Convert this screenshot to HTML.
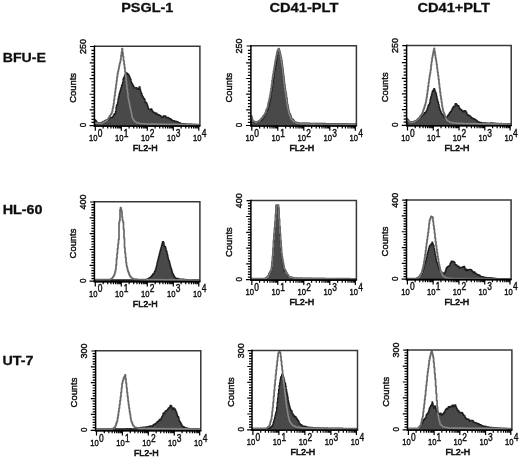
<!DOCTYPE html>
<html lang="en"><head><meta charset="utf-8"><title>Figure</title>
<style>
html,body{margin:0;padding:0;background:#fff;}
body{width:520px;height:458px;overflow:hidden;}
svg{display:block;}
</style></head><body>
<svg width="520" height="458" viewBox="0 0 520 458">
<defs><filter id="soft" x="0" y="0" width="520" height="458" filterUnits="userSpaceOnUse"><feGaussianBlur stdDeviation="0.38"/></filter></defs>
<rect width="520" height="458" fill="#fff"/>
<g filter="url(#soft)">
<g font-family="'Liberation Sans', Arial, Helvetica, sans-serif" fill="#111">
<g font-weight="bold" font-size="13.2px" stroke="#111" stroke-width="0.3">
<text x="121.2" y="12.4" textLength="52.2" lengthAdjust="spacingAndGlyphs">PSGL-1</text>
<text x="269.4" y="12.4" textLength="69.1" lengthAdjust="spacingAndGlyphs">CD41-PLT</text>
<text x="417.4" y="12.4" textLength="72.5" lengthAdjust="spacingAndGlyphs">CD41+PLT</text>
<text x="2.7" y="62.1" textLength="43.2" lengthAdjust="spacingAndGlyphs">BFU-E</text>
<text x="2.7" y="214.1" textLength="39.9" lengthAdjust="spacingAndGlyphs">HL-60</text>
<text x="2.5" y="365.2" textLength="30.9" lengthAdjust="spacingAndGlyphs">UT-7</text>
</g>
<g id="p1">
<clipPath id="c1"><rect x="94.4" y="46.3" width="105.5" height="80.60000000000001"/></clipPath>
<g clip-path="url(#c1)">
<clipPath id="d1"><path d="M95.0,119.8 H95.5 V120.6 H96.0 V121.2 H96.5 V122.0 H97.0 V123.1 H97.5 V123.1 H98.0 V122.8 H98.5 V122.8 H99.0 V123.0 H99.5 V123.0 H100.0 V122.9 H100.5 V122.9 H101.0 V122.8 H101.5 V122.5 H102.0 V122.5 H102.5 V122.3 H103.0 V121.7 H103.5 V121.4 H104.0 V121.4 H104.5 V121.2 H105.0 V120.6 H105.5 V120.4 H106.0 V120.1 H106.5 V119.8 H107.0 V119.9 H107.5 V119.7 H108.0 V119.9 H108.5 V119.6 H109.0 V118.5 H109.5 V118.1 H110.0 V117.9 H110.5 V117.5 H111.0 V117.7 H111.5 V117.3 H112.0 V117.5 H112.5 V117.1 H113.0 V116.1 H113.5 V115.4 H114.0 V114.3 H114.5 V113.6 H115.0 V113.9 H115.5 V111.6 H116.0 V107.7 H116.5 V105.4 H117.0 V104.6 H117.5 V102.4 H118.0 V99.1 H118.5 V96.9 H119.0 V94.4 H119.5 V92.6 H120.0 V90.8 H120.5 V89.1 H121.0 V87.7 H121.5 V85.7 H122.0 V84.6 H122.5 V82.6 H123.0 V79.4 H123.5 V77.9 H124.0 V77.1 H124.5 V75.6 H125.0 V74.3 H125.5 V73.9 H126.0 V73.1 H126.5 V72.8 H127.0 V73.7 H127.5 V74.4 H128.0 V74.2 H128.5 V75.2 H129.0 V76.2 H129.5 V77.2 H130.0 V78.5 H130.5 V79.7 H131.0 V81.8 H131.5 V83.1 H132.0 V83.9 H132.5 V84.9 H133.0 V85.7 H133.5 V86.7 H134.0 V88.2 H134.5 V88.2 H135.0 V87.9 H135.5 V87.9 H136.0 V87.6 H136.5 V87.9 H137.0 V89.0 H137.5 V89.3 H138.0 V89.4 H138.5 V88.6 H139.0 V87.1 H139.5 V86.9 H140.0 V89.4 H140.5 V91.3 H141.0 V93.0 H141.5 V94.0 H142.0 V95.7 H142.5 V96.7 H143.0 V97.4 H143.5 V98.4 H144.0 V98.6 H144.5 V99.6 H145.0 V101.9 H145.5 V102.9 H146.0 V102.3 H146.5 V103.3 H147.0 V104.9 H147.5 V106.1 H148.0 V108.0 H148.5 V109.2 H149.0 V109.4 H149.5 V109.3 H150.0 V109.8 H150.5 V109.7 H151.0 V108.8 H151.5 V109.3 H152.0 V110.9 H152.5 V111.4 H153.0 V112.1 H153.5 V112.4 H154.0 V112.4 H154.5 V112.8 H155.0 V113.7 H155.5 V113.9 H156.0 V113.2 H156.5 V113.4 H157.0 V114.4 H157.5 V114.6 H158.0 V114.7 H158.5 V114.9 H159.0 V115.1 H159.5 V115.5 H160.0 V115.6 H160.5 V115.9 H161.0 V116.9 H161.5 V117.2 H162.0 V117.7 H162.5 V117.4 H163.0 V116.3 H163.5 V115.9 H164.0 V115.9 H164.5 V116.4 H165.0 V115.9 H165.5 V116.4 H166.0 V117.9 H166.5 V117.8 H167.0 V117.5 H167.5 V117.4 H168.0 V117.8 H168.5 V118.2 H169.0 V118.5 H169.5 V118.9 H170.0 V118.7 H170.5 V119.1 H171.0 V119.5 H171.5 V119.9 H172.0 V120.5 H172.5 V120.8 H173.0 V120.6 H173.5 V120.7 H174.0 V121.2 H174.5 V121.3 H175.0 V121.2 H175.5 V121.4 H176.0 V121.5 H176.5 V121.6 H177.0 V121.7 H177.5 V121.9 H178.0 V122.6 H178.5 V122.8 H179.0 V122.6 H179.5 V122.8 H180.0 V123.1 H180.5 V123.3 H181.0 V123.6 H181.5 V123.6 H182.0 V123.8 H182.5 V123.8 H183.0 V123.6 H183.5 V123.6 H184.0 V123.8 H184.5 V123.8 H185.0 V123.9 H185.5 V123.9 H186.0 V124.1 H186.5 V124.1 H187.0 V124.1 H187.5 V124.1 H188.0 V124.2 H188.5 V124.2 H189.0 V124.1 H189.5 V124.1 H190.0 V124.2 H190.5 V124.2 H191.0 V124.2 H191.5 V124.3 H192.0 V124.4 H192.5 V124.5 H193.0 V124.4 H193.5 V124.4 H194.0 V124.5 H194.5 V124.5 H195.0 V124.5 H195.5 V124.5 H196.0 V124.6 H196.5 V124.6 H197.0 V124.6 H197.5 V124.7 H198.0 V124.7 H198.5 V124.7 H199.0 V124.7 H199.5 V124.8 H200.0 V124.8 V126.9 H95.0 Z"/></clipPath>
<path d="M95.0,119.8 H95.5 V120.6 H96.0 V121.2 H96.5 V122.0 H97.0 V123.1 H97.5 V123.1 H98.0 V122.8 H98.5 V122.8 H99.0 V123.0 H99.5 V123.0 H100.0 V122.9 H100.5 V122.9 H101.0 V122.8 H101.5 V122.5 H102.0 V122.5 H102.5 V122.3 H103.0 V121.7 H103.5 V121.4 H104.0 V121.4 H104.5 V121.2 H105.0 V120.6 H105.5 V120.4 H106.0 V120.1 H106.5 V119.8 H107.0 V119.9 H107.5 V119.7 H108.0 V119.9 H108.5 V119.6 H109.0 V118.5 H109.5 V118.1 H110.0 V117.9 H110.5 V117.5 H111.0 V117.7 H111.5 V117.3 H112.0 V117.5 H112.5 V117.1 H113.0 V116.1 H113.5 V115.4 H114.0 V114.3 H114.5 V113.6 H115.0 V113.9 H115.5 V111.6 H116.0 V107.7 H116.5 V105.4 H117.0 V104.6 H117.5 V102.4 H118.0 V99.1 H118.5 V96.9 H119.0 V94.4 H119.5 V92.6 H120.0 V90.8 H120.5 V89.1 H121.0 V87.7 H121.5 V85.7 H122.0 V84.6 H122.5 V82.6 H123.0 V79.4 H123.5 V77.9 H124.0 V77.1 H124.5 V75.6 H125.0 V74.3 H125.5 V73.9 H126.0 V73.1 H126.5 V72.8 H127.0 V73.7 H127.5 V74.4 H128.0 V74.2 H128.5 V75.2 H129.0 V76.2 H129.5 V77.2 H130.0 V78.5 H130.5 V79.7 H131.0 V81.8 H131.5 V83.1 H132.0 V83.9 H132.5 V84.9 H133.0 V85.7 H133.5 V86.7 H134.0 V88.2 H134.5 V88.2 H135.0 V87.9 H135.5 V87.9 H136.0 V87.6 H136.5 V87.9 H137.0 V89.0 H137.5 V89.3 H138.0 V89.4 H138.5 V88.6 H139.0 V87.1 H139.5 V86.9 H140.0 V89.4 H140.5 V91.3 H141.0 V93.0 H141.5 V94.0 H142.0 V95.7 H142.5 V96.7 H143.0 V97.4 H143.5 V98.4 H144.0 V98.6 H144.5 V99.6 H145.0 V101.9 H145.5 V102.9 H146.0 V102.3 H146.5 V103.3 H147.0 V104.9 H147.5 V106.1 H148.0 V108.0 H148.5 V109.2 H149.0 V109.4 H149.5 V109.3 H150.0 V109.8 H150.5 V109.7 H151.0 V108.8 H151.5 V109.3 H152.0 V110.9 H152.5 V111.4 H153.0 V112.1 H153.5 V112.4 H154.0 V112.4 H154.5 V112.8 H155.0 V113.7 H155.5 V113.9 H156.0 V113.2 H156.5 V113.4 H157.0 V114.4 H157.5 V114.6 H158.0 V114.7 H158.5 V114.9 H159.0 V115.1 H159.5 V115.5 H160.0 V115.6 H160.5 V115.9 H161.0 V116.9 H161.5 V117.2 H162.0 V117.7 H162.5 V117.4 H163.0 V116.3 H163.5 V115.9 H164.0 V115.9 H164.5 V116.4 H165.0 V115.9 H165.5 V116.4 H166.0 V117.9 H166.5 V117.8 H167.0 V117.5 H167.5 V117.4 H168.0 V117.8 H168.5 V118.2 H169.0 V118.5 H169.5 V118.9 H170.0 V118.7 H170.5 V119.1 H171.0 V119.5 H171.5 V119.9 H172.0 V120.5 H172.5 V120.8 H173.0 V120.6 H173.5 V120.7 H174.0 V121.2 H174.5 V121.3 H175.0 V121.2 H175.5 V121.4 H176.0 V121.5 H176.5 V121.6 H177.0 V121.7 H177.5 V121.9 H178.0 V122.6 H178.5 V122.8 H179.0 V122.6 H179.5 V122.8 H180.0 V123.1 H180.5 V123.3 H181.0 V123.6 H181.5 V123.6 H182.0 V123.8 H182.5 V123.8 H183.0 V123.6 H183.5 V123.6 H184.0 V123.8 H184.5 V123.8 H185.0 V123.9 H185.5 V123.9 H186.0 V124.1 H186.5 V124.1 H187.0 V124.1 H187.5 V124.1 H188.0 V124.2 H188.5 V124.2 H189.0 V124.1 H189.5 V124.1 H190.0 V124.2 H190.5 V124.2 H191.0 V124.2 H191.5 V124.3 H192.0 V124.4 H192.5 V124.5 H193.0 V124.4 H193.5 V124.4 H194.0 V124.5 H194.5 V124.5 H195.0 V124.5 H195.5 V124.5 H196.0 V124.6 H196.5 V124.6 H197.0 V124.6 H197.5 V124.7 H198.0 V124.7 H198.5 V124.7 H199.0 V124.7 H199.5 V124.8 H200.0 V124.8 V126.9 H95.0 Z" fill="#494949" stroke="#1e1e1e" stroke-width="1.3" stroke-linejoin="miter"/>
<path d="M95.0,123.1 H95.5 V123.2 H96.0 V123.0 H96.5 V123.1 H97.0 V123.1 H97.5 V123.2 H98.0 V123.2 H98.5 V123.3 H99.0 V123.3 H99.5 V123.4 H100.0 V123.5 H100.5 V123.5 H101.0 V123.6 H101.5 V123.4 H102.0 V123.0 H102.5 V122.7 H103.0 V122.4 H103.5 V122.1 H104.0 V122.0 H104.5 V121.7 H105.0 V121.5 H105.5 V121.2 H106.0 V121.0 H106.5 V120.4 H107.0 V119.9 H107.5 V119.3 H108.0 V118.5 H108.5 V117.8 H109.0 V117.0 H109.5 V116.2 H110.0 V115.5 H110.5 V114.6 H111.0 V113.8 H111.5 V113.0 H112.0 V111.6 H112.5 V108.7 H113.0 V106.7 H113.5 V103.6 H114.0 V99.6 H114.5 V95.7 H115.0 V91.9 H115.5 V88.2 H116.0 V84.5 H116.5 V80.8 H117.0 V76.8 H117.5 V73.4 H118.0 V71.1 H118.5 V68.8 H119.0 V66.1 H119.5 V63.8 H120.0 V62.0 H120.5 V59.4 H121.0 V55.4 H121.5 V52.0 H122.0 V48.6 H122.5 V52.5 H123.0 V56.6 H123.5 V60.5 H124.0 V64.2 H124.5 V67.9 H125.0 V71.8 H125.5 V76.2 H126.0 V80.3 H126.5 V84.7 H127.0 V88.9 H127.5 V93.2 H128.0 V97.7 H128.5 V100.2 H129.0 V102.6 H129.5 V105.1 H130.0 V107.9 H130.5 V110.1 H131.0 V112.0 H131.5 V114.3 H132.0 V117.3 H132.5 V118.3 H133.0 V119.1 H133.5 V120.1 H134.0 V120.8 H134.5 V121.2 H135.0 V121.6 H135.5 V121.9 H136.0 V122.3 H136.5 V122.6 H137.0 V123.0 H137.5 V123.0 H138.0 V123.0 H138.5 V123.1 H139.0 V123.3 H139.5 V123.4 H140.0 V123.5 H140.5 V123.6 H141.0 V123.5 H141.5 V123.6 H142.0 V123.6 H142.5 V123.7 H143.0 V123.7 H143.5 V123.7 H144.0 V123.8 H144.5 V123.9 H145.0 V124.0 H145.5 V124.0 H146.0 V124.0 H146.5 V124.0 H147.0 V124.1 H147.5 V124.1 H148.0 V124.0 H148.5 V124.0 H149.0 V124.0 H149.5 V124.0 H150.0 V124.1 H150.5 V124.1 H151.0 V124.1 H151.5 V124.1 H152.0 V124.0 H152.5 V124.0 H153.0 V124.1 H153.5 V124.1 H154.0 V124.0 H154.5 V124.0 H155.0 V124.1 H155.5 V124.1 H156.0 V124.2 H156.5 V124.2 H157.0 V124.2 H157.5 V124.2 H158.0 V124.2 H158.5 V124.2 H159.0 V124.1 H159.5 V124.1 H160.0 V124.1 H160.5 V124.1 H161.0 V124.1 H161.5 V124.1 H162.0 V124.2 H162.5 V124.2 H163.0 V124.2 H163.5 V124.2 H164.0 V124.3 H164.5 V124.3 H165.0 V124.2 H165.5 V124.2 H166.0 V124.2 H166.5 V124.2 H167.0 V124.3 H167.5 V124.3 H168.0 V124.3 H168.5 V124.3 H169.0 V124.3 H169.5 V124.3 H170.0 V124.3 H170.5 V124.3 H171.0 V124.3 H171.5 V124.3 H172.0 V124.3 H172.5 V124.3 H173.0 V124.3 H173.5 V124.3 H174.0 V124.3 H174.5 V124.3 H175.0 V124.3 H175.5 V124.3 H176.0 V124.3 H176.5 V124.3 H177.0 V124.3 H177.5 V124.3 H178.0 V124.3 H178.5 V124.3 H179.0 V124.3 H179.5 V124.3 H180.0 V124.4 H180.5 V124.4 H181.0 V124.5 H181.5 V124.4 H182.0 V124.4 H182.5 V124.4 H183.0 V124.4 H183.5 V124.4 H184.0 V124.4 H184.5 V124.4 H185.0 V124.4 H185.5 V124.4 H186.0 V124.5 H186.5 V124.5 H187.0 V124.5 H187.5 V124.5 H188.0 V124.5 H188.5 V124.5 H189.0 V124.5 H189.5 V124.5 H190.0 V124.5 H190.5 V124.5 H191.0 V124.5 H191.5 V124.5 H192.0 V124.5 H192.5 V124.5 H193.0 V124.5 H193.5 V124.5 H194.0 V124.5 H194.5 V124.5 H195.0 V124.6 H195.5 V124.6 H196.0 V124.6 H196.5 V124.6 H197.0 V124.6 H197.5 V124.6 H198.0 V124.6 H198.5 V124.6 H199.0 V124.6" fill="none" stroke="#686868" stroke-width="1.7" stroke-linejoin="round"/>
<path d="M95.0,123.1 H95.5 V123.2 H96.0 V123.0 H96.5 V123.1 H97.0 V123.1 H97.5 V123.2 H98.0 V123.2 H98.5 V123.3 H99.0 V123.3 H99.5 V123.4 H100.0 V123.5 H100.5 V123.5 H101.0 V123.6 H101.5 V123.4 H102.0 V123.0 H102.5 V122.7 H103.0 V122.4 H103.5 V122.1 H104.0 V122.0 H104.5 V121.7 H105.0 V121.5 H105.5 V121.2 H106.0 V121.0 H106.5 V120.4 H107.0 V119.9 H107.5 V119.3 H108.0 V118.5 H108.5 V117.8 H109.0 V117.0 H109.5 V116.2 H110.0 V115.5 H110.5 V114.6 H111.0 V113.8 H111.5 V113.0 H112.0 V111.6 H112.5 V108.7 H113.0 V106.7 H113.5 V103.6 H114.0 V99.6 H114.5 V95.7 H115.0 V91.9 H115.5 V88.2 H116.0 V84.5 H116.5 V80.8 H117.0 V76.8 H117.5 V73.4 H118.0 V71.1 H118.5 V68.8 H119.0 V66.1 H119.5 V63.8 H120.0 V62.0 H120.5 V59.4 H121.0 V55.4 H121.5 V52.0 H122.0 V48.6 H122.5 V52.5 H123.0 V56.6 H123.5 V60.5 H124.0 V64.2 H124.5 V67.9 H125.0 V71.8 H125.5 V76.2 H126.0 V80.3 H126.5 V84.7 H127.0 V88.9 H127.5 V93.2 H128.0 V97.7 H128.5 V100.2 H129.0 V102.6 H129.5 V105.1 H130.0 V107.9 H130.5 V110.1 H131.0 V112.0 H131.5 V114.3 H132.0 V117.3 H132.5 V118.3 H133.0 V119.1 H133.5 V120.1 H134.0 V120.8 H134.5 V121.2 H135.0 V121.6 H135.5 V121.9 H136.0 V122.3 H136.5 V122.6 H137.0 V123.0 H137.5 V123.0 H138.0 V123.0 H138.5 V123.1 H139.0 V123.3 H139.5 V123.4 H140.0 V123.5 H140.5 V123.6 H141.0 V123.5 H141.5 V123.6 H142.0 V123.6 H142.5 V123.7 H143.0 V123.7 H143.5 V123.7 H144.0 V123.8 H144.5 V123.9 H145.0 V124.0 H145.5 V124.0 H146.0 V124.0 H146.5 V124.0 H147.0 V124.1 H147.5 V124.1 H148.0 V124.0 H148.5 V124.0 H149.0 V124.0 H149.5 V124.0 H150.0 V124.1 H150.5 V124.1 H151.0 V124.1 H151.5 V124.1 H152.0 V124.0 H152.5 V124.0 H153.0 V124.1 H153.5 V124.1 H154.0 V124.0 H154.5 V124.0 H155.0 V124.1 H155.5 V124.1 H156.0 V124.2 H156.5 V124.2 H157.0 V124.2 H157.5 V124.2 H158.0 V124.2 H158.5 V124.2 H159.0 V124.1 H159.5 V124.1 H160.0 V124.1 H160.5 V124.1 H161.0 V124.1 H161.5 V124.1 H162.0 V124.2 H162.5 V124.2 H163.0 V124.2 H163.5 V124.2 H164.0 V124.3 H164.5 V124.3 H165.0 V124.2 H165.5 V124.2 H166.0 V124.2 H166.5 V124.2 H167.0 V124.3 H167.5 V124.3 H168.0 V124.3 H168.5 V124.3 H169.0 V124.3 H169.5 V124.3 H170.0 V124.3 H170.5 V124.3 H171.0 V124.3 H171.5 V124.3 H172.0 V124.3 H172.5 V124.3 H173.0 V124.3 H173.5 V124.3 H174.0 V124.3 H174.5 V124.3 H175.0 V124.3 H175.5 V124.3 H176.0 V124.3 H176.5 V124.3 H177.0 V124.3 H177.5 V124.3 H178.0 V124.3 H178.5 V124.3 H179.0 V124.3 H179.5 V124.3 H180.0 V124.4 H180.5 V124.4 H181.0 V124.5 H181.5 V124.4 H182.0 V124.4 H182.5 V124.4 H183.0 V124.4 H183.5 V124.4 H184.0 V124.4 H184.5 V124.4 H185.0 V124.4 H185.5 V124.4 H186.0 V124.5 H186.5 V124.5 H187.0 V124.5 H187.5 V124.5 H188.0 V124.5 H188.5 V124.5 H189.0 V124.5 H189.5 V124.5 H190.0 V124.5 H190.5 V124.5 H191.0 V124.5 H191.5 V124.5 H192.0 V124.5 H192.5 V124.5 H193.0 V124.5 H193.5 V124.5 H194.0 V124.5 H194.5 V124.5 H195.0 V124.6 H195.5 V124.6 H196.0 V124.6 H196.5 V124.6 H197.0 V124.6 H197.5 V124.6 H198.0 V124.6 H198.5 V124.6 H199.0 V124.6" fill="none" stroke="#878787" stroke-width="1.15" stroke-linejoin="round" clip-path="url(#d1)"/>
</g>
<path d="M93.7,46.3 H199.9 V125.9" fill="none" stroke="#383838" stroke-width="1.5"/>
<path d="M94.4,45.599999999999994 V126.7" fill="none" stroke="#000" stroke-width="1.5"/>
<path d="M93.7,125.9 H200.6" fill="none" stroke="#000" stroke-width="1.35"/>
<path d="M94.4,125.60h-4.9 M94.4,122.47h-3.0 M94.4,119.33h-3.0 M94.4,116.20h-3.0 M94.4,113.07h-3.0 M94.4,109.94h-4.7 M94.4,106.80h-3.0 M94.4,103.67h-3.0 M94.4,100.54h-3.0 M94.4,97.40h-3.0 M94.4,94.27h-4.7 M94.4,91.14h-3.0 M94.4,88.00h-3.0 M94.4,84.87h-3.0 M94.4,81.74h-3.0 M94.4,78.61h-4.7 M94.4,75.47h-3.0 M94.4,72.34h-3.0 M94.4,69.21h-3.0 M94.4,66.07h-3.0 M94.4,62.94h-4.7 M94.4,59.81h-3.0 M94.4,56.67h-3.0 M94.4,53.54h-3.0 M94.4,50.41h-3.0 M94.4,46.50h-4.3" stroke="#000" stroke-width="1.2" fill="none"/>
<path d="M95.30,125.9v4.9 M103.13,125.9v2.7 M107.71,125.9v2.7 M110.95,125.9v2.7 M113.47,125.9v2.7 M115.53,125.9v2.7 M117.27,125.9v2.7 M118.78,125.9v2.7 M120.11,125.9v2.7 M121.30,125.9v4.9 M129.13,125.9v2.7 M133.71,125.9v2.7 M136.95,125.9v2.7 M139.47,125.9v2.7 M141.53,125.9v2.7 M143.27,125.9v2.7 M144.78,125.9v2.7 M146.11,125.9v2.7 M147.30,125.9v4.9 M155.13,125.9v2.7 M159.71,125.9v2.7 M162.95,125.9v2.7 M165.47,125.9v2.7 M167.53,125.9v2.7 M169.27,125.9v2.7 M170.78,125.9v2.7 M172.11,125.9v2.7 M173.30,125.9v4.9 M181.13,125.9v2.7 M185.71,125.9v2.7 M188.95,125.9v2.7 M191.47,125.9v2.7 M193.53,125.9v2.7 M195.27,125.9v2.7 M196.78,125.9v2.7 M198.11,125.9v2.7 M198.80,125.9v4.9" stroke="#000" stroke-width="1.2" fill="none"/>
<g font-size="9.2px" stroke="#111" stroke-width="0.42">
<text transform="translate(85.9,46.5) rotate(-90)" text-anchor="middle" textLength="15.0" lengthAdjust="spacingAndGlyphs">250</text>
<text transform="translate(85.9,125.1) rotate(-90)" text-anchor="middle" textLength="4.5" lengthAdjust="spacingAndGlyphs">0</text>
<text transform="translate(75.9,87.9) rotate(-90)" text-anchor="middle" textLength="29.8" lengthAdjust="spacingAndGlyphs">Counts</text>
<text x="89.1" y="141.2" font-size="9.9px" textLength="8.5" lengthAdjust="spacingAndGlyphs">10</text>
<text x="97.8" y="136.8" font-size="10.6px" textLength="4.7" lengthAdjust="spacingAndGlyphs">0</text>
<text x="115.1" y="141.2" font-size="9.9px" textLength="8.5" lengthAdjust="spacingAndGlyphs">10</text>
<text x="123.8" y="136.8" font-size="10.6px" textLength="4.7" lengthAdjust="spacingAndGlyphs">1</text>
<text x="141.1" y="141.2" font-size="9.9px" textLength="8.5" lengthAdjust="spacingAndGlyphs">10</text>
<text x="149.8" y="136.8" font-size="10.6px" textLength="4.7" lengthAdjust="spacingAndGlyphs">2</text>
<text x="167.1" y="141.2" font-size="9.9px" textLength="8.5" lengthAdjust="spacingAndGlyphs">10</text>
<text x="175.8" y="136.8" font-size="10.6px" textLength="4.7" lengthAdjust="spacingAndGlyphs">3</text>
<text x="193.1" y="141.2" font-size="9.9px" textLength="8.5" lengthAdjust="spacingAndGlyphs">10</text>
<text x="201.8" y="136.8" font-size="10.6px" textLength="4.7" lengthAdjust="spacingAndGlyphs">4</text>
<text x="145.2" y="151.1" text-anchor="middle" textLength="24.8" lengthAdjust="spacingAndGlyphs" stroke-width="0.6">FL2-H</text>
</g>
</g>
<g id="p2">
<clipPath id="c2"><rect x="250.9" y="45.8" width="105.49999999999997" height="81.0"/></clipPath>
<g clip-path="url(#c2)">
<clipPath id="d2"><path d="M251.0,115.9 H251.5 V117.5 H252.0 V119.7 H252.5 V121.1 H253.0 V121.5 H253.5 V121.7 H254.0 V121.8 H254.5 V121.9 H255.0 V121.7 H255.5 V121.8 H256.0 V121.9 H256.5 V122.1 H257.0 V122.2 H257.5 V121.9 H258.0 V121.6 H258.5 V121.3 H259.0 V121.0 H259.5 V120.6 H260.0 V120.7 H260.5 V120.4 H261.0 V120.4 H261.5 V119.8 H262.0 V119.2 H262.5 V118.6 H263.0 V117.5 H263.5 V116.8 H264.0 V116.5 H264.5 V115.9 H265.0 V115.5 H265.5 V114.4 H266.0 V111.9 H266.5 V110.8 H267.0 V110.6 H267.5 V109.5 H268.0 V108.7 H268.5 V106.7 H269.0 V104.3 H269.5 V102.3 H270.0 V100.1 H270.5 V97.8 H271.0 V94.2 H271.5 V91.1 H272.0 V87.4 H272.5 V83.9 H273.0 V81.5 H273.5 V78.0 H274.0 V73.7 H274.5 V70.7 H275.0 V68.5 H275.5 V65.5 H276.0 V62.8 H276.5 V59.7 H277.0 V55.6 H277.5 V52.4 H278.0 V50.4 H278.5 V48.6 H279.0 V50.6 H279.5 V52.4 H280.0 V53.7 H280.5 V56.1 H281.0 V58.0 H281.5 V60.8 H282.0 V64.8 H282.5 V69.0 H283.0 V73.4 H283.5 V76.9 H284.0 V81.7 H284.5 V85.2 H285.0 V88.6 H285.5 V92.1 H286.0 V94.4 H286.5 V97.9 H287.0 V102.6 H287.5 V105.1 H288.0 V107.9 H288.5 V110.4 H289.0 V112.3 H289.5 V113.6 H290.0 V114.4 H290.5 V115.8 H291.0 V117.5 H291.5 V118.8 H292.0 V119.0 H292.5 V119.5 H293.0 V119.9 H293.5 V120.5 H294.0 V121.8 H294.5 V122.2 H295.0 V122.2 H295.5 V122.3 H296.0 V122.4 H296.5 V122.5 H297.0 V122.9 H297.5 V123.0 H298.0 V122.9 H298.5 V123.0 H299.0 V123.4 H299.5 V123.4 H300.0 V123.4 H300.5 V123.4 H301.0 V123.1 H301.5 V123.1 H302.0 V123.1 H302.5 V123.1 H303.0 V123.2 H303.5 V123.2 H304.0 V123.2 H304.5 V123.2 H305.0 V123.3 H305.5 V123.4 H306.0 V123.2 H306.5 V123.2 H307.0 V123.3 H307.5 V123.3 H308.0 V123.2 H308.5 V123.2 H309.0 V123.6 H309.5 V123.6 H310.0 V123.3 H310.5 V123.3 H311.0 V123.4 H311.5 V123.4 H312.0 V123.5 H312.5 V123.5 H313.0 V123.6 H313.5 V123.6 H314.0 V123.4 H314.5 V123.4 H315.0 V123.7 H315.5 V123.7 H316.0 V123.5 H316.5 V123.5 H317.0 V123.5 H317.5 V123.5 H318.0 V123.5 H318.5 V123.6 H319.0 V123.4 H319.5 V123.4 H320.0 V123.5 H320.5 V123.6 H321.0 V123.5 H321.5 V123.5 H322.0 V123.4 H322.5 V123.4 H323.0 V123.7 H323.5 V123.7 H324.0 V123.5 H324.5 V123.5 H325.0 V123.6 H325.5 V123.7 H326.0 V123.8 H326.5 V123.8 H327.0 V123.7 H327.5 V123.7 H328.0 V123.6 H328.5 V123.7 H329.0 V123.7 H329.5 V123.7 H330.0 V123.8 H330.5 V123.8 H331.0 V123.9 H331.5 V123.9 H332.0 V123.6 H332.5 V123.6 H333.0 V123.8 H333.5 V123.8 H334.0 V123.7 H334.5 V123.7 H335.0 V123.8 H335.5 V123.8 H336.0 V123.9 H336.5 V124.0 H337.0 V123.9 H337.5 V123.9 H338.0 V123.9 H338.5 V123.9 H339.0 V124.0 H339.5 V124.0 H340.0 V124.1 H340.5 V124.1 H341.0 V123.9 H341.5 V123.9 H342.0 V124.0 H342.5 V124.0 H343.0 V124.0 H343.5 V124.0 H344.0 V124.0 H344.5 V124.0 H345.0 V124.1 H345.5 V124.1 H346.0 V124.0 H346.5 V124.0 H347.0 V124.1 H347.5 V124.1 H348.0 V124.1 H348.5 V124.1 H349.0 V124.2 H349.5 V124.2 H350.0 V124.2 H350.5 V124.2 H351.0 V124.2 H351.5 V124.2 H352.0 V124.3 H352.5 V124.3 H353.0 V124.1 H353.5 V124.1 H354.0 V124.2 H354.5 V124.2 H355.0 V124.3 H355.5 V124.3 H356.0 V124.3 V126.8 H251.0 Z"/></clipPath>
<path d="M251.0,115.9 H251.5 V117.5 H252.0 V119.7 H252.5 V121.1 H253.0 V121.5 H253.5 V121.7 H254.0 V121.8 H254.5 V121.9 H255.0 V121.7 H255.5 V121.8 H256.0 V121.9 H256.5 V122.1 H257.0 V122.2 H257.5 V121.9 H258.0 V121.6 H258.5 V121.3 H259.0 V121.0 H259.5 V120.6 H260.0 V120.7 H260.5 V120.4 H261.0 V120.4 H261.5 V119.8 H262.0 V119.2 H262.5 V118.6 H263.0 V117.5 H263.5 V116.8 H264.0 V116.5 H264.5 V115.9 H265.0 V115.5 H265.5 V114.4 H266.0 V111.9 H266.5 V110.8 H267.0 V110.6 H267.5 V109.5 H268.0 V108.7 H268.5 V106.7 H269.0 V104.3 H269.5 V102.3 H270.0 V100.1 H270.5 V97.8 H271.0 V94.2 H271.5 V91.1 H272.0 V87.4 H272.5 V83.9 H273.0 V81.5 H273.5 V78.0 H274.0 V73.7 H274.5 V70.7 H275.0 V68.5 H275.5 V65.5 H276.0 V62.8 H276.5 V59.7 H277.0 V55.6 H277.5 V52.4 H278.0 V50.4 H278.5 V48.6 H279.0 V50.6 H279.5 V52.4 H280.0 V53.7 H280.5 V56.1 H281.0 V58.0 H281.5 V60.8 H282.0 V64.8 H282.5 V69.0 H283.0 V73.4 H283.5 V76.9 H284.0 V81.7 H284.5 V85.2 H285.0 V88.6 H285.5 V92.1 H286.0 V94.4 H286.5 V97.9 H287.0 V102.6 H287.5 V105.1 H288.0 V107.9 H288.5 V110.4 H289.0 V112.3 H289.5 V113.6 H290.0 V114.4 H290.5 V115.8 H291.0 V117.5 H291.5 V118.8 H292.0 V119.0 H292.5 V119.5 H293.0 V119.9 H293.5 V120.5 H294.0 V121.8 H294.5 V122.2 H295.0 V122.2 H295.5 V122.3 H296.0 V122.4 H296.5 V122.5 H297.0 V122.9 H297.5 V123.0 H298.0 V122.9 H298.5 V123.0 H299.0 V123.4 H299.5 V123.4 H300.0 V123.4 H300.5 V123.4 H301.0 V123.1 H301.5 V123.1 H302.0 V123.1 H302.5 V123.1 H303.0 V123.2 H303.5 V123.2 H304.0 V123.2 H304.5 V123.2 H305.0 V123.3 H305.5 V123.4 H306.0 V123.2 H306.5 V123.2 H307.0 V123.3 H307.5 V123.3 H308.0 V123.2 H308.5 V123.2 H309.0 V123.6 H309.5 V123.6 H310.0 V123.3 H310.5 V123.3 H311.0 V123.4 H311.5 V123.4 H312.0 V123.5 H312.5 V123.5 H313.0 V123.6 H313.5 V123.6 H314.0 V123.4 H314.5 V123.4 H315.0 V123.7 H315.5 V123.7 H316.0 V123.5 H316.5 V123.5 H317.0 V123.5 H317.5 V123.5 H318.0 V123.5 H318.5 V123.6 H319.0 V123.4 H319.5 V123.4 H320.0 V123.5 H320.5 V123.6 H321.0 V123.5 H321.5 V123.5 H322.0 V123.4 H322.5 V123.4 H323.0 V123.7 H323.5 V123.7 H324.0 V123.5 H324.5 V123.5 H325.0 V123.6 H325.5 V123.7 H326.0 V123.8 H326.5 V123.8 H327.0 V123.7 H327.5 V123.7 H328.0 V123.6 H328.5 V123.7 H329.0 V123.7 H329.5 V123.7 H330.0 V123.8 H330.5 V123.8 H331.0 V123.9 H331.5 V123.9 H332.0 V123.6 H332.5 V123.6 H333.0 V123.8 H333.5 V123.8 H334.0 V123.7 H334.5 V123.7 H335.0 V123.8 H335.5 V123.8 H336.0 V123.9 H336.5 V124.0 H337.0 V123.9 H337.5 V123.9 H338.0 V123.9 H338.5 V123.9 H339.0 V124.0 H339.5 V124.0 H340.0 V124.1 H340.5 V124.1 H341.0 V123.9 H341.5 V123.9 H342.0 V124.0 H342.5 V124.0 H343.0 V124.0 H343.5 V124.0 H344.0 V124.0 H344.5 V124.0 H345.0 V124.1 H345.5 V124.1 H346.0 V124.0 H346.5 V124.0 H347.0 V124.1 H347.5 V124.1 H348.0 V124.1 H348.5 V124.1 H349.0 V124.2 H349.5 V124.2 H350.0 V124.2 H350.5 V124.2 H351.0 V124.2 H351.5 V124.2 H352.0 V124.3 H352.5 V124.3 H353.0 V124.1 H353.5 V124.1 H354.0 V124.2 H354.5 V124.2 H355.0 V124.3 H355.5 V124.3 H356.0 V124.3 V126.8 H251.0 Z" fill="#494949" stroke="#1e1e1e" stroke-width="1.3" stroke-linejoin="miter"/>
<path d="M251.0,115.6 H251.5 V117.3 H252.0 V118.9 H252.5 V120.5 H253.0 V121.1 H253.5 V121.3 H254.0 V121.4 H254.5 V121.6 H255.0 V121.9 H255.5 V122.1 H256.0 V122.3 H256.5 V121.9 H257.0 V121.9 H257.5 V121.6 H258.0 V121.3 H258.5 V121.0 H259.0 V120.8 H259.5 V120.5 H260.0 V119.8 H260.5 V119.2 H261.0 V118.9 H261.5 V118.3 H262.0 V117.6 H262.5 V117.0 H263.0 V115.9 H263.5 V115.3 H264.0 V115.4 H264.5 V114.2 H265.0 V113.1 H265.5 V112.0 H266.0 V110.1 H266.5 V108.9 H267.0 V108.5 H267.5 V106.4 H268.0 V103.7 H268.5 V101.6 H269.0 V99.7 H269.5 V97.4 H270.0 V94.7 H270.5 V91.6 H271.0 V88.3 H271.5 V84.8 H272.0 V80.7 H272.5 V77.2 H273.0 V73.9 H273.5 V70.9 H274.0 V68.0 H274.5 V65.0 H275.0 V61.8 H275.5 V59.3 H276.0 V56.7 H276.5 V54.2 H277.0 V51.8 H277.5 V50.4 H278.0 V49.4 H278.5 V48.6 H279.0 V49.8 H279.5 V51.6 H280.0 V54.1 H280.5 V56.9 H281.0 V59.7 H281.5 V62.7 H282.0 V66.0 H282.5 V69.8 H283.0 V73.8 H283.5 V78.2 H284.0 V82.9 H284.5 V87.2 H285.0 V90.8 H285.5 V94.3 H286.0 V97.4 H286.5 V100.9 H287.0 V104.5 H287.5 V107.0 H288.0 V109.3 H288.5 V111.8 H289.0 V113.6 H289.5 V115.1 H290.0 V115.7 H290.5 V117.2 H291.0 V118.8 H291.5 V119.4 H292.0 V119.7 H292.5 V120.3 H293.0 V121.1 H293.5 V121.6 H294.0 V121.9 H294.5 V122.1 H295.0 V122.2 H295.5 V122.4 H296.0 V122.6 H296.5 V122.8 H297.0 V123.1 H297.5 V123.2 H298.0 V123.4 H298.5 V123.5 H299.0 V123.5 H299.5 V123.6 H300.0 V123.6 H300.5 V123.6 H301.0 V123.8 H301.5 V123.8 H302.0 V123.7 H302.5 V123.7 H303.0 V123.8 H303.5 V123.8 H304.0 V123.7 H304.5 V123.7 H305.0 V123.7 H305.5 V123.7 H306.0 V123.9 H306.5 V123.9 H307.0 V123.9 H307.5 V123.9 H308.0 V123.8 H308.5 V123.8 H309.0 V124.0 H309.5 V124.0 H310.0 V124.0 H310.5 V124.0 H311.0 V124.1 H311.5 V124.1 H312.0 V123.9 H312.5 V123.9 H313.0 V124.1 H313.5 V124.1 H314.0 V123.9 H314.5 V123.9 H315.0 V124.1 H315.5 V124.1 H316.0 V124.0 H316.5 V124.0 H317.0 V124.0 H317.5 V124.0 H318.0 V124.0 H318.5 V124.0 H319.0 V124.1 H319.5 V124.1 H320.0 V124.0 H320.5 V124.0 H321.0 V124.0 H321.5 V124.0 H322.0 V124.1 H322.5 V124.1 H323.0 V124.0 H323.5 V124.0 H324.0 V124.0 H324.5 V124.0 H325.0 V124.0 H325.5 V124.0 H326.0 V124.0 H326.5 V124.0 H327.0 V124.0 H327.5 V124.0 H328.0 V124.0 H328.5 V124.0 H329.0 V124.0 H329.5 V124.0 H330.0 V124.1 H330.5 V124.1 H331.0 V124.1 H331.5 V124.1 H332.0 V124.1 H332.5 V124.1 H333.0 V124.0 H333.5 V124.0 H334.0 V124.1 H334.5 V124.1 H335.0 V124.0 H335.5 V124.0 H336.0 V124.1 H336.5 V124.1 H337.0 V124.0 H337.5 V124.0 H338.0 V124.2 H338.5 V124.2 H339.0 V124.1 H339.5 V124.1 H340.0 V124.1 H340.5 V124.1 H341.0 V124.1 H341.5 V124.1 H342.0 V124.2 H342.5 V124.2 H343.0 V124.1 H343.5 V124.1 H344.0 V124.2 H344.5 V124.2 H345.0 V124.1 H345.5 V124.1 H346.0 V124.2 H346.5 V124.2 H347.0 V124.2 H347.5 V124.2 H348.0 V124.1 H348.5 V124.1 H349.0 V124.2 H349.5 V124.2 H350.0 V124.2 H350.5 V124.2 H351.0 V124.3 H351.5 V124.3 H352.0 V124.2 H352.5 V124.2 H353.0 V124.2 H353.5 V124.2 H354.0 V124.2 H354.5 V124.2 H355.0 V124.2 H355.5 V124.2 H356.0 V124.2" fill="none" stroke="#686868" stroke-width="1.7" stroke-linejoin="round"/>
<path d="M251.0,115.6 H251.5 V117.3 H252.0 V118.9 H252.5 V120.5 H253.0 V121.1 H253.5 V121.3 H254.0 V121.4 H254.5 V121.6 H255.0 V121.9 H255.5 V122.1 H256.0 V122.3 H256.5 V121.9 H257.0 V121.9 H257.5 V121.6 H258.0 V121.3 H258.5 V121.0 H259.0 V120.8 H259.5 V120.5 H260.0 V119.8 H260.5 V119.2 H261.0 V118.9 H261.5 V118.3 H262.0 V117.6 H262.5 V117.0 H263.0 V115.9 H263.5 V115.3 H264.0 V115.4 H264.5 V114.2 H265.0 V113.1 H265.5 V112.0 H266.0 V110.1 H266.5 V108.9 H267.0 V108.5 H267.5 V106.4 H268.0 V103.7 H268.5 V101.6 H269.0 V99.7 H269.5 V97.4 H270.0 V94.7 H270.5 V91.6 H271.0 V88.3 H271.5 V84.8 H272.0 V80.7 H272.5 V77.2 H273.0 V73.9 H273.5 V70.9 H274.0 V68.0 H274.5 V65.0 H275.0 V61.8 H275.5 V59.3 H276.0 V56.7 H276.5 V54.2 H277.0 V51.8 H277.5 V50.4 H278.0 V49.4 H278.5 V48.6 H279.0 V49.8 H279.5 V51.6 H280.0 V54.1 H280.5 V56.9 H281.0 V59.7 H281.5 V62.7 H282.0 V66.0 H282.5 V69.8 H283.0 V73.8 H283.5 V78.2 H284.0 V82.9 H284.5 V87.2 H285.0 V90.8 H285.5 V94.3 H286.0 V97.4 H286.5 V100.9 H287.0 V104.5 H287.5 V107.0 H288.0 V109.3 H288.5 V111.8 H289.0 V113.6 H289.5 V115.1 H290.0 V115.7 H290.5 V117.2 H291.0 V118.8 H291.5 V119.4 H292.0 V119.7 H292.5 V120.3 H293.0 V121.1 H293.5 V121.6 H294.0 V121.9 H294.5 V122.1 H295.0 V122.2 H295.5 V122.4 H296.0 V122.6 H296.5 V122.8 H297.0 V123.1 H297.5 V123.2 H298.0 V123.4 H298.5 V123.5 H299.0 V123.5 H299.5 V123.6 H300.0 V123.6 H300.5 V123.6 H301.0 V123.8 H301.5 V123.8 H302.0 V123.7 H302.5 V123.7 H303.0 V123.8 H303.5 V123.8 H304.0 V123.7 H304.5 V123.7 H305.0 V123.7 H305.5 V123.7 H306.0 V123.9 H306.5 V123.9 H307.0 V123.9 H307.5 V123.9 H308.0 V123.8 H308.5 V123.8 H309.0 V124.0 H309.5 V124.0 H310.0 V124.0 H310.5 V124.0 H311.0 V124.1 H311.5 V124.1 H312.0 V123.9 H312.5 V123.9 H313.0 V124.1 H313.5 V124.1 H314.0 V123.9 H314.5 V123.9 H315.0 V124.1 H315.5 V124.1 H316.0 V124.0 H316.5 V124.0 H317.0 V124.0 H317.5 V124.0 H318.0 V124.0 H318.5 V124.0 H319.0 V124.1 H319.5 V124.1 H320.0 V124.0 H320.5 V124.0 H321.0 V124.0 H321.5 V124.0 H322.0 V124.1 H322.5 V124.1 H323.0 V124.0 H323.5 V124.0 H324.0 V124.0 H324.5 V124.0 H325.0 V124.0 H325.5 V124.0 H326.0 V124.0 H326.5 V124.0 H327.0 V124.0 H327.5 V124.0 H328.0 V124.0 H328.5 V124.0 H329.0 V124.0 H329.5 V124.0 H330.0 V124.1 H330.5 V124.1 H331.0 V124.1 H331.5 V124.1 H332.0 V124.1 H332.5 V124.1 H333.0 V124.0 H333.5 V124.0 H334.0 V124.1 H334.5 V124.1 H335.0 V124.0 H335.5 V124.0 H336.0 V124.1 H336.5 V124.1 H337.0 V124.0 H337.5 V124.0 H338.0 V124.2 H338.5 V124.2 H339.0 V124.1 H339.5 V124.1 H340.0 V124.1 H340.5 V124.1 H341.0 V124.1 H341.5 V124.1 H342.0 V124.2 H342.5 V124.2 H343.0 V124.1 H343.5 V124.1 H344.0 V124.2 H344.5 V124.2 H345.0 V124.1 H345.5 V124.1 H346.0 V124.2 H346.5 V124.2 H347.0 V124.2 H347.5 V124.2 H348.0 V124.1 H348.5 V124.1 H349.0 V124.2 H349.5 V124.2 H350.0 V124.2 H350.5 V124.2 H351.0 V124.3 H351.5 V124.3 H352.0 V124.2 H352.5 V124.2 H353.0 V124.2 H353.5 V124.2 H354.0 V124.2 H354.5 V124.2 H355.0 V124.2 H355.5 V124.2 H356.0 V124.2" fill="none" stroke="#878787" stroke-width="1.15" stroke-linejoin="round" clip-path="url(#d2)"/>
</g>
<path d="M250.20000000000002,45.8 H356.4 V125.8" fill="none" stroke="#383838" stroke-width="1.5"/>
<path d="M250.9,45.099999999999994 V126.6" fill="none" stroke="#000" stroke-width="1.5"/>
<path d="M250.20000000000002,125.8 H357.09999999999997" fill="none" stroke="#000" stroke-width="1.35"/>
<path d="M250.9,125.50h-4.9 M250.9,122.37h-3.0 M250.9,119.23h-3.0 M250.9,116.10h-3.0 M250.9,112.97h-3.0 M250.9,109.84h-4.7 M250.9,106.70h-3.0 M250.9,103.57h-3.0 M250.9,100.44h-3.0 M250.9,97.30h-3.0 M250.9,94.17h-4.7 M250.9,91.04h-3.0 M250.9,87.90h-3.0 M250.9,84.77h-3.0 M250.9,81.64h-3.0 M250.9,78.50h-4.7 M250.9,75.37h-3.0 M250.9,72.24h-3.0 M250.9,69.11h-3.0 M250.9,65.97h-3.0 M250.9,62.84h-4.7 M250.9,59.71h-3.0 M250.9,56.57h-3.0 M250.9,53.44h-3.0 M250.9,50.31h-3.0 M250.9,46.00h-4.3" stroke="#000" stroke-width="1.2" fill="none"/>
<path d="M251.80,125.8v4.9 M259.63,125.8v2.7 M264.21,125.8v2.7 M267.45,125.8v2.7 M269.97,125.8v2.7 M272.03,125.8v2.7 M273.77,125.8v2.7 M275.28,125.8v2.7 M276.61,125.8v2.7 M277.80,125.8v4.9 M285.63,125.8v2.7 M290.21,125.8v2.7 M293.45,125.8v2.7 M295.97,125.8v2.7 M298.03,125.8v2.7 M299.77,125.8v2.7 M301.28,125.8v2.7 M302.61,125.8v2.7 M303.80,125.8v4.9 M311.63,125.8v2.7 M316.21,125.8v2.7 M319.45,125.8v2.7 M321.97,125.8v2.7 M324.03,125.8v2.7 M325.77,125.8v2.7 M327.28,125.8v2.7 M328.61,125.8v2.7 M329.80,125.8v4.9 M337.63,125.8v2.7 M342.21,125.8v2.7 M345.45,125.8v2.7 M347.97,125.8v2.7 M350.03,125.8v2.7 M351.77,125.8v2.7 M353.28,125.8v2.7 M354.61,125.8v2.7 M355.30,125.8v4.9" stroke="#000" stroke-width="1.2" fill="none"/>
<g font-size="9.2px" stroke="#111" stroke-width="0.42">
<text transform="translate(242.4,46.0) rotate(-90)" text-anchor="middle" textLength="15.0" lengthAdjust="spacingAndGlyphs">250</text>
<text transform="translate(242.4,125.0) rotate(-90)" text-anchor="middle" textLength="4.5" lengthAdjust="spacingAndGlyphs">0</text>
<text transform="translate(232.4,87.6) rotate(-90)" text-anchor="middle" textLength="29.8" lengthAdjust="spacingAndGlyphs">Counts</text>
<text x="245.6" y="141.1" font-size="9.9px" textLength="8.5" lengthAdjust="spacingAndGlyphs">10</text>
<text x="254.3" y="136.7" font-size="10.6px" textLength="4.7" lengthAdjust="spacingAndGlyphs">0</text>
<text x="271.6" y="141.1" font-size="9.9px" textLength="8.5" lengthAdjust="spacingAndGlyphs">10</text>
<text x="280.3" y="136.7" font-size="10.6px" textLength="4.7" lengthAdjust="spacingAndGlyphs">1</text>
<text x="297.6" y="141.1" font-size="9.9px" textLength="8.5" lengthAdjust="spacingAndGlyphs">10</text>
<text x="306.3" y="136.7" font-size="10.6px" textLength="4.7" lengthAdjust="spacingAndGlyphs">2</text>
<text x="323.6" y="141.1" font-size="9.9px" textLength="8.5" lengthAdjust="spacingAndGlyphs">10</text>
<text x="332.3" y="136.7" font-size="10.6px" textLength="4.7" lengthAdjust="spacingAndGlyphs">3</text>
<text x="349.6" y="141.1" font-size="9.9px" textLength="8.5" lengthAdjust="spacingAndGlyphs">10</text>
<text x="358.3" y="136.7" font-size="10.6px" textLength="4.7" lengthAdjust="spacingAndGlyphs">4</text>
<text x="301.8" y="151.0" text-anchor="middle" textLength="24.8" lengthAdjust="spacingAndGlyphs" stroke-width="0.6">FL2-H</text>
</g>
</g>
<g id="p3">
<clipPath id="c3"><rect x="406.6" y="45.4" width="104.59999999999997" height="81.19999999999999"/></clipPath>
<g clip-path="url(#c3)">
<clipPath id="d3"><path d="M407.0,118.8 H407.5 V119.6 H408.0 V120.1 H408.5 V120.9 H409.0 V121.8 H409.5 V121.8 H410.0 V121.8 H410.5 V121.9 H411.0 V122.3 H411.5 V122.4 H412.0 V122.2 H412.5 V122.2 H413.0 V122.2 H413.5 V121.9 H414.0 V121.5 H414.5 V121.2 H415.0 V121.5 H415.5 V121.2 H416.0 V120.9 H416.5 V120.7 H417.0 V120.2 H417.5 V119.8 H418.0 V119.0 H418.5 V118.6 H419.0 V118.2 H419.5 V117.8 H420.0 V117.5 H420.5 V117.1 H421.0 V116.9 H421.5 V116.4 H422.0 V115.4 H422.5 V114.9 H423.0 V114.9 H423.5 V114.4 H424.0 V113.6 H424.5 V112.7 H425.0 V113.2 H425.5 V112.3 H426.0 V111.5 H426.5 V110.7 H427.0 V109.1 H427.5 V107.8 H428.0 V106.0 H428.5 V104.8 H429.0 V104.8 H429.5 V103.0 H430.0 V99.9 H430.5 V98.0 H431.0 V96.3 H431.5 V94.5 H432.0 V92.1 H432.5 V91.0 H433.0 V90.6 H433.5 V89.5 H434.0 V88.6 H434.5 V89.9 H435.0 V91.4 H435.5 V92.7 H436.0 V94.2 H436.5 V96.3 H437.0 V99.0 H437.5 V101.2 H438.0 V102.5 H438.5 V104.7 H439.0 V107.0 H439.5 V108.8 H440.0 V110.3 H440.5 V111.3 H441.0 V112.8 H441.5 V113.8 H442.0 V114.2 H442.5 V114.8 H443.0 V115.5 H443.5 V116.2 H444.0 V117.3 H444.5 V117.5 H445.0 V117.6 H445.5 V117.8 H446.0 V118.5 H446.5 V117.7 H447.0 V116.7 H447.5 V115.9 H448.0 V115.5 H448.5 V114.7 H449.0 V113.8 H449.5 V113.0 H450.0 V112.4 H450.5 V111.6 H451.0 V111.2 H451.5 V110.4 H452.0 V108.8 H452.5 V108.1 H453.0 V107.2 H453.5 V106.4 H454.0 V106.9 H454.5 V106.3 H455.0 V104.2 H455.5 V103.6 H456.0 V104.0 H456.5 V104.7 H457.0 V105.3 H457.5 V106.0 H458.0 V105.6 H458.5 V106.1 H459.0 V108.0 H459.5 V108.5 H460.0 V109.1 H460.5 V109.6 H461.0 V109.6 H461.5 V110.1 H462.0 V110.8 H462.5 V111.1 H463.0 V111.6 H463.5 V111.9 H464.0 V111.0 H464.5 V110.7 H465.0 V111.2 H465.5 V111.2 H466.0 V112.1 H466.5 V113.1 H467.0 V114.6 H467.5 V114.9 H468.0 V115.0 H468.5 V115.3 H469.0 V115.6 H469.5 V116.1 H470.0 V116.1 H470.5 V116.6 H471.0 V117.6 H471.5 V117.9 H472.0 V118.0 H472.5 V118.3 H473.0 V118.7 H473.5 V119.0 H474.0 V118.9 H474.5 V119.3 H475.0 V119.5 H475.5 V119.9 H476.0 V120.3 H476.5 V120.7 H477.0 V121.2 H477.5 V121.6 H478.0 V121.7 H478.5 V121.9 H479.0 V122.4 H479.5 V122.5 H480.0 V122.4 H480.5 V122.5 H481.0 V122.7 H481.5 V122.8 H482.0 V122.9 H482.5 V123.0 H483.0 V123.1 H483.5 V123.1 H484.0 V123.0 H484.5 V123.0 H485.0 V122.8 H485.5 V122.8 H486.0 V123.2 H486.5 V123.2 H487.0 V123.2 H487.5 V123.2 H488.0 V123.1 H488.5 V123.1 H489.0 V123.2 H489.5 V123.2 H490.0 V123.2 H490.5 V123.3 H491.0 V123.0 H491.5 V123.0 H492.0 V123.3 H492.5 V123.4 H493.0 V123.2 H493.5 V123.2 H494.0 V123.1 H494.5 V123.2 H495.0 V123.3 H495.5 V123.3 H496.0 V123.5 H496.5 V123.5 H497.0 V123.3 H497.5 V123.3 H498.0 V123.6 H498.5 V123.6 H499.0 V123.7 H499.5 V123.7 H500.0 V123.6 H500.5 V123.6 H501.0 V123.5 H501.5 V123.6 H502.0 V123.6 H502.5 V123.6 H503.0 V123.7 H503.5 V123.8 H504.0 V123.8 H504.5 V123.8 H505.0 V123.8 H505.5 V123.8 H506.0 V123.8 H506.5 V123.9 H507.0 V123.7 H507.5 V123.7 H508.0 V123.8 H508.5 V123.8 H509.0 V123.8 H509.5 V123.9 H510.0 V124.0 H510.5 V124.0 H511.0 V123.9 V126.6 H407.0 Z"/></clipPath>
<path d="M407.0,118.8 H407.5 V119.6 H408.0 V120.1 H408.5 V120.9 H409.0 V121.8 H409.5 V121.8 H410.0 V121.8 H410.5 V121.9 H411.0 V122.3 H411.5 V122.4 H412.0 V122.2 H412.5 V122.2 H413.0 V122.2 H413.5 V121.9 H414.0 V121.5 H414.5 V121.2 H415.0 V121.5 H415.5 V121.2 H416.0 V120.9 H416.5 V120.7 H417.0 V120.2 H417.5 V119.8 H418.0 V119.0 H418.5 V118.6 H419.0 V118.2 H419.5 V117.8 H420.0 V117.5 H420.5 V117.1 H421.0 V116.9 H421.5 V116.4 H422.0 V115.4 H422.5 V114.9 H423.0 V114.9 H423.5 V114.4 H424.0 V113.6 H424.5 V112.7 H425.0 V113.2 H425.5 V112.3 H426.0 V111.5 H426.5 V110.7 H427.0 V109.1 H427.5 V107.8 H428.0 V106.0 H428.5 V104.8 H429.0 V104.8 H429.5 V103.0 H430.0 V99.9 H430.5 V98.0 H431.0 V96.3 H431.5 V94.5 H432.0 V92.1 H432.5 V91.0 H433.0 V90.6 H433.5 V89.5 H434.0 V88.6 H434.5 V89.9 H435.0 V91.4 H435.5 V92.7 H436.0 V94.2 H436.5 V96.3 H437.0 V99.0 H437.5 V101.2 H438.0 V102.5 H438.5 V104.7 H439.0 V107.0 H439.5 V108.8 H440.0 V110.3 H440.5 V111.3 H441.0 V112.8 H441.5 V113.8 H442.0 V114.2 H442.5 V114.8 H443.0 V115.5 H443.5 V116.2 H444.0 V117.3 H444.5 V117.5 H445.0 V117.6 H445.5 V117.8 H446.0 V118.5 H446.5 V117.7 H447.0 V116.7 H447.5 V115.9 H448.0 V115.5 H448.5 V114.7 H449.0 V113.8 H449.5 V113.0 H450.0 V112.4 H450.5 V111.6 H451.0 V111.2 H451.5 V110.4 H452.0 V108.8 H452.5 V108.1 H453.0 V107.2 H453.5 V106.4 H454.0 V106.9 H454.5 V106.3 H455.0 V104.2 H455.5 V103.6 H456.0 V104.0 H456.5 V104.7 H457.0 V105.3 H457.5 V106.0 H458.0 V105.6 H458.5 V106.1 H459.0 V108.0 H459.5 V108.5 H460.0 V109.1 H460.5 V109.6 H461.0 V109.6 H461.5 V110.1 H462.0 V110.8 H462.5 V111.1 H463.0 V111.6 H463.5 V111.9 H464.0 V111.0 H464.5 V110.7 H465.0 V111.2 H465.5 V111.2 H466.0 V112.1 H466.5 V113.1 H467.0 V114.6 H467.5 V114.9 H468.0 V115.0 H468.5 V115.3 H469.0 V115.6 H469.5 V116.1 H470.0 V116.1 H470.5 V116.6 H471.0 V117.6 H471.5 V117.9 H472.0 V118.0 H472.5 V118.3 H473.0 V118.7 H473.5 V119.0 H474.0 V118.9 H474.5 V119.3 H475.0 V119.5 H475.5 V119.9 H476.0 V120.3 H476.5 V120.7 H477.0 V121.2 H477.5 V121.6 H478.0 V121.7 H478.5 V121.9 H479.0 V122.4 H479.5 V122.5 H480.0 V122.4 H480.5 V122.5 H481.0 V122.7 H481.5 V122.8 H482.0 V122.9 H482.5 V123.0 H483.0 V123.1 H483.5 V123.1 H484.0 V123.0 H484.5 V123.0 H485.0 V122.8 H485.5 V122.8 H486.0 V123.2 H486.5 V123.2 H487.0 V123.2 H487.5 V123.2 H488.0 V123.1 H488.5 V123.1 H489.0 V123.2 H489.5 V123.2 H490.0 V123.2 H490.5 V123.3 H491.0 V123.0 H491.5 V123.0 H492.0 V123.3 H492.5 V123.4 H493.0 V123.2 H493.5 V123.2 H494.0 V123.1 H494.5 V123.2 H495.0 V123.3 H495.5 V123.3 H496.0 V123.5 H496.5 V123.5 H497.0 V123.3 H497.5 V123.3 H498.0 V123.6 H498.5 V123.6 H499.0 V123.7 H499.5 V123.7 H500.0 V123.6 H500.5 V123.6 H501.0 V123.5 H501.5 V123.6 H502.0 V123.6 H502.5 V123.6 H503.0 V123.7 H503.5 V123.8 H504.0 V123.8 H504.5 V123.8 H505.0 V123.8 H505.5 V123.8 H506.0 V123.8 H506.5 V123.9 H507.0 V123.7 H507.5 V123.7 H508.0 V123.8 H508.5 V123.8 H509.0 V123.8 H509.5 V123.9 H510.0 V124.0 H510.5 V124.0 H511.0 V123.9 V126.6 H407.0 Z" fill="#494949" stroke="#1e1e1e" stroke-width="1.3" stroke-linejoin="miter"/>
<path d="M407.0,120.0 H407.5 V120.4 H408.0 V120.6 H408.5 V121.0 H409.0 V121.4 H409.5 V121.8 H410.0 V122.3 H410.5 V122.3 H411.0 V122.4 H411.5 V122.3 H412.0 V122.3 H412.5 V122.2 H413.0 V122.2 H413.5 V122.1 H414.0 V121.9 H414.5 V121.5 H415.0 V121.3 H415.5 V120.9 H416.0 V120.5 H416.5 V120.1 H417.0 V119.7 H417.5 V119.4 H418.0 V118.7 H418.5 V118.1 H419.0 V118.0 H419.5 V117.3 H420.0 V116.1 H420.5 V115.4 H421.0 V115.5 H421.5 V114.4 H422.0 V113.4 H422.5 V112.3 H423.0 V110.4 H423.5 V109.2 H424.0 V107.9 H424.5 V106.1 H425.0 V104.7 H425.5 V102.8 H426.0 V100.1 H426.5 V97.3 H427.0 V93.9 H427.5 V90.2 H428.0 V86.3 H428.5 V82.5 H429.0 V79.0 H429.5 V75.7 H430.0 V73.1 H430.5 V69.7 H431.0 V65.2 H431.5 V61.5 H432.0 V58.1 H432.5 V55.7 H433.0 V52.8 H433.5 V50.4 H434.0 V48.4 H434.5 V51.5 H435.0 V55.0 H435.5 V58.1 H436.0 V60.8 H436.5 V64.2 H437.0 V68.3 H437.5 V72.1 H438.0 V75.5 H438.5 V79.3 H439.0 V83.8 H439.5 V88.1 H440.0 V92.2 H440.5 V95.8 H441.0 V98.9 H441.5 V102.3 H442.0 V105.8 H442.5 V108.6 H443.0 V111.0 H443.5 V112.5 H444.0 V113.5 H444.5 V115.0 H445.0 V116.6 H445.5 V117.5 H446.0 V118.7 H446.5 V119.5 H447.0 V120.4 H447.5 V120.7 H448.0 V121.0 H448.5 V121.3 H449.0 V121.6 H449.5 V121.9 H450.0 V122.4 H450.5 V122.4 H451.0 V122.5 H451.5 V122.5 H452.0 V122.7 H452.5 V122.8 H453.0 V122.6 H453.5 V122.7 H454.0 V122.9 H454.5 V123.0 H455.0 V123.1 H455.5 V123.1 H456.0 V123.0 H456.5 V123.0 H457.0 V123.3 H457.5 V123.3 H458.0 V123.3 H458.5 V123.3 H459.0 V123.4 H459.5 V123.4 H460.0 V123.3 H460.5 V123.3 H461.0 V123.3 H461.5 V123.4 H462.0 V123.4 H462.5 V123.4 H463.0 V123.5 H463.5 V123.6 H464.0 V123.5 H464.5 V123.5 H465.0 V123.5 H465.5 V123.5 H466.0 V123.5 H466.5 V123.6 H467.0 V123.6 H467.5 V123.6 H468.0 V123.5 H468.5 V123.5 H469.0 V123.5 H469.5 V123.5 H470.0 V123.7 H470.5 V123.7 H471.0 V123.6 H471.5 V123.6 H472.0 V123.7 H472.5 V123.7 H473.0 V123.6 H473.5 V123.6 H474.0 V123.6 H474.5 V123.6 H475.0 V123.7 H475.5 V123.7 H476.0 V123.6 H476.5 V123.6 H477.0 V123.7 H477.5 V123.7 H478.0 V123.8 H478.5 V123.8 H479.0 V123.8 H479.5 V123.8 H480.0 V123.8 H480.5 V123.8 H481.0 V123.8 H481.5 V123.8 H482.0 V123.8 H482.5 V123.8 H483.0 V123.8 H483.5 V123.8 H484.0 V123.8 H484.5 V123.8 H485.0 V123.8 H485.5 V123.8 H486.0 V123.7 H486.5 V123.7 H487.0 V123.8 H487.5 V123.8 H488.0 V123.8 H488.5 V123.8 H489.0 V123.8 H489.5 V123.8 H490.0 V123.8 H490.5 V123.8 H491.0 V123.8 H491.5 V123.8 H492.0 V123.7 H492.5 V123.7 H493.0 V123.9 H493.5 V123.9 H494.0 V123.8 H494.5 V123.8 H495.0 V123.8 H495.5 V123.9 H496.0 V123.8 H496.5 V123.8 H497.0 V123.8 H497.5 V123.8 H498.0 V123.9 H498.5 V123.9 H499.0 V124.0 H499.5 V124.0 H500.0 V123.9 H500.5 V123.9 H501.0 V123.9 H501.5 V123.9 H502.0 V123.9 H502.5 V123.9 H503.0 V123.9 H503.5 V123.9 H504.0 V123.9 H504.5 V123.9 H505.0 V123.9 H505.5 V123.9 H506.0 V123.9 H506.5 V123.9 H507.0 V123.9 H507.5 V123.9 H508.0 V124.0 H508.5 V124.0 H509.0 V124.0 H509.5 V124.0 H510.0 V123.9 H510.5 V123.9 H511.0 V124.1" fill="none" stroke="#686868" stroke-width="1.7" stroke-linejoin="round"/>
<path d="M407.0,120.0 H407.5 V120.4 H408.0 V120.6 H408.5 V121.0 H409.0 V121.4 H409.5 V121.8 H410.0 V122.3 H410.5 V122.3 H411.0 V122.4 H411.5 V122.3 H412.0 V122.3 H412.5 V122.2 H413.0 V122.2 H413.5 V122.1 H414.0 V121.9 H414.5 V121.5 H415.0 V121.3 H415.5 V120.9 H416.0 V120.5 H416.5 V120.1 H417.0 V119.7 H417.5 V119.4 H418.0 V118.7 H418.5 V118.1 H419.0 V118.0 H419.5 V117.3 H420.0 V116.1 H420.5 V115.4 H421.0 V115.5 H421.5 V114.4 H422.0 V113.4 H422.5 V112.3 H423.0 V110.4 H423.5 V109.2 H424.0 V107.9 H424.5 V106.1 H425.0 V104.7 H425.5 V102.8 H426.0 V100.1 H426.5 V97.3 H427.0 V93.9 H427.5 V90.2 H428.0 V86.3 H428.5 V82.5 H429.0 V79.0 H429.5 V75.7 H430.0 V73.1 H430.5 V69.7 H431.0 V65.2 H431.5 V61.5 H432.0 V58.1 H432.5 V55.7 H433.0 V52.8 H433.5 V50.4 H434.0 V48.4 H434.5 V51.5 H435.0 V55.0 H435.5 V58.1 H436.0 V60.8 H436.5 V64.2 H437.0 V68.3 H437.5 V72.1 H438.0 V75.5 H438.5 V79.3 H439.0 V83.8 H439.5 V88.1 H440.0 V92.2 H440.5 V95.8 H441.0 V98.9 H441.5 V102.3 H442.0 V105.8 H442.5 V108.6 H443.0 V111.0 H443.5 V112.5 H444.0 V113.5 H444.5 V115.0 H445.0 V116.6 H445.5 V117.5 H446.0 V118.7 H446.5 V119.5 H447.0 V120.4 H447.5 V120.7 H448.0 V121.0 H448.5 V121.3 H449.0 V121.6 H449.5 V121.9 H450.0 V122.4 H450.5 V122.4 H451.0 V122.5 H451.5 V122.5 H452.0 V122.7 H452.5 V122.8 H453.0 V122.6 H453.5 V122.7 H454.0 V122.9 H454.5 V123.0 H455.0 V123.1 H455.5 V123.1 H456.0 V123.0 H456.5 V123.0 H457.0 V123.3 H457.5 V123.3 H458.0 V123.3 H458.5 V123.3 H459.0 V123.4 H459.5 V123.4 H460.0 V123.3 H460.5 V123.3 H461.0 V123.3 H461.5 V123.4 H462.0 V123.4 H462.5 V123.4 H463.0 V123.5 H463.5 V123.6 H464.0 V123.5 H464.5 V123.5 H465.0 V123.5 H465.5 V123.5 H466.0 V123.5 H466.5 V123.6 H467.0 V123.6 H467.5 V123.6 H468.0 V123.5 H468.5 V123.5 H469.0 V123.5 H469.5 V123.5 H470.0 V123.7 H470.5 V123.7 H471.0 V123.6 H471.5 V123.6 H472.0 V123.7 H472.5 V123.7 H473.0 V123.6 H473.5 V123.6 H474.0 V123.6 H474.5 V123.6 H475.0 V123.7 H475.5 V123.7 H476.0 V123.6 H476.5 V123.6 H477.0 V123.7 H477.5 V123.7 H478.0 V123.8 H478.5 V123.8 H479.0 V123.8 H479.5 V123.8 H480.0 V123.8 H480.5 V123.8 H481.0 V123.8 H481.5 V123.8 H482.0 V123.8 H482.5 V123.8 H483.0 V123.8 H483.5 V123.8 H484.0 V123.8 H484.5 V123.8 H485.0 V123.8 H485.5 V123.8 H486.0 V123.7 H486.5 V123.7 H487.0 V123.8 H487.5 V123.8 H488.0 V123.8 H488.5 V123.8 H489.0 V123.8 H489.5 V123.8 H490.0 V123.8 H490.5 V123.8 H491.0 V123.8 H491.5 V123.8 H492.0 V123.7 H492.5 V123.7 H493.0 V123.9 H493.5 V123.9 H494.0 V123.8 H494.5 V123.8 H495.0 V123.8 H495.5 V123.9 H496.0 V123.8 H496.5 V123.8 H497.0 V123.8 H497.5 V123.8 H498.0 V123.9 H498.5 V123.9 H499.0 V124.0 H499.5 V124.0 H500.0 V123.9 H500.5 V123.9 H501.0 V123.9 H501.5 V123.9 H502.0 V123.9 H502.5 V123.9 H503.0 V123.9 H503.5 V123.9 H504.0 V123.9 H504.5 V123.9 H505.0 V123.9 H505.5 V123.9 H506.0 V123.9 H506.5 V123.9 H507.0 V123.9 H507.5 V123.9 H508.0 V124.0 H508.5 V124.0 H509.0 V124.0 H509.5 V124.0 H510.0 V123.9 H510.5 V123.9 H511.0 V124.1" fill="none" stroke="#878787" stroke-width="1.15" stroke-linejoin="round" clip-path="url(#d3)"/>
</g>
<path d="M405.90000000000003,45.4 H511.2 V125.6" fill="none" stroke="#383838" stroke-width="1.5"/>
<path d="M406.6,44.699999999999996 V126.39999999999999" fill="none" stroke="#000" stroke-width="1.5"/>
<path d="M405.90000000000003,125.6 H511.9" fill="none" stroke="#000" stroke-width="1.35"/>
<path d="M406.6,125.30h-4.9 M406.6,122.17h-3.0 M406.6,119.03h-3.0 M406.6,115.90h-3.0 M406.6,112.77h-3.0 M406.6,109.63h-4.7 M406.6,106.50h-3.0 M406.6,103.37h-3.0 M406.6,100.24h-3.0 M406.6,97.10h-3.0 M406.6,93.97h-4.7 M406.6,90.84h-3.0 M406.6,87.70h-3.0 M406.6,84.57h-3.0 M406.6,81.44h-3.0 M406.6,78.31h-4.7 M406.6,75.17h-3.0 M406.6,72.04h-3.0 M406.6,68.91h-3.0 M406.6,65.77h-3.0 M406.6,62.64h-4.7 M406.6,59.51h-3.0 M406.6,56.37h-3.0 M406.6,53.24h-3.0 M406.6,50.11h-3.0 M406.6,45.60h-4.3" stroke="#000" stroke-width="1.2" fill="none"/>
<path d="M407.50,125.6v4.9 M415.26,125.6v2.7 M419.80,125.6v2.7 M423.02,125.6v2.7 M425.52,125.6v2.7 M427.56,125.6v2.7 M429.28,125.6v2.7 M430.78,125.6v2.7 M432.10,125.6v2.7 M433.27,125.6v4.9 M441.03,125.6v2.7 M445.57,125.6v2.7 M448.79,125.6v2.7 M451.29,125.6v2.7 M453.33,125.6v2.7 M455.06,125.6v2.7 M456.55,125.6v2.7 M457.87,125.6v2.7 M459.05,125.6v4.9 M466.81,125.6v2.7 M471.35,125.6v2.7 M474.57,125.6v2.7 M477.07,125.6v2.7 M479.11,125.6v2.7 M480.83,125.6v2.7 M482.33,125.6v2.7 M483.65,125.6v2.7 M484.82,125.6v4.9 M492.58,125.6v2.7 M497.12,125.6v2.7 M500.34,125.6v2.7 M502.84,125.6v2.7 M504.88,125.6v2.7 M506.61,125.6v2.7 M508.10,125.6v2.7 M509.42,125.6v2.7 M510.10,125.6v4.9" stroke="#000" stroke-width="1.2" fill="none"/>
<g font-size="9.2px" stroke="#111" stroke-width="0.42">
<text transform="translate(398.1,45.6) rotate(-90)" text-anchor="middle" textLength="15.0" lengthAdjust="spacingAndGlyphs">250</text>
<text transform="translate(398.1,124.8) rotate(-90)" text-anchor="middle" textLength="4.5" lengthAdjust="spacingAndGlyphs">0</text>
<text transform="translate(388.1,87.3) rotate(-90)" text-anchor="middle" textLength="29.8" lengthAdjust="spacingAndGlyphs">Counts</text>
<text x="401.3" y="140.9" font-size="9.9px" textLength="8.5" lengthAdjust="spacingAndGlyphs">10</text>
<text x="410.0" y="136.5" font-size="10.6px" textLength="4.7" lengthAdjust="spacingAndGlyphs">0</text>
<text x="427.1" y="140.9" font-size="9.9px" textLength="8.5" lengthAdjust="spacingAndGlyphs">10</text>
<text x="435.8" y="136.5" font-size="10.6px" textLength="4.7" lengthAdjust="spacingAndGlyphs">1</text>
<text x="452.8" y="140.9" font-size="9.9px" textLength="8.5" lengthAdjust="spacingAndGlyphs">10</text>
<text x="461.5" y="136.5" font-size="10.6px" textLength="4.7" lengthAdjust="spacingAndGlyphs">2</text>
<text x="478.6" y="140.9" font-size="9.9px" textLength="8.5" lengthAdjust="spacingAndGlyphs">10</text>
<text x="487.3" y="136.5" font-size="10.6px" textLength="4.7" lengthAdjust="spacingAndGlyphs">3</text>
<text x="504.4" y="140.9" font-size="9.9px" textLength="8.5" lengthAdjust="spacingAndGlyphs">10</text>
<text x="513.1" y="136.5" font-size="10.6px" textLength="4.7" lengthAdjust="spacingAndGlyphs">4</text>
<text x="457.0" y="150.8" text-anchor="middle" textLength="24.8" lengthAdjust="spacingAndGlyphs" stroke-width="0.6">FL2-H</text>
</g>
</g>
<g id="p4">
<clipPath id="c4"><rect x="94.4" y="201.8" width="105.5" height="80.69999999999999"/></clipPath>
<g clip-path="url(#c4)">
<clipPath id="d4"><path d="M95.0,280.0 H95.5 V280.0 H96.0 V280.0 H96.5 V280.0 H97.0 V280.0 H97.5 V280.0 H98.0 V280.0 H98.5 V280.0 H99.0 V280.0 H99.5 V280.0 H100.0 V280.0 H100.5 V280.0 H101.0 V280.0 H101.5 V280.0 H102.0 V280.0 H102.5 V280.0 H103.0 V280.0 H103.5 V280.0 H104.0 V280.0 H104.5 V280.0 H105.0 V280.0 H105.5 V280.0 H106.0 V280.0 H106.5 V280.0 H107.0 V280.0 H107.5 V280.0 H108.0 V280.0 H108.5 V280.0 H109.0 V280.0 H109.5 V280.0 H110.0 V280.0 H110.5 V280.0 H111.0 V280.0 H111.5 V280.0 H112.0 V280.0 H112.5 V280.0 H113.0 V280.0 H113.5 V280.0 H114.0 V280.0 H114.5 V280.0 H115.0 V280.0 H115.5 V280.0 H116.0 V280.0 H116.5 V280.0 H117.0 V280.0 H117.5 V280.0 H118.0 V280.0 H118.5 V280.0 H119.0 V280.0 H119.5 V280.0 H120.0 V280.0 H120.5 V280.0 H121.0 V280.0 H121.5 V280.0 H122.0 V280.0 H122.5 V280.0 H123.0 V280.0 H123.5 V280.0 H124.0 V280.0 H124.5 V280.0 H125.0 V280.0 H125.5 V280.0 H126.0 V280.0 H126.5 V280.0 H127.0 V280.0 H127.5 V280.0 H128.0 V280.0 H128.5 V280.0 H129.0 V280.0 H129.5 V280.0 H130.0 V280.0 H130.5 V280.0 H131.0 V280.0 H131.5 V280.0 H132.0 V280.0 H132.5 V280.0 H133.0 V280.0 H133.5 V280.0 H134.0 V280.0 H134.5 V280.0 H135.0 V280.0 H135.5 V280.0 H136.0 V280.0 H136.5 V280.0 H137.0 V280.0 H137.5 V280.0 H138.0 V280.0 H138.5 V280.0 H139.0 V280.0 H139.5 V280.0 H140.0 V280.0 H140.5 V280.0 H141.0 V280.0 H141.5 V280.0 H142.0 V280.0 H142.5 V280.0 H143.0 V280.0 H143.5 V280.0 H144.0 V280.0 H144.5 V280.0 H145.0 V280.0 H145.5 V280.0 H146.0 V279.7 H146.5 V279.5 H147.0 V279.2 H147.5 V279.0 H148.0 V278.9 H148.5 V278.5 H149.0 V278.1 H149.5 V277.7 H150.0 V277.6 H150.5 V277.2 H151.0 V276.7 H151.5 V276.0 H152.0 V275.4 H152.5 V274.7 H153.0 V274.0 H153.5 V273.3 H154.0 V273.1 H154.5 V271.6 H155.0 V270.7 H155.5 V269.2 H156.0 V267.4 H156.5 V265.4 H157.0 V262.8 H157.5 V260.8 H158.0 V258.8 H158.5 V256.8 H159.0 V255.0 H159.5 V253.0 H160.0 V250.8 H160.5 V249.1 H161.0 V247.3 H161.5 V245.5 H162.0 V243.4 H162.5 V241.8 H163.0 V241.7 H163.5 V242.9 H164.0 V245.4 H164.5 V246.7 H165.0 V246.7 H165.5 V248.1 H166.0 V250.3 H166.5 V251.7 H167.0 V253.8 H167.5 V255.8 H168.0 V258.3 H168.5 V260.3 H169.0 V261.1 H169.5 V263.1 H170.0 V265.2 H170.5 V267.2 H171.0 V268.7 H171.5 V270.2 H172.0 V272.0 H172.5 V273.6 H173.0 V274.5 H173.5 V275.3 H174.0 V276.5 H174.5 V277.2 H175.0 V277.8 H175.5 V278.1 H176.0 V278.3 H176.5 V278.5 H177.0 V278.3 H177.5 V278.5 H178.0 V278.8 H178.5 V278.8 H179.0 V279.2 H179.5 V279.2 H180.0 V279.3 H180.5 V279.4 H181.0 V279.2 H181.5 V279.3 H182.0 V279.4 H182.5 V279.4 H183.0 V279.2 H183.5 V279.3 H184.0 V279.5 H184.5 V279.5 H185.0 V279.7 H185.5 V279.8 H186.0 V279.7 H186.5 V279.7 H187.0 V279.8 H187.5 V279.8 H188.0 V279.8 H188.5 V279.8 H189.0 V279.6 H189.5 V279.6 H190.0 V279.6 H190.5 V279.6 H191.0 V279.7 H191.5 V279.7 H192.0 V279.8 H192.5 V279.8 H193.0 V279.9 H193.5 V279.9 H194.0 V280.0 H194.5 V280.0 H195.0 V279.9 H195.5 V279.9 H196.0 V279.9 H196.5 V279.9 H197.0 V280.0 H197.5 V280.0 H198.0 V279.9 H198.5 V279.9 H199.0 V280.0 H199.5 V280.0 H200.0 V280.0 V282.5 H95.0 Z"/></clipPath>
<path d="M95.0,280.0 H95.5 V280.0 H96.0 V280.0 H96.5 V280.0 H97.0 V280.0 H97.5 V280.0 H98.0 V280.0 H98.5 V280.0 H99.0 V280.0 H99.5 V280.0 H100.0 V280.0 H100.5 V280.0 H101.0 V280.0 H101.5 V280.0 H102.0 V280.0 H102.5 V280.0 H103.0 V280.0 H103.5 V280.0 H104.0 V280.0 H104.5 V280.0 H105.0 V280.0 H105.5 V280.0 H106.0 V280.0 H106.5 V280.0 H107.0 V280.0 H107.5 V280.0 H108.0 V280.0 H108.5 V280.0 H109.0 V280.0 H109.5 V280.0 H110.0 V280.0 H110.5 V280.0 H111.0 V280.0 H111.5 V280.0 H112.0 V280.0 H112.5 V280.0 H113.0 V280.0 H113.5 V280.0 H114.0 V280.0 H114.5 V280.0 H115.0 V280.0 H115.5 V280.0 H116.0 V280.0 H116.5 V280.0 H117.0 V280.0 H117.5 V280.0 H118.0 V280.0 H118.5 V280.0 H119.0 V280.0 H119.5 V280.0 H120.0 V280.0 H120.5 V280.0 H121.0 V280.0 H121.5 V280.0 H122.0 V280.0 H122.5 V280.0 H123.0 V280.0 H123.5 V280.0 H124.0 V280.0 H124.5 V280.0 H125.0 V280.0 H125.5 V280.0 H126.0 V280.0 H126.5 V280.0 H127.0 V280.0 H127.5 V280.0 H128.0 V280.0 H128.5 V280.0 H129.0 V280.0 H129.5 V280.0 H130.0 V280.0 H130.5 V280.0 H131.0 V280.0 H131.5 V280.0 H132.0 V280.0 H132.5 V280.0 H133.0 V280.0 H133.5 V280.0 H134.0 V280.0 H134.5 V280.0 H135.0 V280.0 H135.5 V280.0 H136.0 V280.0 H136.5 V280.0 H137.0 V280.0 H137.5 V280.0 H138.0 V280.0 H138.5 V280.0 H139.0 V280.0 H139.5 V280.0 H140.0 V280.0 H140.5 V280.0 H141.0 V280.0 H141.5 V280.0 H142.0 V280.0 H142.5 V280.0 H143.0 V280.0 H143.5 V280.0 H144.0 V280.0 H144.5 V280.0 H145.0 V280.0 H145.5 V280.0 H146.0 V279.7 H146.5 V279.5 H147.0 V279.2 H147.5 V279.0 H148.0 V278.9 H148.5 V278.5 H149.0 V278.1 H149.5 V277.7 H150.0 V277.6 H150.5 V277.2 H151.0 V276.7 H151.5 V276.0 H152.0 V275.4 H152.5 V274.7 H153.0 V274.0 H153.5 V273.3 H154.0 V273.1 H154.5 V271.6 H155.0 V270.7 H155.5 V269.2 H156.0 V267.4 H156.5 V265.4 H157.0 V262.8 H157.5 V260.8 H158.0 V258.8 H158.5 V256.8 H159.0 V255.0 H159.5 V253.0 H160.0 V250.8 H160.5 V249.1 H161.0 V247.3 H161.5 V245.5 H162.0 V243.4 H162.5 V241.8 H163.0 V241.7 H163.5 V242.9 H164.0 V245.4 H164.5 V246.7 H165.0 V246.7 H165.5 V248.1 H166.0 V250.3 H166.5 V251.7 H167.0 V253.8 H167.5 V255.8 H168.0 V258.3 H168.5 V260.3 H169.0 V261.1 H169.5 V263.1 H170.0 V265.2 H170.5 V267.2 H171.0 V268.7 H171.5 V270.2 H172.0 V272.0 H172.5 V273.6 H173.0 V274.5 H173.5 V275.3 H174.0 V276.5 H174.5 V277.2 H175.0 V277.8 H175.5 V278.1 H176.0 V278.3 H176.5 V278.5 H177.0 V278.3 H177.5 V278.5 H178.0 V278.8 H178.5 V278.8 H179.0 V279.2 H179.5 V279.2 H180.0 V279.3 H180.5 V279.4 H181.0 V279.2 H181.5 V279.3 H182.0 V279.4 H182.5 V279.4 H183.0 V279.2 H183.5 V279.3 H184.0 V279.5 H184.5 V279.5 H185.0 V279.7 H185.5 V279.8 H186.0 V279.7 H186.5 V279.7 H187.0 V279.8 H187.5 V279.8 H188.0 V279.8 H188.5 V279.8 H189.0 V279.6 H189.5 V279.6 H190.0 V279.6 H190.5 V279.6 H191.0 V279.7 H191.5 V279.7 H192.0 V279.8 H192.5 V279.8 H193.0 V279.9 H193.5 V279.9 H194.0 V280.0 H194.5 V280.0 H195.0 V279.9 H195.5 V279.9 H196.0 V279.9 H196.5 V279.9 H197.0 V280.0 H197.5 V280.0 H198.0 V279.9 H198.5 V279.9 H199.0 V280.0 H199.5 V280.0 H200.0 V280.0 V282.5 H95.0 Z" fill="#494949" stroke="#1e1e1e" stroke-width="1.3" stroke-linejoin="miter"/>
<path d="M95.0,279.5 H95.5 V279.5 H96.0 V279.7 H96.5 V279.7 H97.0 V279.5 H97.5 V279.5 H98.0 V279.7 H98.5 V279.7 H99.0 V279.6 H99.5 V279.6 H100.0 V279.6 H100.5 V279.6 H101.0 V279.5 H101.5 V279.5 H102.0 V279.6 H102.5 V279.6 H103.0 V279.6 H103.5 V279.6 H104.0 V279.6 H104.5 V279.6 H105.0 V279.5 H105.5 V279.5 H106.0 V279.5 H106.5 V279.5 H107.0 V279.6 H107.5 V279.6 H108.0 V279.6 H108.5 V279.6 H109.0 V279.5 H109.5 V279.5 H110.0 V279.3 H110.5 V279.0 H111.0 V278.8 H111.5 V278.5 H112.0 V278.0 H112.5 V277.5 H113.0 V276.8 H113.5 V275.9 H114.0 V275.1 H114.5 V273.6 H115.0 V271.7 H115.5 V269.3 H116.0 V264.9 H116.5 V258.4 H117.0 V253.5 H117.5 V248.7 H118.0 V243.8 H118.5 V239.4 H119.0 V222.5 H119.5 V220.2 H120.0 V209.7 H120.5 V207.6 H121.0 V209.2 H121.5 V211.6 H122.0 V217.0 H122.5 V220.5 H123.0 V222.2 H123.5 V229.2 H124.0 V238.1 H124.5 V247.8 H125.0 V252.9 H125.5 V257.6 H126.0 V262.6 H126.5 V265.8 H127.0 V267.8 H127.5 V270.1 H128.0 V271.4 H128.5 V272.7 H129.0 V274.3 H129.5 V275.3 H130.0 V276.2 H130.5 V276.9 H131.0 V277.3 H131.5 V277.9 H132.0 V278.0 H132.5 V278.3 H133.0 V278.6 H133.5 V278.8 H134.0 V279.0 H134.5 V279.2 H135.0 V279.3 H135.5 V279.3 H136.0 V279.2 H136.5 V279.3 H137.0 V279.4 H137.5 V279.5 H138.0 V279.5 H138.5 V279.5 H139.0 V279.5 H139.5 V279.5 H140.0 V279.5 H140.5 V279.5 H141.0 V279.7 H141.5 V279.7 H142.0 V279.6 H142.5 V279.6 H143.0 V279.7 H143.5 V279.7 H144.0 V279.6 H144.5 V279.6 H145.0 V279.6 H145.5 V279.6 H146.0 V279.7 H146.5 V279.7 H147.0 V279.6 H147.5 V279.6 H148.0 V279.7 H148.5 V279.7 H149.0 V279.7 H149.5 V279.7 H150.0 V279.6 H150.5 V279.6 H151.0 V279.6 H151.5 V279.6 H152.0 V279.7 H152.5 V279.7 H153.0 V279.7 H153.5 V279.7 H154.0 V279.8 H154.5 V279.8 H155.0 V279.6 H155.5 V279.6 H156.0 V279.7 H156.5 V279.7 H157.0 V279.7 H157.5 V279.7 H158.0 V279.8 H158.5 V279.8 H159.0 V279.7 H159.5 V279.7 H160.0 V279.6 H160.5 V279.7 H161.0 V279.7 H161.5 V279.7 H162.0 V279.7 H162.5 V279.7 H163.0 V279.8 H163.5 V279.8 H164.0 V279.8 H164.5 V279.8 H165.0 V279.8 H165.5 V279.8 H166.0 V279.9 H166.5 V279.9 H167.0 V279.9 H167.5 V279.9 H168.0 V279.8 H168.5 V279.8 H169.0 V279.7 H169.5 V279.7 H170.0 V279.9 H170.5 V279.9 H171.0 V279.8 H171.5 V279.8 H172.0 V279.7 H172.5 V279.7 H173.0 V279.8 H173.5 V279.8 H174.0 V279.8 H174.5 V279.8 H175.0 V279.8 H175.5 V279.8 H176.0 V279.8 H176.5 V279.8 H177.0 V279.8 H177.5 V279.8 H178.0 V279.8 H178.5 V279.8 H179.0 V279.8 H179.5 V279.8 H180.0 V279.8 H180.5 V279.8 H181.0 V279.9 H181.5 V279.9 H182.0 V279.8 H182.5 V279.8 H183.0 V280.0 H183.5 V280.0 H184.0 V279.8 H184.5 V279.8 H185.0 V279.9 H185.5 V279.9 H186.0 V280.0 H186.5 V280.0 H187.0 V280.0 H187.5 V280.0 H188.0 V279.9 H188.5 V279.9 H189.0 V279.9 H189.5 V279.9 H190.0 V279.9 H190.5 V279.9 H191.0 V279.9 H191.5 V279.9 H192.0 V280.0 H192.5 V280.0 H193.0 V279.9 H193.5 V279.9 H194.0 V279.9 H194.5 V279.9 H195.0 V280.0 H195.5 V280.0 H196.0 V279.9 H196.5 V279.9 H197.0 V280.0 H197.5 V280.0 H198.0 V280.0 H198.5 V280.0 H199.0 V280.0 H199.5 V280.0 H200.0 V280.0" fill="none" stroke="#686868" stroke-width="1.7" stroke-linejoin="round"/>
<path d="M95.0,279.5 H95.5 V279.5 H96.0 V279.7 H96.5 V279.7 H97.0 V279.5 H97.5 V279.5 H98.0 V279.7 H98.5 V279.7 H99.0 V279.6 H99.5 V279.6 H100.0 V279.6 H100.5 V279.6 H101.0 V279.5 H101.5 V279.5 H102.0 V279.6 H102.5 V279.6 H103.0 V279.6 H103.5 V279.6 H104.0 V279.6 H104.5 V279.6 H105.0 V279.5 H105.5 V279.5 H106.0 V279.5 H106.5 V279.5 H107.0 V279.6 H107.5 V279.6 H108.0 V279.6 H108.5 V279.6 H109.0 V279.5 H109.5 V279.5 H110.0 V279.3 H110.5 V279.0 H111.0 V278.8 H111.5 V278.5 H112.0 V278.0 H112.5 V277.5 H113.0 V276.8 H113.5 V275.9 H114.0 V275.1 H114.5 V273.6 H115.0 V271.7 H115.5 V269.3 H116.0 V264.9 H116.5 V258.4 H117.0 V253.5 H117.5 V248.7 H118.0 V243.8 H118.5 V239.4 H119.0 V222.5 H119.5 V220.2 H120.0 V209.7 H120.5 V207.6 H121.0 V209.2 H121.5 V211.6 H122.0 V217.0 H122.5 V220.5 H123.0 V222.2 H123.5 V229.2 H124.0 V238.1 H124.5 V247.8 H125.0 V252.9 H125.5 V257.6 H126.0 V262.6 H126.5 V265.8 H127.0 V267.8 H127.5 V270.1 H128.0 V271.4 H128.5 V272.7 H129.0 V274.3 H129.5 V275.3 H130.0 V276.2 H130.5 V276.9 H131.0 V277.3 H131.5 V277.9 H132.0 V278.0 H132.5 V278.3 H133.0 V278.6 H133.5 V278.8 H134.0 V279.0 H134.5 V279.2 H135.0 V279.3 H135.5 V279.3 H136.0 V279.2 H136.5 V279.3 H137.0 V279.4 H137.5 V279.5 H138.0 V279.5 H138.5 V279.5 H139.0 V279.5 H139.5 V279.5 H140.0 V279.5 H140.5 V279.5 H141.0 V279.7 H141.5 V279.7 H142.0 V279.6 H142.5 V279.6 H143.0 V279.7 H143.5 V279.7 H144.0 V279.6 H144.5 V279.6 H145.0 V279.6 H145.5 V279.6 H146.0 V279.7 H146.5 V279.7 H147.0 V279.6 H147.5 V279.6 H148.0 V279.7 H148.5 V279.7 H149.0 V279.7 H149.5 V279.7 H150.0 V279.6 H150.5 V279.6 H151.0 V279.6 H151.5 V279.6 H152.0 V279.7 H152.5 V279.7 H153.0 V279.7 H153.5 V279.7 H154.0 V279.8 H154.5 V279.8 H155.0 V279.6 H155.5 V279.6 H156.0 V279.7 H156.5 V279.7 H157.0 V279.7 H157.5 V279.7 H158.0 V279.8 H158.5 V279.8 H159.0 V279.7 H159.5 V279.7 H160.0 V279.6 H160.5 V279.7 H161.0 V279.7 H161.5 V279.7 H162.0 V279.7 H162.5 V279.7 H163.0 V279.8 H163.5 V279.8 H164.0 V279.8 H164.5 V279.8 H165.0 V279.8 H165.5 V279.8 H166.0 V279.9 H166.5 V279.9 H167.0 V279.9 H167.5 V279.9 H168.0 V279.8 H168.5 V279.8 H169.0 V279.7 H169.5 V279.7 H170.0 V279.9 H170.5 V279.9 H171.0 V279.8 H171.5 V279.8 H172.0 V279.7 H172.5 V279.7 H173.0 V279.8 H173.5 V279.8 H174.0 V279.8 H174.5 V279.8 H175.0 V279.8 H175.5 V279.8 H176.0 V279.8 H176.5 V279.8 H177.0 V279.8 H177.5 V279.8 H178.0 V279.8 H178.5 V279.8 H179.0 V279.8 H179.5 V279.8 H180.0 V279.8 H180.5 V279.8 H181.0 V279.9 H181.5 V279.9 H182.0 V279.8 H182.5 V279.8 H183.0 V280.0 H183.5 V280.0 H184.0 V279.8 H184.5 V279.8 H185.0 V279.9 H185.5 V279.9 H186.0 V280.0 H186.5 V280.0 H187.0 V280.0 H187.5 V280.0 H188.0 V279.9 H188.5 V279.9 H189.0 V279.9 H189.5 V279.9 H190.0 V279.9 H190.5 V279.9 H191.0 V279.9 H191.5 V279.9 H192.0 V280.0 H192.5 V280.0 H193.0 V279.9 H193.5 V279.9 H194.0 V279.9 H194.5 V279.9 H195.0 V280.0 H195.5 V280.0 H196.0 V279.9 H196.5 V279.9 H197.0 V280.0 H197.5 V280.0 H198.0 V280.0 H198.5 V280.0 H199.0 V280.0 H199.5 V280.0 H200.0 V280.0" fill="none" stroke="#878787" stroke-width="1.15" stroke-linejoin="round" clip-path="url(#d4)"/>
</g>
<path d="M93.7,201.8 H199.9 V281.5" fill="none" stroke="#383838" stroke-width="1.5"/>
<path d="M94.4,201.10000000000002 V282.3" fill="none" stroke="#000" stroke-width="1.5"/>
<path d="M93.7,281.5 H200.6" fill="none" stroke="#000" stroke-width="1.35"/>
<path d="M94.4,281.20h-4.9 M94.4,278.56h-3.0 M94.4,275.92h-3.0 M94.4,273.28h-3.0 M94.4,270.64h-3.0 M94.4,268.00h-3.0 M94.4,265.36h-4.7 M94.4,262.72h-3.0 M94.4,260.08h-3.0 M94.4,257.44h-3.0 M94.4,254.80h-3.0 M94.4,252.16h-3.0 M94.4,249.52h-4.7 M94.4,246.88h-3.0 M94.4,244.24h-3.0 M94.4,241.60h-3.0 M94.4,238.96h-3.0 M94.4,236.32h-3.0 M94.4,233.68h-4.7 M94.4,231.04h-3.0 M94.4,228.40h-3.0 M94.4,225.76h-3.0 M94.4,223.12h-3.0 M94.4,220.48h-3.0 M94.4,217.84h-4.7 M94.4,215.20h-3.0 M94.4,212.56h-3.0 M94.4,209.92h-3.0 M94.4,207.28h-3.0 M94.4,204.64h-3.0 M94.4,202.00h-4.3" stroke="#000" stroke-width="1.2" fill="none"/>
<path d="M95.30,281.5v4.9 M103.13,281.5v2.7 M107.71,281.5v2.7 M110.95,281.5v2.7 M113.47,281.5v2.7 M115.53,281.5v2.7 M117.27,281.5v2.7 M118.78,281.5v2.7 M120.11,281.5v2.7 M121.30,281.5v4.9 M129.13,281.5v2.7 M133.71,281.5v2.7 M136.95,281.5v2.7 M139.47,281.5v2.7 M141.53,281.5v2.7 M143.27,281.5v2.7 M144.78,281.5v2.7 M146.11,281.5v2.7 M147.30,281.5v4.9 M155.13,281.5v2.7 M159.71,281.5v2.7 M162.95,281.5v2.7 M165.47,281.5v2.7 M167.53,281.5v2.7 M169.27,281.5v2.7 M170.78,281.5v2.7 M172.11,281.5v2.7 M173.30,281.5v4.9 M181.13,281.5v2.7 M185.71,281.5v2.7 M188.95,281.5v2.7 M191.47,281.5v2.7 M193.53,281.5v2.7 M195.27,281.5v2.7 M196.78,281.5v2.7 M198.11,281.5v2.7 M198.80,281.5v4.9" stroke="#000" stroke-width="1.2" fill="none"/>
<g font-size="9.2px" stroke="#111" stroke-width="0.42">
<text transform="translate(85.9,202.1) rotate(-90)" text-anchor="middle" textLength="15.0" lengthAdjust="spacingAndGlyphs">400</text>
<text transform="translate(85.9,280.7) rotate(-90)" text-anchor="middle" textLength="4.5" lengthAdjust="spacingAndGlyphs">0</text>
<text transform="translate(75.9,243.5) rotate(-90)" text-anchor="middle" textLength="29.8" lengthAdjust="spacingAndGlyphs">Counts</text>
<text x="89.1" y="296.8" font-size="9.9px" textLength="8.5" lengthAdjust="spacingAndGlyphs">10</text>
<text x="97.8" y="292.4" font-size="10.6px" textLength="4.7" lengthAdjust="spacingAndGlyphs">0</text>
<text x="115.1" y="296.8" font-size="9.9px" textLength="8.5" lengthAdjust="spacingAndGlyphs">10</text>
<text x="123.8" y="292.4" font-size="10.6px" textLength="4.7" lengthAdjust="spacingAndGlyphs">1</text>
<text x="141.1" y="296.8" font-size="9.9px" textLength="8.5" lengthAdjust="spacingAndGlyphs">10</text>
<text x="149.8" y="292.4" font-size="10.6px" textLength="4.7" lengthAdjust="spacingAndGlyphs">2</text>
<text x="167.1" y="296.8" font-size="9.9px" textLength="8.5" lengthAdjust="spacingAndGlyphs">10</text>
<text x="175.8" y="292.4" font-size="10.6px" textLength="4.7" lengthAdjust="spacingAndGlyphs">3</text>
<text x="193.1" y="296.8" font-size="9.9px" textLength="8.5" lengthAdjust="spacingAndGlyphs">10</text>
<text x="201.8" y="292.4" font-size="10.6px" textLength="4.7" lengthAdjust="spacingAndGlyphs">4</text>
<text x="145.2" y="306.7" text-anchor="middle" textLength="24.8" lengthAdjust="spacingAndGlyphs" stroke-width="0.6">FL2-H</text>
</g>
</g>
<g id="p5">
<clipPath id="c5"><rect x="250.9" y="200.5" width="105.49999999999997" height="80.5"/></clipPath>
<g clip-path="url(#c5)">
<clipPath id="d5"><path d="M251.0,278.6 H251.5 V278.6 H252.0 V278.6 H252.5 V278.6 H253.0 V278.6 H253.5 V278.6 H254.0 V278.6 H254.5 V278.6 H255.0 V278.6 H255.5 V278.6 H256.0 V278.6 H256.5 V278.6 H257.0 V278.6 H257.5 V278.6 H258.0 V278.6 H258.5 V278.6 H259.0 V278.6 H259.5 V278.6 H260.0 V278.6 H260.5 V278.6 H261.0 V278.6 H261.5 V278.6 H262.0 V278.6 H262.5 V278.6 H263.0 V278.6 H263.5 V278.6 H264.0 V278.6 H264.5 V278.6 H265.0 V278.6 H265.5 V278.1 H266.0 V277.8 H266.5 V277.4 H267.0 V277.1 H267.5 V276.8 H268.0 V276.7 H268.5 V275.7 H269.0 V274.0 H269.5 V272.9 H270.0 V272.5 H270.5 V271.5 H271.0 V270.8 H271.5 V268.9 H272.0 V262.6 H272.5 V257.4 H273.0 V250.4 H273.5 V242.4 H274.0 V235.9 H274.5 V229.5 H275.0 V222.5 H275.5 V215.8 H276.0 V207.0 H276.5 V205.4 H277.0 V206.2 H277.5 V206.2 H278.0 V205.5 H278.5 V210.0 H279.0 V220.0 H279.5 V228.0 H280.0 V235.5 H280.5 V242.4 H281.0 V250.6 H281.5 V256.7 H282.0 V260.1 H282.5 V263.1 H283.0 V265.7 H283.5 V268.8 H284.0 V270.6 H284.5 V271.4 H285.0 V270.7 H285.5 V271.5 H286.0 V272.7 H286.5 V273.5 H287.0 V274.6 H287.5 V275.4 H288.0 V276.5 H288.5 V277.1 H289.0 V277.2 H289.5 V277.3 H290.0 V277.1 H290.5 V277.3 H291.0 V277.3 H291.5 V277.5 H292.0 V277.7 H292.5 V277.8 H293.0 V277.9 H293.5 V278.1 H294.0 V278.3 H294.5 V278.3 H295.0 V278.1 H295.5 V278.1 H296.0 V278.3 H296.5 V278.3 H297.0 V278.3 H297.5 V278.3 H298.0 V278.4 H298.5 V278.4 H299.0 V278.4 H299.5 V278.4 H300.0 V278.3 H300.5 V278.4 H301.0 V278.3 H301.5 V278.3 H302.0 V278.3 H302.5 V278.3 H303.0 V278.3 H303.5 V278.3 H304.0 V278.5 H304.5 V278.5 H305.0 V278.3 H305.5 V278.3 H306.0 V278.3 H306.5 V278.3 H307.0 V278.5 H307.5 V278.5 H308.0 V278.4 H308.5 V278.4 H309.0 V278.3 H309.5 V278.3 H310.0 V278.3 H310.5 V278.3 H311.0 V278.5 H311.5 V278.5 H312.0 V278.4 H312.5 V278.4 H313.0 V278.6 H313.5 V278.6 H314.0 V278.6 H314.5 V278.6 H315.0 V278.6 H315.5 V278.6 H316.0 V278.4 H316.5 V278.4 H317.0 V278.4 H317.5 V278.4 H318.0 V278.5 H318.5 V278.5 H319.0 V278.5 H319.5 V278.5 H320.0 V278.5 H320.5 V278.5 H321.0 V278.5 H321.5 V278.5 H322.0 V278.5 H322.5 V278.5 H323.0 V278.5 H323.5 V278.5 H324.0 V278.5 H324.5 V278.6 H325.0 V278.6 H325.5 V278.6 H326.0 V278.6 H326.5 V278.6 H327.0 V278.6 H327.5 V278.6 H328.0 V278.6 H328.5 V278.6 H329.0 V278.6 H329.5 V278.6 H330.0 V278.6 H330.5 V278.6 H331.0 V278.6 H331.5 V278.6 H332.0 V278.6 H332.5 V278.6 H333.0 V278.6 H333.5 V278.6 H334.0 V278.6 H334.5 V278.6 H335.0 V278.6 H335.5 V278.6 H336.0 V278.6 H336.5 V278.6 H337.0 V278.7 H337.5 V278.7 H338.0 V278.7 H338.5 V278.7 H339.0 V278.7 H339.5 V278.7 H340.0 V278.7 H340.5 V278.7 H341.0 V278.7 H341.5 V278.7 H342.0 V278.7 H342.5 V278.7 H343.0 V278.7 H343.5 V278.7 H344.0 V278.7 H344.5 V278.7 H345.0 V278.7 H345.5 V278.7 H346.0 V278.7 H346.5 V278.7 H347.0 V278.7 H347.5 V278.7 H348.0 V278.7 H348.5 V278.7 H349.0 V278.7 H349.5 V278.7 H350.0 V278.8 H350.5 V278.8 H351.0 V278.8 H351.5 V278.8 H352.0 V278.8 H352.5 V278.8 H353.0 V278.8 H353.5 V278.8 H354.0 V278.8 H354.5 V278.8 H355.0 V278.8 H355.5 V278.8 H356.0 V278.8 V281.0 H251.0 Z"/></clipPath>
<path d="M251.0,278.6 H251.5 V278.6 H252.0 V278.6 H252.5 V278.6 H253.0 V278.6 H253.5 V278.6 H254.0 V278.6 H254.5 V278.6 H255.0 V278.6 H255.5 V278.6 H256.0 V278.6 H256.5 V278.6 H257.0 V278.6 H257.5 V278.6 H258.0 V278.6 H258.5 V278.6 H259.0 V278.6 H259.5 V278.6 H260.0 V278.6 H260.5 V278.6 H261.0 V278.6 H261.5 V278.6 H262.0 V278.6 H262.5 V278.6 H263.0 V278.6 H263.5 V278.6 H264.0 V278.6 H264.5 V278.6 H265.0 V278.6 H265.5 V278.1 H266.0 V277.8 H266.5 V277.4 H267.0 V277.1 H267.5 V276.8 H268.0 V276.7 H268.5 V275.7 H269.0 V274.0 H269.5 V272.9 H270.0 V272.5 H270.5 V271.5 H271.0 V270.8 H271.5 V268.9 H272.0 V262.6 H272.5 V257.4 H273.0 V250.4 H273.5 V242.4 H274.0 V235.9 H274.5 V229.5 H275.0 V222.5 H275.5 V215.8 H276.0 V207.0 H276.5 V205.4 H277.0 V206.2 H277.5 V206.2 H278.0 V205.5 H278.5 V210.0 H279.0 V220.0 H279.5 V228.0 H280.0 V235.5 H280.5 V242.4 H281.0 V250.6 H281.5 V256.7 H282.0 V260.1 H282.5 V263.1 H283.0 V265.7 H283.5 V268.8 H284.0 V270.6 H284.5 V271.4 H285.0 V270.7 H285.5 V271.5 H286.0 V272.7 H286.5 V273.5 H287.0 V274.6 H287.5 V275.4 H288.0 V276.5 H288.5 V277.1 H289.0 V277.2 H289.5 V277.3 H290.0 V277.1 H290.5 V277.3 H291.0 V277.3 H291.5 V277.5 H292.0 V277.7 H292.5 V277.8 H293.0 V277.9 H293.5 V278.1 H294.0 V278.3 H294.5 V278.3 H295.0 V278.1 H295.5 V278.1 H296.0 V278.3 H296.5 V278.3 H297.0 V278.3 H297.5 V278.3 H298.0 V278.4 H298.5 V278.4 H299.0 V278.4 H299.5 V278.4 H300.0 V278.3 H300.5 V278.4 H301.0 V278.3 H301.5 V278.3 H302.0 V278.3 H302.5 V278.3 H303.0 V278.3 H303.5 V278.3 H304.0 V278.5 H304.5 V278.5 H305.0 V278.3 H305.5 V278.3 H306.0 V278.3 H306.5 V278.3 H307.0 V278.5 H307.5 V278.5 H308.0 V278.4 H308.5 V278.4 H309.0 V278.3 H309.5 V278.3 H310.0 V278.3 H310.5 V278.3 H311.0 V278.5 H311.5 V278.5 H312.0 V278.4 H312.5 V278.4 H313.0 V278.6 H313.5 V278.6 H314.0 V278.6 H314.5 V278.6 H315.0 V278.6 H315.5 V278.6 H316.0 V278.4 H316.5 V278.4 H317.0 V278.4 H317.5 V278.4 H318.0 V278.5 H318.5 V278.5 H319.0 V278.5 H319.5 V278.5 H320.0 V278.5 H320.5 V278.5 H321.0 V278.5 H321.5 V278.5 H322.0 V278.5 H322.5 V278.5 H323.0 V278.5 H323.5 V278.5 H324.0 V278.5 H324.5 V278.6 H325.0 V278.6 H325.5 V278.6 H326.0 V278.6 H326.5 V278.6 H327.0 V278.6 H327.5 V278.6 H328.0 V278.6 H328.5 V278.6 H329.0 V278.6 H329.5 V278.6 H330.0 V278.6 H330.5 V278.6 H331.0 V278.6 H331.5 V278.6 H332.0 V278.6 H332.5 V278.6 H333.0 V278.6 H333.5 V278.6 H334.0 V278.6 H334.5 V278.6 H335.0 V278.6 H335.5 V278.6 H336.0 V278.6 H336.5 V278.6 H337.0 V278.7 H337.5 V278.7 H338.0 V278.7 H338.5 V278.7 H339.0 V278.7 H339.5 V278.7 H340.0 V278.7 H340.5 V278.7 H341.0 V278.7 H341.5 V278.7 H342.0 V278.7 H342.5 V278.7 H343.0 V278.7 H343.5 V278.7 H344.0 V278.7 H344.5 V278.7 H345.0 V278.7 H345.5 V278.7 H346.0 V278.7 H346.5 V278.7 H347.0 V278.7 H347.5 V278.7 H348.0 V278.7 H348.5 V278.7 H349.0 V278.7 H349.5 V278.7 H350.0 V278.8 H350.5 V278.8 H351.0 V278.8 H351.5 V278.8 H352.0 V278.8 H352.5 V278.8 H353.0 V278.8 H353.5 V278.8 H354.0 V278.8 H354.5 V278.8 H355.0 V278.8 H355.5 V278.8 H356.0 V278.8 V281.0 H251.0 Z" fill="#494949" stroke="#1e1e1e" stroke-width="1.3" stroke-linejoin="miter"/>
<path d="M251.0,278.6 H251.5 V278.6 H252.0 V278.6 H252.5 V278.6 H253.0 V278.6 H253.5 V278.6 H254.0 V278.6 H254.5 V278.6 H255.0 V278.6 H255.5 V278.6 H256.0 V278.6 H256.5 V278.6 H257.0 V278.6 H257.5 V278.6 H258.0 V278.6 H258.5 V278.6 H259.0 V278.6 H259.5 V278.6 H260.0 V278.6 H260.5 V278.6 H261.0 V278.6 H261.5 V278.6 H262.0 V278.6 H262.5 V278.6 H263.0 V278.6 H263.5 V278.6 H264.0 V278.6 H264.5 V278.6 H265.0 V278.6 H265.5 V278.2 H266.0 V277.9 H266.5 V277.6 H267.0 V277.3 H267.5 V276.9 H268.0 V275.9 H268.5 V274.9 H269.0 V273.7 H269.5 V272.6 H270.0 V271.7 H270.5 V270.6 H271.0 V269.7 H271.5 V266.2 H272.0 V261.0 H272.5 V255.8 H273.0 V247.8 H273.5 V239.8 H274.0 V233.1 H274.5 V227.1 H275.0 V221.0 H275.5 V214.0 H276.0 V205.0 H276.5 V205.0 H277.0 V205.7 H277.5 V205.7 H278.0 V205.2 H278.5 V207.6 H279.0 V218.7 H279.5 V226.1 H280.0 V233.3 H280.5 V240.1 H281.0 V246.9 H281.5 V253.3 H282.0 V256.9 H282.5 V259.7 H283.0 V262.4 H283.5 V265.1 H284.0 V267.9 H284.5 V269.4 H285.0 V270.1 H285.5 V271.0 H286.0 V272.4 H286.5 V273.1 H287.0 V273.7 H287.5 V274.5 H288.0 V275.1 H288.5 V275.9 H289.0 V276.8 H289.5 V276.9 H290.0 V277.2 H290.5 V277.3 H291.0 V277.3 H291.5 V277.4 H292.0 V277.4 H292.5 V277.6 H293.0 V277.8 H293.5 V277.9 H294.0 V278.0 H294.5 V278.1 H295.0 V278.3 H295.5 V278.3 H296.0 V278.1 H296.5 V278.2 H297.0 V278.2 H297.5 V278.2 H298.0 V278.3 H298.5 V278.3 H299.0 V278.3 H299.5 V278.3 H300.0 V278.4 H300.5 V278.4 H301.0 V278.2 H301.5 V278.3 H302.0 V278.3 H302.5 V278.3 H303.0 V278.3 H303.5 V278.3 H304.0 V278.3 H304.5 V278.3 H305.0 V278.5 H305.5 V278.5 H306.0 V278.4 H306.5 V278.4 H307.0 V278.5 H307.5 V278.5 H308.0 V278.4 H308.5 V278.4 H309.0 V278.5 H309.5 V278.5 H310.0 V278.4 H310.5 V278.4 H311.0 V278.4 H311.5 V278.4 H312.0 V278.5 H312.5 V278.5 H313.0 V278.5 H313.5 V278.5 H314.0 V278.4 H314.5 V278.4 H315.0 V278.5 H315.5 V278.5 H316.0 V278.5 H316.5 V278.5 H317.0 V278.5 H317.5 V278.5 H318.0 V278.5 H318.5 V278.5 H319.0 V278.5 H319.5 V278.5 H320.0 V278.5 H320.5 V278.5 H321.0 V278.5 H321.5 V278.5 H322.0 V278.5 H322.5 V278.5 H323.0 V278.5 H323.5 V278.5 H324.0 V278.5 H324.5 V278.6 H325.0 V278.6 H325.5 V278.6 H326.0 V278.6 H326.5 V278.6 H327.0 V278.6 H327.5 V278.6 H328.0 V278.6 H328.5 V278.6 H329.0 V278.6 H329.5 V278.6 H330.0 V278.6 H330.5 V278.6 H331.0 V278.6 H331.5 V278.6 H332.0 V278.6 H332.5 V278.6 H333.0 V278.6 H333.5 V278.6 H334.0 V278.6 H334.5 V278.6 H335.0 V278.6 H335.5 V278.6 H336.0 V278.6 H336.5 V278.6 H337.0 V278.7 H337.5 V278.7 H338.0 V278.7 H338.5 V278.7 H339.0 V278.7 H339.5 V278.7 H340.0 V278.7 H340.5 V278.7 H341.0 V278.7 H341.5 V278.7 H342.0 V278.7 H342.5 V278.7 H343.0 V278.7 H343.5 V278.7 H344.0 V278.7 H344.5 V278.7 H345.0 V278.7 H345.5 V278.7 H346.0 V278.7 H346.5 V278.7 H347.0 V278.7 H347.5 V278.7 H348.0 V278.7 H348.5 V278.7 H349.0 V278.7 H349.5 V278.7 H350.0 V278.8 H350.5 V278.8 H351.0 V278.8 H351.5 V278.8 H352.0 V278.8 H352.5 V278.8 H353.0 V278.8 H353.5 V278.8 H354.0 V278.8 H354.5 V278.8 H355.0 V278.8 H355.5 V278.8 H356.0 V278.8" fill="none" stroke="#686868" stroke-width="1.7" stroke-linejoin="round"/>
<path d="M251.0,278.6 H251.5 V278.6 H252.0 V278.6 H252.5 V278.6 H253.0 V278.6 H253.5 V278.6 H254.0 V278.6 H254.5 V278.6 H255.0 V278.6 H255.5 V278.6 H256.0 V278.6 H256.5 V278.6 H257.0 V278.6 H257.5 V278.6 H258.0 V278.6 H258.5 V278.6 H259.0 V278.6 H259.5 V278.6 H260.0 V278.6 H260.5 V278.6 H261.0 V278.6 H261.5 V278.6 H262.0 V278.6 H262.5 V278.6 H263.0 V278.6 H263.5 V278.6 H264.0 V278.6 H264.5 V278.6 H265.0 V278.6 H265.5 V278.2 H266.0 V277.9 H266.5 V277.6 H267.0 V277.3 H267.5 V276.9 H268.0 V275.9 H268.5 V274.9 H269.0 V273.7 H269.5 V272.6 H270.0 V271.7 H270.5 V270.6 H271.0 V269.7 H271.5 V266.2 H272.0 V261.0 H272.5 V255.8 H273.0 V247.8 H273.5 V239.8 H274.0 V233.1 H274.5 V227.1 H275.0 V221.0 H275.5 V214.0 H276.0 V205.0 H276.5 V205.0 H277.0 V205.7 H277.5 V205.7 H278.0 V205.2 H278.5 V207.6 H279.0 V218.7 H279.5 V226.1 H280.0 V233.3 H280.5 V240.1 H281.0 V246.9 H281.5 V253.3 H282.0 V256.9 H282.5 V259.7 H283.0 V262.4 H283.5 V265.1 H284.0 V267.9 H284.5 V269.4 H285.0 V270.1 H285.5 V271.0 H286.0 V272.4 H286.5 V273.1 H287.0 V273.7 H287.5 V274.5 H288.0 V275.1 H288.5 V275.9 H289.0 V276.8 H289.5 V276.9 H290.0 V277.2 H290.5 V277.3 H291.0 V277.3 H291.5 V277.4 H292.0 V277.4 H292.5 V277.6 H293.0 V277.8 H293.5 V277.9 H294.0 V278.0 H294.5 V278.1 H295.0 V278.3 H295.5 V278.3 H296.0 V278.1 H296.5 V278.2 H297.0 V278.2 H297.5 V278.2 H298.0 V278.3 H298.5 V278.3 H299.0 V278.3 H299.5 V278.3 H300.0 V278.4 H300.5 V278.4 H301.0 V278.2 H301.5 V278.3 H302.0 V278.3 H302.5 V278.3 H303.0 V278.3 H303.5 V278.3 H304.0 V278.3 H304.5 V278.3 H305.0 V278.5 H305.5 V278.5 H306.0 V278.4 H306.5 V278.4 H307.0 V278.5 H307.5 V278.5 H308.0 V278.4 H308.5 V278.4 H309.0 V278.5 H309.5 V278.5 H310.0 V278.4 H310.5 V278.4 H311.0 V278.4 H311.5 V278.4 H312.0 V278.5 H312.5 V278.5 H313.0 V278.5 H313.5 V278.5 H314.0 V278.4 H314.5 V278.4 H315.0 V278.5 H315.5 V278.5 H316.0 V278.5 H316.5 V278.5 H317.0 V278.5 H317.5 V278.5 H318.0 V278.5 H318.5 V278.5 H319.0 V278.5 H319.5 V278.5 H320.0 V278.5 H320.5 V278.5 H321.0 V278.5 H321.5 V278.5 H322.0 V278.5 H322.5 V278.5 H323.0 V278.5 H323.5 V278.5 H324.0 V278.5 H324.5 V278.6 H325.0 V278.6 H325.5 V278.6 H326.0 V278.6 H326.5 V278.6 H327.0 V278.6 H327.5 V278.6 H328.0 V278.6 H328.5 V278.6 H329.0 V278.6 H329.5 V278.6 H330.0 V278.6 H330.5 V278.6 H331.0 V278.6 H331.5 V278.6 H332.0 V278.6 H332.5 V278.6 H333.0 V278.6 H333.5 V278.6 H334.0 V278.6 H334.5 V278.6 H335.0 V278.6 H335.5 V278.6 H336.0 V278.6 H336.5 V278.6 H337.0 V278.7 H337.5 V278.7 H338.0 V278.7 H338.5 V278.7 H339.0 V278.7 H339.5 V278.7 H340.0 V278.7 H340.5 V278.7 H341.0 V278.7 H341.5 V278.7 H342.0 V278.7 H342.5 V278.7 H343.0 V278.7 H343.5 V278.7 H344.0 V278.7 H344.5 V278.7 H345.0 V278.7 H345.5 V278.7 H346.0 V278.7 H346.5 V278.7 H347.0 V278.7 H347.5 V278.7 H348.0 V278.7 H348.5 V278.7 H349.0 V278.7 H349.5 V278.7 H350.0 V278.8 H350.5 V278.8 H351.0 V278.8 H351.5 V278.8 H352.0 V278.8 H352.5 V278.8 H353.0 V278.8 H353.5 V278.8 H354.0 V278.8 H354.5 V278.8 H355.0 V278.8 H355.5 V278.8 H356.0 V278.8" fill="none" stroke="#878787" stroke-width="1.15" stroke-linejoin="round" clip-path="url(#d5)"/>
</g>
<path d="M250.20000000000002,200.5 H356.4 V280.0" fill="none" stroke="#383838" stroke-width="1.5"/>
<path d="M250.9,199.8 V280.8" fill="none" stroke="#000" stroke-width="1.5"/>
<path d="M250.20000000000002,280.0 H357.09999999999997" fill="none" stroke="#000" stroke-width="1.35"/>
<path d="M250.9,279.70h-4.9 M250.9,277.07h-3.0 M250.9,274.43h-3.0 M250.9,271.80h-3.0 M250.9,269.17h-3.0 M250.9,266.53h-3.0 M250.9,263.90h-4.7 M250.9,261.27h-3.0 M250.9,258.63h-3.0 M250.9,256.00h-3.0 M250.9,253.37h-3.0 M250.9,250.73h-3.0 M250.9,248.10h-4.7 M250.9,245.47h-3.0 M250.9,242.83h-3.0 M250.9,240.20h-3.0 M250.9,237.57h-3.0 M250.9,234.93h-3.0 M250.9,232.30h-4.7 M250.9,229.67h-3.0 M250.9,227.03h-3.0 M250.9,224.40h-3.0 M250.9,221.77h-3.0 M250.9,219.13h-3.0 M250.9,216.50h-4.7 M250.9,213.87h-3.0 M250.9,211.23h-3.0 M250.9,208.60h-3.0 M250.9,205.97h-3.0 M250.9,203.33h-3.0 M250.9,200.70h-4.3" stroke="#000" stroke-width="1.2" fill="none"/>
<path d="M251.80,280.0v4.9 M259.63,280.0v2.7 M264.21,280.0v2.7 M267.45,280.0v2.7 M269.97,280.0v2.7 M272.03,280.0v2.7 M273.77,280.0v2.7 M275.28,280.0v2.7 M276.61,280.0v2.7 M277.80,280.0v4.9 M285.63,280.0v2.7 M290.21,280.0v2.7 M293.45,280.0v2.7 M295.97,280.0v2.7 M298.03,280.0v2.7 M299.77,280.0v2.7 M301.28,280.0v2.7 M302.61,280.0v2.7 M303.80,280.0v4.9 M311.63,280.0v2.7 M316.21,280.0v2.7 M319.45,280.0v2.7 M321.97,280.0v2.7 M324.03,280.0v2.7 M325.77,280.0v2.7 M327.28,280.0v2.7 M328.61,280.0v2.7 M329.80,280.0v4.9 M337.63,280.0v2.7 M342.21,280.0v2.7 M345.45,280.0v2.7 M347.97,280.0v2.7 M350.03,280.0v2.7 M351.77,280.0v2.7 M353.28,280.0v2.7 M354.61,280.0v2.7 M355.30,280.0v4.9" stroke="#000" stroke-width="1.2" fill="none"/>
<g font-size="9.2px" stroke="#111" stroke-width="0.42">
<text transform="translate(242.4,200.8) rotate(-90)" text-anchor="middle" textLength="15.0" lengthAdjust="spacingAndGlyphs">400</text>
<text transform="translate(242.4,279.2) rotate(-90)" text-anchor="middle" textLength="4.5" lengthAdjust="spacingAndGlyphs">0</text>
<text transform="translate(232.4,242.1) rotate(-90)" text-anchor="middle" textLength="29.8" lengthAdjust="spacingAndGlyphs">Counts</text>
<text x="245.6" y="295.3" font-size="9.9px" textLength="8.5" lengthAdjust="spacingAndGlyphs">10</text>
<text x="254.3" y="290.9" font-size="10.6px" textLength="4.7" lengthAdjust="spacingAndGlyphs">0</text>
<text x="271.6" y="295.3" font-size="9.9px" textLength="8.5" lengthAdjust="spacingAndGlyphs">10</text>
<text x="280.3" y="290.9" font-size="10.6px" textLength="4.7" lengthAdjust="spacingAndGlyphs">1</text>
<text x="297.6" y="295.3" font-size="9.9px" textLength="8.5" lengthAdjust="spacingAndGlyphs">10</text>
<text x="306.3" y="290.9" font-size="10.6px" textLength="4.7" lengthAdjust="spacingAndGlyphs">2</text>
<text x="323.6" y="295.3" font-size="9.9px" textLength="8.5" lengthAdjust="spacingAndGlyphs">10</text>
<text x="332.3" y="290.9" font-size="10.6px" textLength="4.7" lengthAdjust="spacingAndGlyphs">3</text>
<text x="349.6" y="295.3" font-size="9.9px" textLength="8.5" lengthAdjust="spacingAndGlyphs">10</text>
<text x="358.3" y="290.9" font-size="10.6px" textLength="4.7" lengthAdjust="spacingAndGlyphs">4</text>
<text x="301.8" y="305.2" text-anchor="middle" textLength="24.8" lengthAdjust="spacingAndGlyphs" stroke-width="0.6">FL2-H</text>
</g>
</g>
<g id="p6">
<clipPath id="c6"><rect x="406.5" y="199.9" width="104.60000000000002" height="80.6"/></clipPath>
<g clip-path="url(#c6)">
<clipPath id="d6"><path d="M407.0,278.6 H407.5 V278.6 H408.0 V278.6 H408.5 V278.6 H409.0 V278.6 H409.5 V278.6 H410.0 V278.6 H410.5 V278.6 H411.0 V278.6 H411.5 V278.6 H412.0 V278.6 H412.5 V278.6 H413.0 V278.6 H413.5 V278.6 H414.0 V278.6 H414.5 V278.6 H415.0 V278.6 H415.5 V278.6 H416.0 V278.6 H416.5 V278.3 H417.0 V278.1 H417.5 V277.8 H418.0 V277.4 H418.5 V277.1 H419.0 V276.9 H419.5 V276.2 H420.0 V275.6 H420.5 V274.9 H421.0 V274.6 H421.5 V273.9 H422.0 V272.7 H422.5 V271.5 H423.0 V269.5 H423.5 V268.1 H424.0 V266.0 H424.5 V264.3 H425.0 V263.1 H425.5 V261.3 H426.0 V259.7 H426.5 V257.5 H427.0 V254.4 H427.5 V252.6 H428.0 V250.9 H428.5 V249.0 H429.0 V247.3 H429.5 V245.9 H430.0 V245.5 H430.5 V245.0 H431.0 V244.1 H431.5 V243.6 H432.0 V242.2 H432.5 V243.5 H433.0 V244.8 H433.5 V246.0 H434.0 V248.8 H434.5 V251.3 H435.0 V254.1 H435.5 V256.6 H436.0 V259.3 H436.5 V261.8 H437.0 V262.6 H437.5 V264.3 H438.0 V266.1 H438.5 V267.6 H439.0 V269.4 H439.5 V270.3 H440.0 V270.7 H440.5 V271.6 H441.0 V271.9 H441.5 V272.3 H442.0 V272.8 H442.5 V273.3 H443.0 V274.0 H443.5 V273.8 H444.0 V273.0 H444.5 V272.8 H445.0 V271.9 H445.5 V270.5 H446.0 V268.7 H446.5 V268.0 H447.0 V267.3 H447.5 V266.6 H448.0 V266.7 H448.5 V266.2 H449.0 V265.9 H449.5 V265.4 H450.0 V263.8 H450.5 V263.0 H451.0 V262.0 H451.5 V261.2 H452.0 V261.4 H452.5 V261.9 H453.0 V261.5 H453.5 V262.0 H454.0 V262.1 H454.5 V262.6 H455.0 V264.7 H455.5 V265.2 H456.0 V264.9 H456.5 V265.2 H457.0 V266.3 H457.5 V266.6 H458.0 V266.2 H458.5 V266.5 H459.0 V267.7 H459.5 V268.0 H460.0 V267.5 H460.5 V267.7 H461.0 V267.4 H461.5 V267.6 H462.0 V267.5 H462.5 V266.9 H463.0 V267.3 H463.5 V266.7 H464.0 V266.3 H464.5 V267.5 H465.0 V269.3 H465.5 V270.4 H466.0 V269.2 H466.5 V269.5 H467.0 V270.6 H467.5 V270.4 H468.0 V269.8 H468.5 V269.7 H469.0 V269.7 H469.5 V269.7 H470.0 V269.3 H470.5 V269.6 H471.0 V270.0 H471.5 V270.5 H472.0 V271.2 H472.5 V271.6 H473.0 V272.6 H473.5 V272.8 H474.0 V272.0 H474.5 V272.3 H475.0 V273.1 H475.5 V273.3 H476.0 V273.9 H476.5 V274.2 H477.0 V274.7 H477.5 V275.0 H478.0 V274.7 H478.5 V275.0 H479.0 V275.3 H479.5 V275.5 H480.0 V276.2 H480.5 V276.4 H481.0 V276.6 H481.5 V276.7 H482.0 V276.6 H482.5 V276.8 H483.0 V276.8 H483.5 V276.9 H484.0 V277.3 H484.5 V277.4 H485.0 V277.3 H485.5 V277.3 H486.0 V277.6 H486.5 V277.7 H487.0 V277.6 H487.5 V277.7 H488.0 V277.8 H488.5 V277.8 H489.0 V277.7 H489.5 V277.7 H490.0 V277.9 H490.5 V278.0 H491.0 V277.8 H491.5 V277.9 H492.0 V278.0 H492.5 V278.1 H493.0 V278.2 H493.5 V278.3 H494.0 V278.4 H494.5 V278.5 H495.0 V278.6 H495.5 V278.6 H496.0 V278.6 H496.5 V278.6 H497.0 V278.6 H497.5 V278.6 H498.0 V278.6 H498.5 V278.6 H499.0 V278.6 H499.5 V278.7 H500.0 V278.7 H500.5 V278.7 H501.0 V278.7 H501.5 V278.7 H502.0 V278.7 H502.5 V278.7 H503.0 V278.7 H503.5 V278.7 H504.0 V278.7 H504.5 V278.7 H505.0 V278.7 H505.5 V278.7 H506.0 V278.7 H506.5 V278.7 H507.0 V278.7 H507.5 V278.8 H508.0 V278.8 H508.5 V278.8 H509.0 V278.8 H509.5 V278.8 H510.0 V278.8 H510.5 V278.8 H511.0 V278.8 V280.5 H407.0 Z"/></clipPath>
<path d="M407.0,278.6 H407.5 V278.6 H408.0 V278.6 H408.5 V278.6 H409.0 V278.6 H409.5 V278.6 H410.0 V278.6 H410.5 V278.6 H411.0 V278.6 H411.5 V278.6 H412.0 V278.6 H412.5 V278.6 H413.0 V278.6 H413.5 V278.6 H414.0 V278.6 H414.5 V278.6 H415.0 V278.6 H415.5 V278.6 H416.0 V278.6 H416.5 V278.3 H417.0 V278.1 H417.5 V277.8 H418.0 V277.4 H418.5 V277.1 H419.0 V276.9 H419.5 V276.2 H420.0 V275.6 H420.5 V274.9 H421.0 V274.6 H421.5 V273.9 H422.0 V272.7 H422.5 V271.5 H423.0 V269.5 H423.5 V268.1 H424.0 V266.0 H424.5 V264.3 H425.0 V263.1 H425.5 V261.3 H426.0 V259.7 H426.5 V257.5 H427.0 V254.4 H427.5 V252.6 H428.0 V250.9 H428.5 V249.0 H429.0 V247.3 H429.5 V245.9 H430.0 V245.5 H430.5 V245.0 H431.0 V244.1 H431.5 V243.6 H432.0 V242.2 H432.5 V243.5 H433.0 V244.8 H433.5 V246.0 H434.0 V248.8 H434.5 V251.3 H435.0 V254.1 H435.5 V256.6 H436.0 V259.3 H436.5 V261.8 H437.0 V262.6 H437.5 V264.3 H438.0 V266.1 H438.5 V267.6 H439.0 V269.4 H439.5 V270.3 H440.0 V270.7 H440.5 V271.6 H441.0 V271.9 H441.5 V272.3 H442.0 V272.8 H442.5 V273.3 H443.0 V274.0 H443.5 V273.8 H444.0 V273.0 H444.5 V272.8 H445.0 V271.9 H445.5 V270.5 H446.0 V268.7 H446.5 V268.0 H447.0 V267.3 H447.5 V266.6 H448.0 V266.7 H448.5 V266.2 H449.0 V265.9 H449.5 V265.4 H450.0 V263.8 H450.5 V263.0 H451.0 V262.0 H451.5 V261.2 H452.0 V261.4 H452.5 V261.9 H453.0 V261.5 H453.5 V262.0 H454.0 V262.1 H454.5 V262.6 H455.0 V264.7 H455.5 V265.2 H456.0 V264.9 H456.5 V265.2 H457.0 V266.3 H457.5 V266.6 H458.0 V266.2 H458.5 V266.5 H459.0 V267.7 H459.5 V268.0 H460.0 V267.5 H460.5 V267.7 H461.0 V267.4 H461.5 V267.6 H462.0 V267.5 H462.5 V266.9 H463.0 V267.3 H463.5 V266.7 H464.0 V266.3 H464.5 V267.5 H465.0 V269.3 H465.5 V270.4 H466.0 V269.2 H466.5 V269.5 H467.0 V270.6 H467.5 V270.4 H468.0 V269.8 H468.5 V269.7 H469.0 V269.7 H469.5 V269.7 H470.0 V269.3 H470.5 V269.6 H471.0 V270.0 H471.5 V270.5 H472.0 V271.2 H472.5 V271.6 H473.0 V272.6 H473.5 V272.8 H474.0 V272.0 H474.5 V272.3 H475.0 V273.1 H475.5 V273.3 H476.0 V273.9 H476.5 V274.2 H477.0 V274.7 H477.5 V275.0 H478.0 V274.7 H478.5 V275.0 H479.0 V275.3 H479.5 V275.5 H480.0 V276.2 H480.5 V276.4 H481.0 V276.6 H481.5 V276.7 H482.0 V276.6 H482.5 V276.8 H483.0 V276.8 H483.5 V276.9 H484.0 V277.3 H484.5 V277.4 H485.0 V277.3 H485.5 V277.3 H486.0 V277.6 H486.5 V277.7 H487.0 V277.6 H487.5 V277.7 H488.0 V277.8 H488.5 V277.8 H489.0 V277.7 H489.5 V277.7 H490.0 V277.9 H490.5 V278.0 H491.0 V277.8 H491.5 V277.9 H492.0 V278.0 H492.5 V278.1 H493.0 V278.2 H493.5 V278.3 H494.0 V278.4 H494.5 V278.5 H495.0 V278.6 H495.5 V278.6 H496.0 V278.6 H496.5 V278.6 H497.0 V278.6 H497.5 V278.6 H498.0 V278.6 H498.5 V278.6 H499.0 V278.6 H499.5 V278.7 H500.0 V278.7 H500.5 V278.7 H501.0 V278.7 H501.5 V278.7 H502.0 V278.7 H502.5 V278.7 H503.0 V278.7 H503.5 V278.7 H504.0 V278.7 H504.5 V278.7 H505.0 V278.7 H505.5 V278.7 H506.0 V278.7 H506.5 V278.7 H507.0 V278.7 H507.5 V278.8 H508.0 V278.8 H508.5 V278.8 H509.0 V278.8 H509.5 V278.8 H510.0 V278.8 H510.5 V278.8 H511.0 V278.8 V280.5 H407.0 Z" fill="#494949" stroke="#1e1e1e" stroke-width="1.3" stroke-linejoin="miter"/>
<path d="M407.0,278.6 H407.5 V278.6 H408.0 V278.6 H408.5 V278.6 H409.0 V278.6 H409.5 V278.6 H410.0 V278.6 H410.5 V278.6 H411.0 V278.6 H411.5 V278.6 H412.0 V278.6 H412.5 V278.6 H413.0 V278.6 H413.5 V278.6 H414.0 V278.6 H414.5 V278.6 H415.0 V278.6 H415.5 V278.6 H416.0 V278.6 H416.5 V278.3 H417.0 V278.1 H417.5 V277.8 H418.0 V277.6 H418.5 V277.3 H419.0 V277.1 H419.5 V276.3 H420.0 V275.2 H420.5 V274.3 H421.0 V273.5 H421.5 V272.4 H422.0 V270.5 H422.5 V268.5 H423.0 V266.6 H423.5 V264.4 H424.0 V261.1 H424.5 V258.0 H425.0 V254.6 H425.5 V250.7 H426.0 V246.9 H426.5 V243.0 H427.0 V239.7 H427.5 V236.0 H428.0 V232.4 H428.5 V228.5 H429.0 V223.7 H429.5 V220.2 H430.0 V219.2 H430.5 V217.6 H431.0 V216.3 H431.5 V216.9 H432.0 V216.8 H432.5 V217.4 H433.0 V221.5 H433.5 V225.5 H434.0 V229.0 H434.5 V233.3 H435.0 V238.1 H435.5 V241.8 H436.0 V245.6 H436.5 V249.3 H437.0 V252.8 H437.5 V256.1 H438.0 V259.1 H438.5 V262.3 H439.0 V264.6 H439.5 V266.9 H440.0 V269.3 H440.5 V271.3 H441.0 V272.1 H441.5 V273.1 H442.0 V274.2 H442.5 V275.1 H443.0 V276.0 H443.5 V276.3 H444.0 V276.6 H444.5 V277.0 H445.0 V277.2 H445.5 V277.6 H446.0 V278.0 H446.5 V278.0 H447.0 V278.1 H447.5 V278.1 H448.0 V278.2 H448.5 V278.2 H449.0 V278.3 H449.5 V278.3 H450.0 V278.3 H450.5 V278.4 H451.0 V278.4 H451.5 V278.5 H452.0 V278.5 H452.5 V278.6 H453.0 V278.6 H453.5 V278.6 H454.0 V278.6 H454.5 V278.6 H455.0 V278.6 H455.5 V278.6 H456.0 V278.6 H456.5 V278.6 H457.0 V278.6 H457.5 V278.6 H458.0 V278.6 H458.5 V278.6 H459.0 V278.6 H459.5 V278.6 H460.0 V278.6 H460.5 V278.6 H461.0 V278.6 H461.5 V278.6 H462.0 V278.6 H462.5 V278.6 H463.0 V278.6 H463.5 V278.6 H464.0 V278.6 H464.5 V278.6 H465.0 V278.6 H465.5 V278.6 H466.0 V278.6 H466.5 V278.6 H467.0 V278.6 H467.5 V278.6 H468.0 V278.7 H468.5 V278.7 H469.0 V278.7 H469.5 V278.7 H470.0 V278.7 H470.5 V278.7 H471.0 V278.7 H471.5 V278.7 H472.0 V278.7 H472.5 V278.7 H473.0 V278.7 H473.5 V278.7 H474.0 V278.7 H474.5 V278.7 H475.0 V278.7 H475.5 V278.7 H476.0 V278.7 H476.5 V278.7 H477.0 V278.7 H477.5 V278.7 H478.0 V278.7 H478.5 V278.7 H479.0 V278.7 H479.5 V278.7 H480.0 V278.7 H480.5 V278.7 H481.0 V278.7 H481.5 V278.7 H482.0 V278.7 H482.5 V278.7 H483.0 V278.7 H483.5 V278.7 H484.0 V278.7 H484.5 V278.7 H485.0 V278.7 H485.5 V278.7 H486.0 V278.7 H486.5 V278.7 H487.0 V278.7 H487.5 V278.7 H488.0 V278.7 H488.5 V278.7 H489.0 V278.7 H489.5 V278.7 H490.0 V278.7 H490.5 V278.7 H491.0 V278.7 H491.5 V278.7 H492.0 V278.7 H492.5 V278.7 H493.0 V278.7 H493.5 V278.7 H494.0 V278.7 H494.5 V278.7 H495.0 V278.7 H495.5 V278.7 H496.0 V278.7 H496.5 V278.7 H497.0 V278.8 H497.5 V278.8 H498.0 V278.8 H498.5 V278.8 H499.0 V278.8 H499.5 V278.8 H500.0 V278.8 H500.5 V278.8 H501.0 V278.8 H501.5 V278.8 H502.0 V278.8 H502.5 V278.8 H503.0 V278.8 H503.5 V278.8 H504.0 V278.8 H504.5 V278.8 H505.0 V278.8 H505.5 V278.8 H506.0 V278.8 H506.5 V278.8 H507.0 V278.8 H507.5 V278.8 H508.0 V278.8 H508.5 V278.8 H509.0 V278.8 H509.5 V278.8 H510.0 V278.8 H510.5 V278.8 H511.0 V278.8" fill="none" stroke="#686868" stroke-width="1.7" stroke-linejoin="round"/>
<path d="M407.0,278.6 H407.5 V278.6 H408.0 V278.6 H408.5 V278.6 H409.0 V278.6 H409.5 V278.6 H410.0 V278.6 H410.5 V278.6 H411.0 V278.6 H411.5 V278.6 H412.0 V278.6 H412.5 V278.6 H413.0 V278.6 H413.5 V278.6 H414.0 V278.6 H414.5 V278.6 H415.0 V278.6 H415.5 V278.6 H416.0 V278.6 H416.5 V278.3 H417.0 V278.1 H417.5 V277.8 H418.0 V277.6 H418.5 V277.3 H419.0 V277.1 H419.5 V276.3 H420.0 V275.2 H420.5 V274.3 H421.0 V273.5 H421.5 V272.4 H422.0 V270.5 H422.5 V268.5 H423.0 V266.6 H423.5 V264.4 H424.0 V261.1 H424.5 V258.0 H425.0 V254.6 H425.5 V250.7 H426.0 V246.9 H426.5 V243.0 H427.0 V239.7 H427.5 V236.0 H428.0 V232.4 H428.5 V228.5 H429.0 V223.7 H429.5 V220.2 H430.0 V219.2 H430.5 V217.6 H431.0 V216.3 H431.5 V216.9 H432.0 V216.8 H432.5 V217.4 H433.0 V221.5 H433.5 V225.5 H434.0 V229.0 H434.5 V233.3 H435.0 V238.1 H435.5 V241.8 H436.0 V245.6 H436.5 V249.3 H437.0 V252.8 H437.5 V256.1 H438.0 V259.1 H438.5 V262.3 H439.0 V264.6 H439.5 V266.9 H440.0 V269.3 H440.5 V271.3 H441.0 V272.1 H441.5 V273.1 H442.0 V274.2 H442.5 V275.1 H443.0 V276.0 H443.5 V276.3 H444.0 V276.6 H444.5 V277.0 H445.0 V277.2 H445.5 V277.6 H446.0 V278.0 H446.5 V278.0 H447.0 V278.1 H447.5 V278.1 H448.0 V278.2 H448.5 V278.2 H449.0 V278.3 H449.5 V278.3 H450.0 V278.3 H450.5 V278.4 H451.0 V278.4 H451.5 V278.5 H452.0 V278.5 H452.5 V278.6 H453.0 V278.6 H453.5 V278.6 H454.0 V278.6 H454.5 V278.6 H455.0 V278.6 H455.5 V278.6 H456.0 V278.6 H456.5 V278.6 H457.0 V278.6 H457.5 V278.6 H458.0 V278.6 H458.5 V278.6 H459.0 V278.6 H459.5 V278.6 H460.0 V278.6 H460.5 V278.6 H461.0 V278.6 H461.5 V278.6 H462.0 V278.6 H462.5 V278.6 H463.0 V278.6 H463.5 V278.6 H464.0 V278.6 H464.5 V278.6 H465.0 V278.6 H465.5 V278.6 H466.0 V278.6 H466.5 V278.6 H467.0 V278.6 H467.5 V278.6 H468.0 V278.7 H468.5 V278.7 H469.0 V278.7 H469.5 V278.7 H470.0 V278.7 H470.5 V278.7 H471.0 V278.7 H471.5 V278.7 H472.0 V278.7 H472.5 V278.7 H473.0 V278.7 H473.5 V278.7 H474.0 V278.7 H474.5 V278.7 H475.0 V278.7 H475.5 V278.7 H476.0 V278.7 H476.5 V278.7 H477.0 V278.7 H477.5 V278.7 H478.0 V278.7 H478.5 V278.7 H479.0 V278.7 H479.5 V278.7 H480.0 V278.7 H480.5 V278.7 H481.0 V278.7 H481.5 V278.7 H482.0 V278.7 H482.5 V278.7 H483.0 V278.7 H483.5 V278.7 H484.0 V278.7 H484.5 V278.7 H485.0 V278.7 H485.5 V278.7 H486.0 V278.7 H486.5 V278.7 H487.0 V278.7 H487.5 V278.7 H488.0 V278.7 H488.5 V278.7 H489.0 V278.7 H489.5 V278.7 H490.0 V278.7 H490.5 V278.7 H491.0 V278.7 H491.5 V278.7 H492.0 V278.7 H492.5 V278.7 H493.0 V278.7 H493.5 V278.7 H494.0 V278.7 H494.5 V278.7 H495.0 V278.7 H495.5 V278.7 H496.0 V278.7 H496.5 V278.7 H497.0 V278.8 H497.5 V278.8 H498.0 V278.8 H498.5 V278.8 H499.0 V278.8 H499.5 V278.8 H500.0 V278.8 H500.5 V278.8 H501.0 V278.8 H501.5 V278.8 H502.0 V278.8 H502.5 V278.8 H503.0 V278.8 H503.5 V278.8 H504.0 V278.8 H504.5 V278.8 H505.0 V278.8 H505.5 V278.8 H506.0 V278.8 H506.5 V278.8 H507.0 V278.8 H507.5 V278.8 H508.0 V278.8 H508.5 V278.8 H509.0 V278.8 H509.5 V278.8 H510.0 V278.8 H510.5 V278.8 H511.0 V278.8" fill="none" stroke="#878787" stroke-width="1.15" stroke-linejoin="round" clip-path="url(#d6)"/>
</g>
<path d="M405.8,199.9 H511.1 V279.5" fill="none" stroke="#383838" stroke-width="1.5"/>
<path d="M406.5,199.20000000000002 V280.3" fill="none" stroke="#000" stroke-width="1.5"/>
<path d="M405.8,279.5 H511.8" fill="none" stroke="#000" stroke-width="1.35"/>
<path d="M406.5,279.20h-4.9 M406.5,276.56h-3.0 M406.5,273.93h-3.0 M406.5,271.29h-3.0 M406.5,268.65h-3.0 M406.5,266.02h-3.0 M406.5,263.38h-4.7 M406.5,260.74h-3.0 M406.5,258.11h-3.0 M406.5,255.47h-3.0 M406.5,252.83h-3.0 M406.5,250.20h-3.0 M406.5,247.56h-4.7 M406.5,244.92h-3.0 M406.5,242.29h-3.0 M406.5,239.65h-3.0 M406.5,237.01h-3.0 M406.5,234.38h-3.0 M406.5,231.74h-4.7 M406.5,229.10h-3.0 M406.5,226.47h-3.0 M406.5,223.83h-3.0 M406.5,221.19h-3.0 M406.5,218.56h-3.0 M406.5,215.92h-4.7 M406.5,213.28h-3.0 M406.5,210.65h-3.0 M406.5,208.01h-3.0 M406.5,205.37h-3.0 M406.5,202.74h-3.0 M406.5,200.10h-4.3" stroke="#000" stroke-width="1.2" fill="none"/>
<path d="M407.40,279.5v4.9 M415.16,279.5v2.7 M419.70,279.5v2.7 M422.92,279.5v2.7 M425.42,279.5v2.7 M427.46,279.5v2.7 M429.18,279.5v2.7 M430.68,279.5v2.7 M432.00,279.5v2.7 M433.17,279.5v4.9 M440.93,279.5v2.7 M445.47,279.5v2.7 M448.69,279.5v2.7 M451.19,279.5v2.7 M453.23,279.5v2.7 M454.96,279.5v2.7 M456.45,279.5v2.7 M457.77,279.5v2.7 M458.95,279.5v4.9 M466.71,279.5v2.7 M471.25,279.5v2.7 M474.47,279.5v2.7 M476.97,279.5v2.7 M479.01,279.5v2.7 M480.73,279.5v2.7 M482.23,279.5v2.7 M483.55,279.5v2.7 M484.73,279.5v4.9 M492.48,279.5v2.7 M497.02,279.5v2.7 M500.24,279.5v2.7 M502.74,279.5v2.7 M504.78,279.5v2.7 M506.51,279.5v2.7 M508.00,279.5v2.7 M509.32,279.5v2.7 M510.00,279.5v4.9" stroke="#000" stroke-width="1.2" fill="none"/>
<g font-size="9.2px" stroke="#111" stroke-width="0.42">
<text transform="translate(398.0,200.2) rotate(-90)" text-anchor="middle" textLength="15.0" lengthAdjust="spacingAndGlyphs">400</text>
<text transform="translate(398.0,278.7) rotate(-90)" text-anchor="middle" textLength="4.5" lengthAdjust="spacingAndGlyphs">0</text>
<text transform="translate(388.0,241.5) rotate(-90)" text-anchor="middle" textLength="29.8" lengthAdjust="spacingAndGlyphs">Counts</text>
<text x="401.2" y="294.8" font-size="9.9px" textLength="8.5" lengthAdjust="spacingAndGlyphs">10</text>
<text x="409.9" y="290.4" font-size="10.6px" textLength="4.7" lengthAdjust="spacingAndGlyphs">0</text>
<text x="427.0" y="294.8" font-size="9.9px" textLength="8.5" lengthAdjust="spacingAndGlyphs">10</text>
<text x="435.7" y="290.4" font-size="10.6px" textLength="4.7" lengthAdjust="spacingAndGlyphs">1</text>
<text x="452.8" y="294.8" font-size="9.9px" textLength="8.5" lengthAdjust="spacingAndGlyphs">10</text>
<text x="461.4" y="290.4" font-size="10.6px" textLength="4.7" lengthAdjust="spacingAndGlyphs">2</text>
<text x="478.5" y="294.8" font-size="9.9px" textLength="8.5" lengthAdjust="spacingAndGlyphs">10</text>
<text x="487.2" y="290.4" font-size="10.6px" textLength="4.7" lengthAdjust="spacingAndGlyphs">3</text>
<text x="504.3" y="294.8" font-size="9.9px" textLength="8.5" lengthAdjust="spacingAndGlyphs">10</text>
<text x="513.0" y="290.4" font-size="10.6px" textLength="4.7" lengthAdjust="spacingAndGlyphs">4</text>
<text x="456.9" y="304.7" text-anchor="middle" textLength="24.8" lengthAdjust="spacingAndGlyphs" stroke-width="0.6">FL2-H</text>
</g>
</g>
<g id="p7">
<clipPath id="c7"><rect x="95.6" y="350.8" width="105.20000000000002" height="80.80000000000001"/></clipPath>
<g clip-path="url(#c7)">
<clipPath id="d7"><path d="M96.0,429.2 H96.5 V429.2 H97.0 V429.2 H97.5 V429.2 H98.0 V429.2 H98.5 V429.2 H99.0 V429.2 H99.5 V429.2 H100.0 V429.2 H100.5 V429.2 H101.0 V429.1 H101.5 V429.1 H102.0 V429.1 H102.5 V429.1 H103.0 V429.1 H103.5 V429.1 H104.0 V429.1 H104.5 V429.1 H105.0 V429.1 H105.5 V429.1 H106.0 V429.1 H106.5 V429.1 H107.0 V429.1 H107.5 V429.1 H108.0 V429.0 H108.5 V429.0 H109.0 V429.1 H109.5 V429.1 H110.0 V429.1 H110.5 V429.1 H111.0 V429.0 H111.5 V429.0 H112.0 V428.9 H112.5 V428.9 H113.0 V429.0 H113.5 V429.0 H114.0 V428.9 H114.5 V428.9 H115.0 V428.9 H115.5 V428.9 H116.0 V429.0 H116.5 V429.0 H117.0 V428.9 H117.5 V428.9 H118.0 V429.0 H118.5 V429.0 H119.0 V429.0 H119.5 V429.0 H120.0 V428.8 H120.5 V428.8 H121.0 V429.0 H121.5 V429.0 H122.0 V428.8 H122.5 V428.8 H123.0 V429.0 H123.5 V429.0 H124.0 V429.0 H124.5 V429.0 H125.0 V428.9 H125.5 V428.9 H126.0 V428.8 H126.5 V428.7 H127.0 V428.9 H127.5 V428.9 H128.0 V428.8 H128.5 V428.8 H129.0 V429.0 H129.5 V429.0 H130.0 V428.7 H130.5 V428.7 H131.0 V429.0 H131.5 V428.9 H132.0 V429.0 H132.5 V429.0 H133.0 V428.9 H133.5 V428.9 H134.0 V428.9 H134.5 V428.9 H135.0 V428.7 H135.5 V428.6 H136.0 V428.8 H136.5 V428.7 H137.0 V428.4 H137.5 V428.3 H138.0 V428.4 H138.5 V428.3 H139.0 V428.2 H139.5 V428.1 H140.0 V427.6 H140.5 V427.5 H141.0 V427.8 H141.5 V427.7 H142.0 V427.7 H142.5 V427.7 H143.0 V427.1 H143.5 V427.1 H144.0 V427.2 H144.5 V427.2 H145.0 V427.4 H145.5 V427.3 H146.0 V426.9 H146.5 V426.8 H147.0 V427.3 H147.5 V427.2 H148.0 V426.6 H148.5 V426.5 H149.0 V426.8 H149.5 V426.7 H150.0 V426.1 H150.5 V426.0 H151.0 V426.2 H151.5 V426.1 H152.0 V426.3 H152.5 V426.0 H153.0 V425.1 H153.5 V424.7 H154.0 V424.4 H154.5 V424.1 H155.0 V424.0 H155.5 V423.7 H156.0 V423.1 H156.5 V422.8 H157.0 V422.0 H157.5 V421.6 H158.0 V421.5 H158.5 V420.8 H159.0 V420.1 H159.5 V419.4 H160.0 V420.1 H160.5 V419.5 H161.0 V418.3 H161.5 V417.3 H162.0 V416.7 H162.5 V415.7 H163.0 V413.4 H163.5 V412.9 H164.0 V413.5 H164.5 V413.0 H165.0 V411.3 H165.5 V410.8 H166.0 V411.1 H166.5 V410.6 H167.0 V410.2 H167.5 V409.7 H168.0 V408.7 H168.5 V408.0 H169.0 V408.1 H169.5 V407.4 H170.0 V406.0 H170.5 V405.3 H171.0 V405.9 H171.5 V406.9 H172.0 V408.5 H172.5 V409.5 H173.0 V408.1 H173.5 V407.8 H174.0 V409.2 H174.5 V408.9 H175.0 V409.4 H175.5 V410.8 H176.0 V411.8 H176.5 V413.1 H177.0 V415.0 H177.5 V416.3 H178.0 V416.6 H178.5 V417.8 H179.0 V420.4 H179.5 V421.6 H180.0 V422.1 H180.5 V423.1 H181.0 V423.8 H181.5 V424.9 H182.0 V426.2 H182.5 V426.5 H183.0 V426.6 H183.5 V427.0 H184.0 V427.1 H184.5 V427.5 H185.0 V428.1 H185.5 V428.2 H186.0 V427.9 H186.5 V428.0 H187.0 V428.4 H187.5 V428.5 H188.0 V428.3 H188.5 V428.4 H189.0 V428.6 H189.5 V428.7 H190.0 V428.8 H190.5 V428.9 H191.0 V428.8 H191.5 V428.8 H192.0 V428.9 H192.5 V428.9 H193.0 V428.8 H193.5 V428.8 H194.0 V428.8 H194.5 V428.8 H195.0 V428.8 H195.5 V428.8 H196.0 V428.9 H196.5 V428.9 H197.0 V429.1 H197.5 V429.1 H198.0 V429.1 H198.5 V429.1 H199.0 V429.1 H199.5 V429.1 H200.0 V429.2 H200.5 V429.2 H201.0 V429.2 V431.6 H96.0 Z"/></clipPath>
<path d="M96.0,429.2 H96.5 V429.2 H97.0 V429.2 H97.5 V429.2 H98.0 V429.2 H98.5 V429.2 H99.0 V429.2 H99.5 V429.2 H100.0 V429.2 H100.5 V429.2 H101.0 V429.1 H101.5 V429.1 H102.0 V429.1 H102.5 V429.1 H103.0 V429.1 H103.5 V429.1 H104.0 V429.1 H104.5 V429.1 H105.0 V429.1 H105.5 V429.1 H106.0 V429.1 H106.5 V429.1 H107.0 V429.1 H107.5 V429.1 H108.0 V429.0 H108.5 V429.0 H109.0 V429.1 H109.5 V429.1 H110.0 V429.1 H110.5 V429.1 H111.0 V429.0 H111.5 V429.0 H112.0 V428.9 H112.5 V428.9 H113.0 V429.0 H113.5 V429.0 H114.0 V428.9 H114.5 V428.9 H115.0 V428.9 H115.5 V428.9 H116.0 V429.0 H116.5 V429.0 H117.0 V428.9 H117.5 V428.9 H118.0 V429.0 H118.5 V429.0 H119.0 V429.0 H119.5 V429.0 H120.0 V428.8 H120.5 V428.8 H121.0 V429.0 H121.5 V429.0 H122.0 V428.8 H122.5 V428.8 H123.0 V429.0 H123.5 V429.0 H124.0 V429.0 H124.5 V429.0 H125.0 V428.9 H125.5 V428.9 H126.0 V428.8 H126.5 V428.7 H127.0 V428.9 H127.5 V428.9 H128.0 V428.8 H128.5 V428.8 H129.0 V429.0 H129.5 V429.0 H130.0 V428.7 H130.5 V428.7 H131.0 V429.0 H131.5 V428.9 H132.0 V429.0 H132.5 V429.0 H133.0 V428.9 H133.5 V428.9 H134.0 V428.9 H134.5 V428.9 H135.0 V428.7 H135.5 V428.6 H136.0 V428.8 H136.5 V428.7 H137.0 V428.4 H137.5 V428.3 H138.0 V428.4 H138.5 V428.3 H139.0 V428.2 H139.5 V428.1 H140.0 V427.6 H140.5 V427.5 H141.0 V427.8 H141.5 V427.7 H142.0 V427.7 H142.5 V427.7 H143.0 V427.1 H143.5 V427.1 H144.0 V427.2 H144.5 V427.2 H145.0 V427.4 H145.5 V427.3 H146.0 V426.9 H146.5 V426.8 H147.0 V427.3 H147.5 V427.2 H148.0 V426.6 H148.5 V426.5 H149.0 V426.8 H149.5 V426.7 H150.0 V426.1 H150.5 V426.0 H151.0 V426.2 H151.5 V426.1 H152.0 V426.3 H152.5 V426.0 H153.0 V425.1 H153.5 V424.7 H154.0 V424.4 H154.5 V424.1 H155.0 V424.0 H155.5 V423.7 H156.0 V423.1 H156.5 V422.8 H157.0 V422.0 H157.5 V421.6 H158.0 V421.5 H158.5 V420.8 H159.0 V420.1 H159.5 V419.4 H160.0 V420.1 H160.5 V419.5 H161.0 V418.3 H161.5 V417.3 H162.0 V416.7 H162.5 V415.7 H163.0 V413.4 H163.5 V412.9 H164.0 V413.5 H164.5 V413.0 H165.0 V411.3 H165.5 V410.8 H166.0 V411.1 H166.5 V410.6 H167.0 V410.2 H167.5 V409.7 H168.0 V408.7 H168.5 V408.0 H169.0 V408.1 H169.5 V407.4 H170.0 V406.0 H170.5 V405.3 H171.0 V405.9 H171.5 V406.9 H172.0 V408.5 H172.5 V409.5 H173.0 V408.1 H173.5 V407.8 H174.0 V409.2 H174.5 V408.9 H175.0 V409.4 H175.5 V410.8 H176.0 V411.8 H176.5 V413.1 H177.0 V415.0 H177.5 V416.3 H178.0 V416.6 H178.5 V417.8 H179.0 V420.4 H179.5 V421.6 H180.0 V422.1 H180.5 V423.1 H181.0 V423.8 H181.5 V424.9 H182.0 V426.2 H182.5 V426.5 H183.0 V426.6 H183.5 V427.0 H184.0 V427.1 H184.5 V427.5 H185.0 V428.1 H185.5 V428.2 H186.0 V427.9 H186.5 V428.0 H187.0 V428.4 H187.5 V428.5 H188.0 V428.3 H188.5 V428.4 H189.0 V428.6 H189.5 V428.7 H190.0 V428.8 H190.5 V428.9 H191.0 V428.8 H191.5 V428.8 H192.0 V428.9 H192.5 V428.9 H193.0 V428.8 H193.5 V428.8 H194.0 V428.8 H194.5 V428.8 H195.0 V428.8 H195.5 V428.8 H196.0 V428.9 H196.5 V428.9 H197.0 V429.1 H197.5 V429.1 H198.0 V429.1 H198.5 V429.1 H199.0 V429.1 H199.5 V429.1 H200.0 V429.2 H200.5 V429.2 H201.0 V429.2 V431.6 H96.0 Z" fill="#494949" stroke="#1e1e1e" stroke-width="1.3" stroke-linejoin="miter"/>
<path d="M96.0,429.0 H96.5 V429.0 H97.0 V429.1 H97.5 V429.1 H98.0 V428.9 H98.5 V428.9 H99.0 V429.0 H99.5 V429.0 H100.0 V429.0 H100.5 V429.0 H101.0 V428.9 H101.5 V428.9 H102.0 V428.9 H102.5 V428.9 H103.0 V429.0 H103.5 V429.0 H104.0 V428.9 H104.5 V428.9 H105.0 V429.0 H105.5 V429.0 H106.0 V429.0 H106.5 V429.0 H107.0 V429.0 H107.5 V429.0 H108.0 V429.0 H108.5 V429.0 H109.0 V429.0 H109.5 V429.0 H110.0 V429.0 H110.5 V429.0 H111.0 V429.0 H111.5 V429.0 H112.0 V428.9 H112.5 V428.6 H113.0 V428.4 H113.5 V428.1 H114.0 V427.6 H114.5 V427.2 H115.0 V426.9 H115.5 V425.3 H116.0 V423.7 H116.5 V422.2 H117.0 V421.1 H117.5 V417.9 H118.0 V414.9 H118.5 V411.6 H119.0 V408.3 H119.5 V404.5 H120.0 V400.4 H120.5 V396.7 H121.0 V392.3 H121.5 V388.0 H122.0 V383.5 H122.5 V381.4 H123.0 V379.9 H123.5 V378.0 H124.0 V376.9 H124.5 V376.0 H125.0 V374.9 H125.5 V378.9 H126.0 V383.1 H126.5 V387.8 H127.0 V392.2 H127.5 V396.7 H128.0 V400.9 H128.5 V404.7 H129.0 V408.2 H129.5 V411.7 H130.0 V414.6 H130.5 V418.1 H131.0 V420.6 H131.5 V422.1 H132.0 V422.9 H132.5 V424.4 H133.0 V425.4 H133.5 V426.0 H134.0 V426.5 H134.5 V427.0 H135.0 V427.5 H135.5 V427.6 H136.0 V427.6 H136.5 V427.7 H137.0 V427.9 H137.5 V428.0 H138.0 V427.9 H138.5 V427.9 H139.0 V428.1 H139.5 V428.2 H140.0 V428.4 H140.5 V428.4 H141.0 V428.3 H141.5 V428.3 H142.0 V428.3 H142.5 V428.3 H143.0 V428.4 H143.5 V428.4 H144.0 V428.4 H144.5 V428.4 H145.0 V428.5 H145.5 V428.5 H146.0 V428.5 H146.5 V428.5 H147.0 V428.4 H147.5 V428.4 H148.0 V428.4 H148.5 V428.4 H149.0 V428.4 H149.5 V428.4 H150.0 V428.4 H150.5 V428.4 H151.0 V428.6 H151.5 V428.6 H152.0 V428.6 H152.5 V428.6 H153.0 V428.6 H153.5 V428.6 H154.0 V428.4 H154.5 V428.4 H155.0 V428.6 H155.5 V428.6 H156.0 V428.6 H156.5 V428.6 H157.0 V428.6 H157.5 V428.6 H158.0 V428.6 H158.5 V428.6 H159.0 V428.6 H159.5 V428.6 H160.0 V428.5 H160.5 V428.5 H161.0 V428.5 H161.5 V428.5 H162.0 V428.6 H162.5 V428.6 H163.0 V428.5 H163.5 V428.5 H164.0 V428.6 H164.5 V428.6 H165.0 V428.7 H165.5 V428.7 H166.0 V428.7 H166.5 V428.7 H167.0 V428.7 H167.5 V428.7 H168.0 V428.7 H168.5 V428.7 H169.0 V428.6 H169.5 V428.6 H170.0 V428.7 H170.5 V428.7 H171.0 V428.7 H171.5 V428.7 H172.0 V428.8 H172.5 V428.8 H173.0 V428.7 H173.5 V428.7 H174.0 V428.7 H174.5 V428.7 H175.0 V428.8 H175.5 V428.8 H176.0 V428.8 H176.5 V428.8 H177.0 V428.7 H177.5 V428.7 H178.0 V428.8 H178.5 V428.8 H179.0 V428.7 H179.5 V428.7 H180.0 V428.7 H180.5 V428.8 H181.0 V428.8 H181.5 V428.8 H182.0 V428.9 H182.5 V428.9 H183.0 V428.9 H183.5 V428.9 H184.0 V428.9 H184.5 V428.9 H185.0 V428.8 H185.5 V428.8 H186.0 V428.9 H186.5 V428.9 H187.0 V428.8 H187.5 V428.8 H188.0 V428.8 H188.5 V428.8 H189.0 V429.0 H189.5 V429.0 H190.0 V428.9 H190.5 V428.9 H191.0 V428.9 H191.5 V428.9 H192.0 V428.9 H192.5 V428.9 H193.0 V429.0 H193.5 V429.0 H194.0 V428.9 H194.5 V428.9 H195.0 V429.0 H195.5 V429.0 H196.0 V429.0 H196.5 V429.0 H197.0 V429.0 H197.5 V429.0 H198.0 V429.0 H198.5 V429.0 H199.0 V429.0 H199.5 V429.0 H200.0 V429.0 H200.5 V429.0 H201.0 V429.0" fill="none" stroke="#686868" stroke-width="1.7" stroke-linejoin="round"/>
<path d="M96.0,429.0 H96.5 V429.0 H97.0 V429.1 H97.5 V429.1 H98.0 V428.9 H98.5 V428.9 H99.0 V429.0 H99.5 V429.0 H100.0 V429.0 H100.5 V429.0 H101.0 V428.9 H101.5 V428.9 H102.0 V428.9 H102.5 V428.9 H103.0 V429.0 H103.5 V429.0 H104.0 V428.9 H104.5 V428.9 H105.0 V429.0 H105.5 V429.0 H106.0 V429.0 H106.5 V429.0 H107.0 V429.0 H107.5 V429.0 H108.0 V429.0 H108.5 V429.0 H109.0 V429.0 H109.5 V429.0 H110.0 V429.0 H110.5 V429.0 H111.0 V429.0 H111.5 V429.0 H112.0 V428.9 H112.5 V428.6 H113.0 V428.4 H113.5 V428.1 H114.0 V427.6 H114.5 V427.2 H115.0 V426.9 H115.5 V425.3 H116.0 V423.7 H116.5 V422.2 H117.0 V421.1 H117.5 V417.9 H118.0 V414.9 H118.5 V411.6 H119.0 V408.3 H119.5 V404.5 H120.0 V400.4 H120.5 V396.7 H121.0 V392.3 H121.5 V388.0 H122.0 V383.5 H122.5 V381.4 H123.0 V379.9 H123.5 V378.0 H124.0 V376.9 H124.5 V376.0 H125.0 V374.9 H125.5 V378.9 H126.0 V383.1 H126.5 V387.8 H127.0 V392.2 H127.5 V396.7 H128.0 V400.9 H128.5 V404.7 H129.0 V408.2 H129.5 V411.7 H130.0 V414.6 H130.5 V418.1 H131.0 V420.6 H131.5 V422.1 H132.0 V422.9 H132.5 V424.4 H133.0 V425.4 H133.5 V426.0 H134.0 V426.5 H134.5 V427.0 H135.0 V427.5 H135.5 V427.6 H136.0 V427.6 H136.5 V427.7 H137.0 V427.9 H137.5 V428.0 H138.0 V427.9 H138.5 V427.9 H139.0 V428.1 H139.5 V428.2 H140.0 V428.4 H140.5 V428.4 H141.0 V428.3 H141.5 V428.3 H142.0 V428.3 H142.5 V428.3 H143.0 V428.4 H143.5 V428.4 H144.0 V428.4 H144.5 V428.4 H145.0 V428.5 H145.5 V428.5 H146.0 V428.5 H146.5 V428.5 H147.0 V428.4 H147.5 V428.4 H148.0 V428.4 H148.5 V428.4 H149.0 V428.4 H149.5 V428.4 H150.0 V428.4 H150.5 V428.4 H151.0 V428.6 H151.5 V428.6 H152.0 V428.6 H152.5 V428.6 H153.0 V428.6 H153.5 V428.6 H154.0 V428.4 H154.5 V428.4 H155.0 V428.6 H155.5 V428.6 H156.0 V428.6 H156.5 V428.6 H157.0 V428.6 H157.5 V428.6 H158.0 V428.6 H158.5 V428.6 H159.0 V428.6 H159.5 V428.6 H160.0 V428.5 H160.5 V428.5 H161.0 V428.5 H161.5 V428.5 H162.0 V428.6 H162.5 V428.6 H163.0 V428.5 H163.5 V428.5 H164.0 V428.6 H164.5 V428.6 H165.0 V428.7 H165.5 V428.7 H166.0 V428.7 H166.5 V428.7 H167.0 V428.7 H167.5 V428.7 H168.0 V428.7 H168.5 V428.7 H169.0 V428.6 H169.5 V428.6 H170.0 V428.7 H170.5 V428.7 H171.0 V428.7 H171.5 V428.7 H172.0 V428.8 H172.5 V428.8 H173.0 V428.7 H173.5 V428.7 H174.0 V428.7 H174.5 V428.7 H175.0 V428.8 H175.5 V428.8 H176.0 V428.8 H176.5 V428.8 H177.0 V428.7 H177.5 V428.7 H178.0 V428.8 H178.5 V428.8 H179.0 V428.7 H179.5 V428.7 H180.0 V428.7 H180.5 V428.8 H181.0 V428.8 H181.5 V428.8 H182.0 V428.9 H182.5 V428.9 H183.0 V428.9 H183.5 V428.9 H184.0 V428.9 H184.5 V428.9 H185.0 V428.8 H185.5 V428.8 H186.0 V428.9 H186.5 V428.9 H187.0 V428.8 H187.5 V428.8 H188.0 V428.8 H188.5 V428.8 H189.0 V429.0 H189.5 V429.0 H190.0 V428.9 H190.5 V428.9 H191.0 V428.9 H191.5 V428.9 H192.0 V428.9 H192.5 V428.9 H193.0 V429.0 H193.5 V429.0 H194.0 V428.9 H194.5 V428.9 H195.0 V429.0 H195.5 V429.0 H196.0 V429.0 H196.5 V429.0 H197.0 V429.0 H197.5 V429.0 H198.0 V429.0 H198.5 V429.0 H199.0 V429.0 H199.5 V429.0 H200.0 V429.0 H200.5 V429.0 H201.0 V429.0" fill="none" stroke="#878787" stroke-width="1.15" stroke-linejoin="round" clip-path="url(#d7)"/>
</g>
<path d="M94.89999999999999,350.8 H200.8 V430.6" fill="none" stroke="#383838" stroke-width="1.5"/>
<path d="M95.6,350.1 V431.40000000000003" fill="none" stroke="#000" stroke-width="1.5"/>
<path d="M94.89999999999999,430.6 H201.5" fill="none" stroke="#000" stroke-width="1.35"/>
<path d="M95.6,430.30h-4.9 M95.6,427.66h-3.0 M95.6,425.01h-3.0 M95.6,422.37h-3.0 M95.6,419.73h-3.0 M95.6,417.08h-3.0 M95.6,414.44h-4.7 M95.6,411.80h-3.0 M95.6,409.15h-3.0 M95.6,406.51h-3.0 M95.6,403.87h-3.0 M95.6,401.22h-3.0 M95.6,398.58h-4.7 M95.6,395.94h-3.0 M95.6,393.29h-3.0 M95.6,390.65h-3.0 M95.6,388.01h-3.0 M95.6,385.36h-3.0 M95.6,382.72h-4.7 M95.6,380.08h-3.0 M95.6,377.43h-3.0 M95.6,374.79h-3.0 M95.6,372.15h-3.0 M95.6,369.50h-3.0 M95.6,366.86h-4.7 M95.6,364.22h-3.0 M95.6,361.57h-3.0 M95.6,358.93h-3.0 M95.6,356.29h-3.0 M95.6,353.64h-3.0 M95.6,351.00h-4.3" stroke="#000" stroke-width="1.2" fill="none"/>
<path d="M96.50,430.6v4.9 M104.30,430.6v2.7 M108.87,430.6v2.7 M112.11,430.6v2.7 M114.62,430.6v2.7 M116.67,430.6v2.7 M118.41,430.6v2.7 M119.91,430.6v2.7 M121.24,430.6v2.7 M122.43,430.6v4.9 M130.23,430.6v2.7 M134.79,430.6v2.7 M138.03,430.6v2.7 M140.55,430.6v2.7 M142.60,430.6v2.7 M144.33,430.6v2.7 M145.84,430.6v2.7 M147.16,430.6v2.7 M148.35,430.6v4.9 M156.15,430.6v2.7 M160.72,430.6v2.7 M163.96,430.6v2.7 M166.47,430.6v2.7 M168.52,430.6v2.7 M170.26,430.6v2.7 M171.76,430.6v2.7 M173.09,430.6v2.7 M174.28,430.6v4.9 M182.08,430.6v2.7 M186.64,430.6v2.7 M189.88,430.6v2.7 M192.40,430.6v2.7 M194.45,430.6v2.7 M196.18,430.6v2.7 M197.69,430.6v2.7 M199.01,430.6v2.7 M199.70,430.6v4.9" stroke="#000" stroke-width="1.2" fill="none"/>
<g font-size="9.2px" stroke="#111" stroke-width="0.42">
<text transform="translate(87.1,351.1) rotate(-90)" text-anchor="middle" textLength="15.0" lengthAdjust="spacingAndGlyphs">300</text>
<text transform="translate(87.1,429.8) rotate(-90)" text-anchor="middle" textLength="4.5" lengthAdjust="spacingAndGlyphs">0</text>
<text transform="translate(77.1,392.5) rotate(-90)" text-anchor="middle" textLength="29.8" lengthAdjust="spacingAndGlyphs">Counts</text>
<text x="90.3" y="445.9" font-size="9.9px" textLength="8.5" lengthAdjust="spacingAndGlyphs">10</text>
<text x="99.0" y="441.5" font-size="10.6px" textLength="4.7" lengthAdjust="spacingAndGlyphs">0</text>
<text x="116.2" y="445.9" font-size="9.9px" textLength="8.5" lengthAdjust="spacingAndGlyphs">10</text>
<text x="124.9" y="441.5" font-size="10.6px" textLength="4.7" lengthAdjust="spacingAndGlyphs">1</text>
<text x="142.2" y="445.9" font-size="9.9px" textLength="8.5" lengthAdjust="spacingAndGlyphs">10</text>
<text x="150.9" y="441.5" font-size="10.6px" textLength="4.7" lengthAdjust="spacingAndGlyphs">2</text>
<text x="168.1" y="445.9" font-size="9.9px" textLength="8.5" lengthAdjust="spacingAndGlyphs">10</text>
<text x="176.8" y="441.5" font-size="10.6px" textLength="4.7" lengthAdjust="spacingAndGlyphs">3</text>
<text x="194.0" y="445.9" font-size="9.9px" textLength="8.5" lengthAdjust="spacingAndGlyphs">10</text>
<text x="202.7" y="441.5" font-size="10.6px" textLength="4.7" lengthAdjust="spacingAndGlyphs">4</text>
<text x="146.3" y="455.8" text-anchor="middle" textLength="24.8" lengthAdjust="spacingAndGlyphs" stroke-width="0.6">FL2-H</text>
</g>
</g>
<g id="p8">
<clipPath id="c8"><rect x="252.0" y="350.5" width="105.5" height="80.60000000000002"/></clipPath>
<g clip-path="url(#c8)">
<clipPath id="d8"><path d="M252.6,428.6 H253.1 V428.6 H253.6 V428.6 H254.1 V428.6 H254.6 V428.6 H255.1 V428.6 H255.6 V428.6 H256.1 V428.6 H256.6 V428.6 H257.1 V428.6 H257.6 V428.6 H258.1 V428.6 H258.6 V428.6 H259.1 V428.6 H259.6 V428.6 H260.1 V428.6 H260.6 V428.6 H261.1 V428.6 H261.6 V428.6 H262.1 V428.6 H262.6 V428.6 H263.1 V428.6 H263.6 V428.6 H264.1 V428.6 H264.6 V428.6 H265.1 V428.6 H265.6 V428.6 H266.1 V428.6 H266.6 V428.6 H267.1 V428.6 H267.6 V428.6 H268.1 V428.6 H268.6 V428.6 H269.1 V428.4 H269.6 V428.0 H270.1 V427.7 H270.6 V427.3 H271.1 V426.5 H271.6 V426.1 H272.1 V426.1 H272.6 V424.9 H273.1 V422.8 H273.6 V421.5 H274.1 V419.7 H274.6 V417.4 H275.1 V415.3 H275.6 V413.1 H276.1 V411.9 H276.6 V407.6 H277.1 V402.3 H277.6 V398.1 H278.1 V393.7 H278.6 V389.6 H279.1 V385.6 H279.6 V382.8 H280.1 V380.0 H280.6 V377.2 H281.1 V376.8 H281.6 V375.2 H282.1 V374.1 H282.6 V375.3 H283.1 V376.6 H283.6 V378.2 H284.1 V380.5 H284.6 V382.7 H285.1 V383.7 H285.6 V386.2 H286.1 V389.7 H286.6 V392.2 H287.1 V394.6 H287.6 V397.5 H288.1 V401.0 H288.6 V403.1 H289.1 V405.3 H289.6 V407.2 H290.1 V408.9 H290.6 V410.5 H291.1 V410.4 H291.6 V411.1 H292.1 V413.3 H292.6 V414.1 H293.1 V414.9 H293.6 V415.6 H294.1 V416.4 H294.6 V417.2 H295.1 V416.4 H295.6 V417.2 H296.1 V418.1 H296.6 V418.9 H297.1 V419.5 H297.6 V420.3 H298.1 V420.9 H298.6 V421.8 H299.1 V423.5 H299.6 V423.9 H300.1 V424.3 H300.6 V424.7 H301.1 V424.9 H301.6 V425.4 H302.1 V425.9 H302.6 V426.1 H303.1 V426.1 H303.6 V426.3 H304.1 V426.2 H304.6 V426.4 H305.1 V426.4 H305.6 V426.6 H306.1 V426.8 H306.6 V426.9 H307.1 V427.3 H307.6 V427.3 H308.1 V427.1 H308.6 V427.2 H309.1 V427.3 H309.6 V427.3 H310.1 V427.5 H310.6 V427.5 H311.1 V427.4 H311.6 V427.4 H312.1 V427.6 H312.6 V427.7 H313.1 V427.7 H313.6 V427.8 H314.1 V428.0 H314.6 V428.0 H315.1 V428.0 H315.6 V428.0 H316.1 V428.0 H316.6 V428.1 H317.1 V428.4 H317.6 V428.4 H318.1 V428.2 H318.6 V428.2 H319.1 V428.3 H319.6 V428.4 H320.1 V428.3 H320.6 V428.3 H321.1 V428.1 H321.6 V428.1 H322.1 V428.2 H322.6 V428.3 H323.1 V428.3 H323.6 V428.3 H324.1 V428.4 H324.6 V428.4 H325.1 V428.3 H325.6 V428.3 H326.1 V428.4 H326.6 V428.4 H327.1 V428.4 H327.6 V428.4 H328.1 V428.3 H328.6 V428.3 H329.1 V428.5 H329.6 V428.5 H330.1 V428.3 H330.6 V428.3 H331.1 V428.5 H331.6 V428.5 H332.1 V428.3 H332.6 V428.3 H333.1 V428.3 H333.6 V428.3 H334.1 V428.4 H334.6 V428.4 H335.1 V428.5 H335.6 V428.6 H336.1 V428.6 H336.6 V428.6 H337.1 V428.4 H337.6 V428.4 H338.1 V428.5 H338.6 V428.5 H339.1 V428.5 H339.6 V428.5 H340.1 V428.6 H340.6 V428.6 H341.1 V428.5 H341.6 V428.5 H342.1 V428.6 H342.6 V428.6 H343.1 V428.6 H343.6 V428.6 H344.1 V428.6 H344.6 V428.6 H345.1 V428.6 H345.6 V428.6 H346.1 V428.6 H346.6 V428.6 H347.1 V428.7 H347.6 V428.7 H348.1 V428.7 H348.6 V428.7 H349.1 V428.7 H349.6 V428.7 H350.1 V428.7 H350.6 V428.7 H351.1 V428.7 H351.6 V428.7 H352.1 V428.7 H352.6 V428.7 H353.1 V428.7 H353.6 V428.7 H354.1 V428.8 H354.6 V428.8 H355.1 V428.8 H355.6 V428.8 H356.1 V428.8 H356.6 V428.8 V431.1 H252.6 Z"/></clipPath>
<path d="M252.6,428.6 H253.1 V428.6 H253.6 V428.6 H254.1 V428.6 H254.6 V428.6 H255.1 V428.6 H255.6 V428.6 H256.1 V428.6 H256.6 V428.6 H257.1 V428.6 H257.6 V428.6 H258.1 V428.6 H258.6 V428.6 H259.1 V428.6 H259.6 V428.6 H260.1 V428.6 H260.6 V428.6 H261.1 V428.6 H261.6 V428.6 H262.1 V428.6 H262.6 V428.6 H263.1 V428.6 H263.6 V428.6 H264.1 V428.6 H264.6 V428.6 H265.1 V428.6 H265.6 V428.6 H266.1 V428.6 H266.6 V428.6 H267.1 V428.6 H267.6 V428.6 H268.1 V428.6 H268.6 V428.6 H269.1 V428.4 H269.6 V428.0 H270.1 V427.7 H270.6 V427.3 H271.1 V426.5 H271.6 V426.1 H272.1 V426.1 H272.6 V424.9 H273.1 V422.8 H273.6 V421.5 H274.1 V419.7 H274.6 V417.4 H275.1 V415.3 H275.6 V413.1 H276.1 V411.9 H276.6 V407.6 H277.1 V402.3 H277.6 V398.1 H278.1 V393.7 H278.6 V389.6 H279.1 V385.6 H279.6 V382.8 H280.1 V380.0 H280.6 V377.2 H281.1 V376.8 H281.6 V375.2 H282.1 V374.1 H282.6 V375.3 H283.1 V376.6 H283.6 V378.2 H284.1 V380.5 H284.6 V382.7 H285.1 V383.7 H285.6 V386.2 H286.1 V389.7 H286.6 V392.2 H287.1 V394.6 H287.6 V397.5 H288.1 V401.0 H288.6 V403.1 H289.1 V405.3 H289.6 V407.2 H290.1 V408.9 H290.6 V410.5 H291.1 V410.4 H291.6 V411.1 H292.1 V413.3 H292.6 V414.1 H293.1 V414.9 H293.6 V415.6 H294.1 V416.4 H294.6 V417.2 H295.1 V416.4 H295.6 V417.2 H296.1 V418.1 H296.6 V418.9 H297.1 V419.5 H297.6 V420.3 H298.1 V420.9 H298.6 V421.8 H299.1 V423.5 H299.6 V423.9 H300.1 V424.3 H300.6 V424.7 H301.1 V424.9 H301.6 V425.4 H302.1 V425.9 H302.6 V426.1 H303.1 V426.1 H303.6 V426.3 H304.1 V426.2 H304.6 V426.4 H305.1 V426.4 H305.6 V426.6 H306.1 V426.8 H306.6 V426.9 H307.1 V427.3 H307.6 V427.3 H308.1 V427.1 H308.6 V427.2 H309.1 V427.3 H309.6 V427.3 H310.1 V427.5 H310.6 V427.5 H311.1 V427.4 H311.6 V427.4 H312.1 V427.6 H312.6 V427.7 H313.1 V427.7 H313.6 V427.8 H314.1 V428.0 H314.6 V428.0 H315.1 V428.0 H315.6 V428.0 H316.1 V428.0 H316.6 V428.1 H317.1 V428.4 H317.6 V428.4 H318.1 V428.2 H318.6 V428.2 H319.1 V428.3 H319.6 V428.4 H320.1 V428.3 H320.6 V428.3 H321.1 V428.1 H321.6 V428.1 H322.1 V428.2 H322.6 V428.3 H323.1 V428.3 H323.6 V428.3 H324.1 V428.4 H324.6 V428.4 H325.1 V428.3 H325.6 V428.3 H326.1 V428.4 H326.6 V428.4 H327.1 V428.4 H327.6 V428.4 H328.1 V428.3 H328.6 V428.3 H329.1 V428.5 H329.6 V428.5 H330.1 V428.3 H330.6 V428.3 H331.1 V428.5 H331.6 V428.5 H332.1 V428.3 H332.6 V428.3 H333.1 V428.3 H333.6 V428.3 H334.1 V428.4 H334.6 V428.4 H335.1 V428.5 H335.6 V428.6 H336.1 V428.6 H336.6 V428.6 H337.1 V428.4 H337.6 V428.4 H338.1 V428.5 H338.6 V428.5 H339.1 V428.5 H339.6 V428.5 H340.1 V428.6 H340.6 V428.6 H341.1 V428.5 H341.6 V428.5 H342.1 V428.6 H342.6 V428.6 H343.1 V428.6 H343.6 V428.6 H344.1 V428.6 H344.6 V428.6 H345.1 V428.6 H345.6 V428.6 H346.1 V428.6 H346.6 V428.6 H347.1 V428.7 H347.6 V428.7 H348.1 V428.7 H348.6 V428.7 H349.1 V428.7 H349.6 V428.7 H350.1 V428.7 H350.6 V428.7 H351.1 V428.7 H351.6 V428.7 H352.1 V428.7 H352.6 V428.7 H353.1 V428.7 H353.6 V428.7 H354.1 V428.8 H354.6 V428.8 H355.1 V428.8 H355.6 V428.8 H356.1 V428.8 H356.6 V428.8 V431.1 H252.6 Z" fill="#494949" stroke="#1e1e1e" stroke-width="1.3" stroke-linejoin="miter"/>
<path d="M252.6,428.5 H253.1 V428.4 H253.6 V428.4 H254.1 V428.5 H254.6 V428.5 H255.1 V428.4 H255.6 V428.4 H256.1 V428.4 H256.6 V428.4 H257.1 V428.4 H257.6 V428.4 H258.1 V428.4 H258.6 V428.4 H259.1 V428.3 H259.6 V428.3 H260.1 V428.4 H260.6 V428.4 H261.1 V428.3 H261.6 V428.3 H262.1 V428.4 H262.6 V428.4 H263.1 V428.4 H263.6 V428.4 H264.1 V428.4 H264.6 V428.4 H265.1 V428.4 H265.6 V428.4 H266.1 V428.3 H266.6 V427.9 H267.1 V427.5 H267.6 V427.1 H268.1 V426.7 H268.6 V426.3 H269.1 V425.9 H269.6 V424.4 H270.1 V422.4 H270.6 V420.8 H271.1 V419.6 H271.6 V415.9 H272.1 V411.3 H272.6 V407.5 H273.1 V402.0 H273.6 V396.3 H274.1 V390.6 H274.6 V384.9 H275.1 V379.8 H275.6 V374.7 H276.1 V369.9 H276.6 V365.5 H277.1 V361.0 H277.6 V356.5 H278.1 V353.2 H278.6 V352.5 H279.1 V351.5 H279.6 V352.0 H280.1 V352.8 H280.6 V356.6 H281.1 V361.1 H281.6 V365.5 H282.1 V370.1 H282.6 V374.5 H283.1 V378.9 H283.6 V383.3 H284.1 V387.5 H284.6 V391.9 H285.1 V396.0 H285.6 V400.3 H286.1 V404.5 H286.6 V407.6 H287.1 V410.5 H287.6 V413.7 H288.1 V416.3 H288.6 V418.2 H289.1 V420.0 H289.6 V421.5 H290.1 V422.3 H290.6 V423.0 H291.1 V423.4 H291.6 V424.2 H292.1 V425.0 H292.6 V425.3 H293.1 V425.7 H293.6 V425.9 H294.1 V426.1 H294.6 V426.3 H295.1 V426.4 H295.6 V426.7 H296.1 V427.0 H296.6 V427.1 H297.1 V427.3 H297.6 V427.3 H298.1 V427.2 H298.6 V427.3 H299.1 V427.4 H299.6 V427.4 H300.1 V427.5 H300.6 V427.6 H301.1 V427.8 H301.6 V427.8 H302.1 V427.9 H302.6 V428.0 H303.1 V427.9 H303.6 V427.9 H304.1 V427.9 H304.6 V427.9 H305.1 V428.0 H305.6 V428.0 H306.1 V428.0 H306.6 V428.0 H307.1 V428.1 H307.6 V428.1 H308.1 V428.0 H308.6 V428.0 H309.1 V428.0 H309.6 V428.0 H310.1 V428.0 H310.6 V428.0 H311.1 V428.2 H311.6 V428.2 H312.1 V428.1 H312.6 V428.2 H313.1 V428.0 H313.6 V428.0 H314.1 V428.2 H314.6 V428.2 H315.1 V428.1 H315.6 V428.1 H316.1 V428.1 H316.6 V428.1 H317.1 V428.3 H317.6 V428.3 H318.1 V428.2 H318.6 V428.2 H319.1 V428.2 H319.6 V428.2 H320.1 V428.2 H320.6 V428.2 H321.1 V428.1 H321.6 V428.1 H322.1 V428.2 H322.6 V428.2 H323.1 V428.1 H323.6 V428.2 H324.1 V428.2 H324.6 V428.2 H325.1 V428.2 H325.6 V428.2 H326.1 V428.2 H326.6 V428.2 H327.1 V428.2 H327.6 V428.3 H328.1 V428.3 H328.6 V428.3 H329.1 V428.3 H329.6 V428.3 H330.1 V428.3 H330.6 V428.3 H331.1 V428.3 H331.6 V428.3 H332.1 V428.3 H332.6 V428.3 H333.1 V428.3 H333.6 V428.3 H334.1 V428.4 H334.6 V428.4 H335.1 V428.3 H335.6 V428.3 H336.1 V428.4 H336.6 V428.4 H337.1 V428.4 H337.6 V428.5 H338.1 V428.4 H338.6 V428.4 H339.1 V428.4 H339.6 V428.4 H340.1 V428.5 H340.6 V428.5 H341.1 V428.4 H341.6 V428.4 H342.1 V428.4 H342.6 V428.4 H343.1 V428.5 H343.6 V428.5 H344.1 V428.5 H344.6 V428.5 H345.1 V428.5 H345.6 V428.5 H346.1 V428.5 H346.6 V428.5 H347.1 V428.5 H347.6 V428.6 H348.1 V428.5 H348.6 V428.5 H349.1 V428.5 H349.6 V428.5 H350.1 V428.5 H350.6 V428.5 H351.1 V428.5 H351.6 V428.5 H352.1 V428.6 H352.6 V428.6 H353.1 V428.5 H353.6 V428.5 H354.1 V428.6 H354.6 V428.6 H355.1 V428.6 H355.6 V428.6 H356.1 V428.6 H356.6 V428.6" fill="none" stroke="#686868" stroke-width="1.7" stroke-linejoin="round"/>
<path d="M252.6,428.5 H253.1 V428.4 H253.6 V428.4 H254.1 V428.5 H254.6 V428.5 H255.1 V428.4 H255.6 V428.4 H256.1 V428.4 H256.6 V428.4 H257.1 V428.4 H257.6 V428.4 H258.1 V428.4 H258.6 V428.4 H259.1 V428.3 H259.6 V428.3 H260.1 V428.4 H260.6 V428.4 H261.1 V428.3 H261.6 V428.3 H262.1 V428.4 H262.6 V428.4 H263.1 V428.4 H263.6 V428.4 H264.1 V428.4 H264.6 V428.4 H265.1 V428.4 H265.6 V428.4 H266.1 V428.3 H266.6 V427.9 H267.1 V427.5 H267.6 V427.1 H268.1 V426.7 H268.6 V426.3 H269.1 V425.9 H269.6 V424.4 H270.1 V422.4 H270.6 V420.8 H271.1 V419.6 H271.6 V415.9 H272.1 V411.3 H272.6 V407.5 H273.1 V402.0 H273.6 V396.3 H274.1 V390.6 H274.6 V384.9 H275.1 V379.8 H275.6 V374.7 H276.1 V369.9 H276.6 V365.5 H277.1 V361.0 H277.6 V356.5 H278.1 V353.2 H278.6 V352.5 H279.1 V351.5 H279.6 V352.0 H280.1 V352.8 H280.6 V356.6 H281.1 V361.1 H281.6 V365.5 H282.1 V370.1 H282.6 V374.5 H283.1 V378.9 H283.6 V383.3 H284.1 V387.5 H284.6 V391.9 H285.1 V396.0 H285.6 V400.3 H286.1 V404.5 H286.6 V407.6 H287.1 V410.5 H287.6 V413.7 H288.1 V416.3 H288.6 V418.2 H289.1 V420.0 H289.6 V421.5 H290.1 V422.3 H290.6 V423.0 H291.1 V423.4 H291.6 V424.2 H292.1 V425.0 H292.6 V425.3 H293.1 V425.7 H293.6 V425.9 H294.1 V426.1 H294.6 V426.3 H295.1 V426.4 H295.6 V426.7 H296.1 V427.0 H296.6 V427.1 H297.1 V427.3 H297.6 V427.3 H298.1 V427.2 H298.6 V427.3 H299.1 V427.4 H299.6 V427.4 H300.1 V427.5 H300.6 V427.6 H301.1 V427.8 H301.6 V427.8 H302.1 V427.9 H302.6 V428.0 H303.1 V427.9 H303.6 V427.9 H304.1 V427.9 H304.6 V427.9 H305.1 V428.0 H305.6 V428.0 H306.1 V428.0 H306.6 V428.0 H307.1 V428.1 H307.6 V428.1 H308.1 V428.0 H308.6 V428.0 H309.1 V428.0 H309.6 V428.0 H310.1 V428.0 H310.6 V428.0 H311.1 V428.2 H311.6 V428.2 H312.1 V428.1 H312.6 V428.2 H313.1 V428.0 H313.6 V428.0 H314.1 V428.2 H314.6 V428.2 H315.1 V428.1 H315.6 V428.1 H316.1 V428.1 H316.6 V428.1 H317.1 V428.3 H317.6 V428.3 H318.1 V428.2 H318.6 V428.2 H319.1 V428.2 H319.6 V428.2 H320.1 V428.2 H320.6 V428.2 H321.1 V428.1 H321.6 V428.1 H322.1 V428.2 H322.6 V428.2 H323.1 V428.1 H323.6 V428.2 H324.1 V428.2 H324.6 V428.2 H325.1 V428.2 H325.6 V428.2 H326.1 V428.2 H326.6 V428.2 H327.1 V428.2 H327.6 V428.3 H328.1 V428.3 H328.6 V428.3 H329.1 V428.3 H329.6 V428.3 H330.1 V428.3 H330.6 V428.3 H331.1 V428.3 H331.6 V428.3 H332.1 V428.3 H332.6 V428.3 H333.1 V428.3 H333.6 V428.3 H334.1 V428.4 H334.6 V428.4 H335.1 V428.3 H335.6 V428.3 H336.1 V428.4 H336.6 V428.4 H337.1 V428.4 H337.6 V428.5 H338.1 V428.4 H338.6 V428.4 H339.1 V428.4 H339.6 V428.4 H340.1 V428.5 H340.6 V428.5 H341.1 V428.4 H341.6 V428.4 H342.1 V428.4 H342.6 V428.4 H343.1 V428.5 H343.6 V428.5 H344.1 V428.5 H344.6 V428.5 H345.1 V428.5 H345.6 V428.5 H346.1 V428.5 H346.6 V428.5 H347.1 V428.5 H347.6 V428.6 H348.1 V428.5 H348.6 V428.5 H349.1 V428.5 H349.6 V428.5 H350.1 V428.5 H350.6 V428.5 H351.1 V428.5 H351.6 V428.5 H352.1 V428.6 H352.6 V428.6 H353.1 V428.5 H353.6 V428.5 H354.1 V428.6 H354.6 V428.6 H355.1 V428.6 H355.6 V428.6 H356.1 V428.6 H356.6 V428.6" fill="none" stroke="#878787" stroke-width="1.15" stroke-linejoin="round" clip-path="url(#d8)"/>
</g>
<path d="M251.3,350.5 H357.5 V430.1" fill="none" stroke="#383838" stroke-width="1.5"/>
<path d="M252.0,349.8 V430.90000000000003" fill="none" stroke="#000" stroke-width="1.5"/>
<path d="M251.3,430.1 H358.2" fill="none" stroke="#000" stroke-width="1.35"/>
<path d="M252.0,429.80h-4.9 M252.0,427.16h-3.0 M252.0,424.53h-3.0 M252.0,421.89h-3.0 M252.0,419.25h-3.0 M252.0,416.62h-3.0 M252.0,413.98h-4.7 M252.0,411.34h-3.0 M252.0,408.71h-3.0 M252.0,406.07h-3.0 M252.0,403.43h-3.0 M252.0,400.80h-3.0 M252.0,398.16h-4.7 M252.0,395.52h-3.0 M252.0,392.89h-3.0 M252.0,390.25h-3.0 M252.0,387.61h-3.0 M252.0,384.98h-3.0 M252.0,382.34h-4.7 M252.0,379.70h-3.0 M252.0,377.07h-3.0 M252.0,374.43h-3.0 M252.0,371.79h-3.0 M252.0,369.16h-3.0 M252.0,366.52h-4.7 M252.0,363.88h-3.0 M252.0,361.25h-3.0 M252.0,358.61h-3.0 M252.0,355.97h-3.0 M252.0,353.34h-3.0 M252.0,350.70h-4.3" stroke="#000" stroke-width="1.2" fill="none"/>
<path d="M252.90,430.1v4.9 M260.73,430.1v2.7 M265.31,430.1v2.7 M268.55,430.1v2.7 M271.07,430.1v2.7 M273.13,430.1v2.7 M274.87,430.1v2.7 M276.38,430.1v2.7 M277.71,430.1v2.7 M278.90,430.1v4.9 M286.73,430.1v2.7 M291.31,430.1v2.7 M294.55,430.1v2.7 M297.07,430.1v2.7 M299.13,430.1v2.7 M300.87,430.1v2.7 M302.38,430.1v2.7 M303.71,430.1v2.7 M304.90,430.1v4.9 M312.73,430.1v2.7 M317.31,430.1v2.7 M320.55,430.1v2.7 M323.07,430.1v2.7 M325.13,430.1v2.7 M326.87,430.1v2.7 M328.38,430.1v2.7 M329.71,430.1v2.7 M330.90,430.1v4.9 M338.73,430.1v2.7 M343.31,430.1v2.7 M346.55,430.1v2.7 M349.07,430.1v2.7 M351.13,430.1v2.7 M352.87,430.1v2.7 M354.38,430.1v2.7 M355.71,430.1v2.7 M356.40,430.1v4.9" stroke="#000" stroke-width="1.2" fill="none"/>
<g font-size="9.2px" stroke="#111" stroke-width="0.42">
<text transform="translate(243.5,350.8) rotate(-90)" text-anchor="middle" textLength="15.0" lengthAdjust="spacingAndGlyphs">300</text>
<text transform="translate(243.5,429.3) rotate(-90)" text-anchor="middle" textLength="4.5" lengthAdjust="spacingAndGlyphs">0</text>
<text transform="translate(233.5,392.1) rotate(-90)" text-anchor="middle" textLength="29.8" lengthAdjust="spacingAndGlyphs">Counts</text>
<text x="246.7" y="445.4" font-size="9.9px" textLength="8.5" lengthAdjust="spacingAndGlyphs">10</text>
<text x="255.4" y="441.0" font-size="10.6px" textLength="4.7" lengthAdjust="spacingAndGlyphs">0</text>
<text x="272.7" y="445.4" font-size="9.9px" textLength="8.5" lengthAdjust="spacingAndGlyphs">10</text>
<text x="281.4" y="441.0" font-size="10.6px" textLength="4.7" lengthAdjust="spacingAndGlyphs">1</text>
<text x="298.7" y="445.4" font-size="9.9px" textLength="8.5" lengthAdjust="spacingAndGlyphs">10</text>
<text x="307.4" y="441.0" font-size="10.6px" textLength="4.7" lengthAdjust="spacingAndGlyphs">2</text>
<text x="324.7" y="445.4" font-size="9.9px" textLength="8.5" lengthAdjust="spacingAndGlyphs">10</text>
<text x="333.4" y="441.0" font-size="10.6px" textLength="4.7" lengthAdjust="spacingAndGlyphs">3</text>
<text x="350.7" y="445.4" font-size="9.9px" textLength="8.5" lengthAdjust="spacingAndGlyphs">10</text>
<text x="359.4" y="441.0" font-size="10.6px" textLength="4.7" lengthAdjust="spacingAndGlyphs">4</text>
<text x="302.9" y="455.3" text-anchor="middle" textLength="24.8" lengthAdjust="spacingAndGlyphs" stroke-width="0.6">FL2-H</text>
</g>
</g>
<g id="p9">
<clipPath id="c9"><rect x="407.5" y="349.9" width="104.39999999999998" height="81.20000000000005"/></clipPath>
<g clip-path="url(#c9)">
<clipPath id="d9"><path d="M407.6,428.6 H408.1 V428.6 H408.6 V428.6 H409.1 V428.6 H409.6 V428.6 H410.1 V428.6 H410.6 V428.6 H411.1 V428.6 H411.6 V428.6 H412.1 V428.6 H412.6 V428.6 H413.1 V428.6 H413.6 V428.6 H414.1 V428.6 H414.6 V428.6 H415.1 V428.6 H415.6 V428.6 H416.1 V428.6 H416.6 V428.6 H417.1 V428.6 H417.6 V428.6 H418.1 V428.5 H418.6 V428.0 H419.1 V427.4 H419.6 V426.9 H420.1 V426.5 H420.6 V425.9 H421.1 V424.9 H421.6 V423.9 H422.1 V423.0 H422.6 V422.0 H423.1 V420.7 H423.6 V419.8 H424.1 V419.5 H424.6 V418.6 H425.1 V418.3 H425.6 V417.4 H426.1 V415.2 H426.6 V414.2 H427.1 V414.1 H427.6 V413.1 H428.1 V412.3 H428.6 V411.0 H429.1 V409.0 H429.6 V407.8 H430.1 V406.8 H430.6 V405.6 H431.1 V405.3 H431.6 V404.2 H432.1 V401.9 H432.6 V403.7 H433.1 V406.3 H433.6 V408.1 H434.1 V406.7 H434.6 V406.0 H435.1 V406.8 H435.6 V408.4 H436.1 V410.2 H436.6 V411.8 H437.1 V412.0 H437.6 V413.0 H438.1 V413.3 H438.6 V414.3 H439.1 V414.4 H439.6 V413.7 H440.1 V413.2 H440.6 V413.7 H441.1 V414.5 H441.6 V415.0 H442.1 V414.9 H442.6 V414.1 H443.1 V413.6 H443.6 V412.9 H444.1 V412.4 H444.6 V411.7 H445.1 V410.4 H445.6 V409.6 H446.1 V408.8 H446.6 V408.4 H447.1 V409.1 H447.6 V408.7 H448.1 V407.1 H448.6 V406.7 H449.1 V407.3 H449.6 V407.1 H450.1 V406.4 H450.6 V406.3 H451.1 V406.8 H451.6 V406.6 H452.1 V405.3 H452.6 V405.2 H453.1 V406.7 H453.6 V406.7 H454.1 V405.5 H454.6 V405.4 H455.1 V405.0 H455.6 V406.1 H456.1 V407.6 H456.6 V408.7 H457.1 V409.9 H457.6 V410.6 H458.1 V410.5 H458.6 V411.1 H459.1 V412.5 H459.6 V412.8 H460.1 V412.5 H460.6 V412.3 H461.1 V412.5 H461.6 V412.7 H462.1 V413.0 H462.6 V413.9 H463.1 V414.6 H463.6 V415.4 H464.1 V415.8 H464.6 V416.2 H465.1 V417.6 H465.6 V418.1 H466.1 V418.9 H466.6 V419.3 H467.1 V418.9 H467.6 V419.3 H468.1 V419.2 H468.6 V419.6 H469.1 V420.9 H469.6 V421.0 H470.1 V420.4 H470.6 V420.5 H471.1 V420.3 H471.6 V420.4 H472.1 V420.4 H472.6 V420.7 H473.1 V421.9 H473.6 V422.2 H474.1 V422.4 H474.6 V422.7 H475.1 V422.6 H475.6 V422.9 H476.1 V422.9 H476.6 V423.2 H477.1 V423.6 H477.6 V423.9 H478.1 V423.7 H478.6 V424.0 H479.1 V424.9 H479.6 V425.1 H480.1 V424.7 H480.6 V424.9 H481.1 V425.4 H481.6 V425.6 H482.1 V425.9 H482.6 V426.0 H483.1 V426.1 H483.6 V426.3 H484.1 V426.2 H484.6 V426.3 H485.1 V426.3 H485.6 V426.5 H486.1 V426.8 H486.6 V426.9 H487.1 V426.8 H487.6 V426.9 H488.1 V427.3 H488.6 V427.4 H489.1 V427.2 H489.6 V427.3 H490.1 V427.6 H490.6 V427.6 H491.1 V427.4 H491.6 V427.5 H492.1 V427.6 H492.6 V427.6 H493.1 V427.7 H493.6 V427.7 H494.1 V427.9 H494.6 V427.9 H495.1 V427.9 H495.6 V427.9 H496.1 V427.9 H496.6 V427.9 H497.1 V428.2 H497.6 V428.2 H498.1 V428.1 H498.6 V428.1 H499.1 V428.1 H499.6 V428.1 H500.1 V428.2 H500.6 V428.2 H501.1 V428.3 H501.6 V428.3 H502.1 V428.3 H502.6 V428.3 H503.1 V428.4 H503.6 V428.4 H504.1 V428.5 H504.6 V428.5 H505.1 V428.4 H505.6 V428.5 H506.1 V428.6 H506.6 V428.7 H507.1 V428.7 H507.6 V428.7 H508.1 V428.6 H508.6 V428.6 H509.1 V428.7 H509.6 V428.7 H510.1 V428.7 H510.6 V428.7 H511.1 V428.8 H511.6 V428.8 V431.1 H407.6 Z"/></clipPath>
<path d="M407.6,428.6 H408.1 V428.6 H408.6 V428.6 H409.1 V428.6 H409.6 V428.6 H410.1 V428.6 H410.6 V428.6 H411.1 V428.6 H411.6 V428.6 H412.1 V428.6 H412.6 V428.6 H413.1 V428.6 H413.6 V428.6 H414.1 V428.6 H414.6 V428.6 H415.1 V428.6 H415.6 V428.6 H416.1 V428.6 H416.6 V428.6 H417.1 V428.6 H417.6 V428.6 H418.1 V428.5 H418.6 V428.0 H419.1 V427.4 H419.6 V426.9 H420.1 V426.5 H420.6 V425.9 H421.1 V424.9 H421.6 V423.9 H422.1 V423.0 H422.6 V422.0 H423.1 V420.7 H423.6 V419.8 H424.1 V419.5 H424.6 V418.6 H425.1 V418.3 H425.6 V417.4 H426.1 V415.2 H426.6 V414.2 H427.1 V414.1 H427.6 V413.1 H428.1 V412.3 H428.6 V411.0 H429.1 V409.0 H429.6 V407.8 H430.1 V406.8 H430.6 V405.6 H431.1 V405.3 H431.6 V404.2 H432.1 V401.9 H432.6 V403.7 H433.1 V406.3 H433.6 V408.1 H434.1 V406.7 H434.6 V406.0 H435.1 V406.8 H435.6 V408.4 H436.1 V410.2 H436.6 V411.8 H437.1 V412.0 H437.6 V413.0 H438.1 V413.3 H438.6 V414.3 H439.1 V414.4 H439.6 V413.7 H440.1 V413.2 H440.6 V413.7 H441.1 V414.5 H441.6 V415.0 H442.1 V414.9 H442.6 V414.1 H443.1 V413.6 H443.6 V412.9 H444.1 V412.4 H444.6 V411.7 H445.1 V410.4 H445.6 V409.6 H446.1 V408.8 H446.6 V408.4 H447.1 V409.1 H447.6 V408.7 H448.1 V407.1 H448.6 V406.7 H449.1 V407.3 H449.6 V407.1 H450.1 V406.4 H450.6 V406.3 H451.1 V406.8 H451.6 V406.6 H452.1 V405.3 H452.6 V405.2 H453.1 V406.7 H453.6 V406.7 H454.1 V405.5 H454.6 V405.4 H455.1 V405.0 H455.6 V406.1 H456.1 V407.6 H456.6 V408.7 H457.1 V409.9 H457.6 V410.6 H458.1 V410.5 H458.6 V411.1 H459.1 V412.5 H459.6 V412.8 H460.1 V412.5 H460.6 V412.3 H461.1 V412.5 H461.6 V412.7 H462.1 V413.0 H462.6 V413.9 H463.1 V414.6 H463.6 V415.4 H464.1 V415.8 H464.6 V416.2 H465.1 V417.6 H465.6 V418.1 H466.1 V418.9 H466.6 V419.3 H467.1 V418.9 H467.6 V419.3 H468.1 V419.2 H468.6 V419.6 H469.1 V420.9 H469.6 V421.0 H470.1 V420.4 H470.6 V420.5 H471.1 V420.3 H471.6 V420.4 H472.1 V420.4 H472.6 V420.7 H473.1 V421.9 H473.6 V422.2 H474.1 V422.4 H474.6 V422.7 H475.1 V422.6 H475.6 V422.9 H476.1 V422.9 H476.6 V423.2 H477.1 V423.6 H477.6 V423.9 H478.1 V423.7 H478.6 V424.0 H479.1 V424.9 H479.6 V425.1 H480.1 V424.7 H480.6 V424.9 H481.1 V425.4 H481.6 V425.6 H482.1 V425.9 H482.6 V426.0 H483.1 V426.1 H483.6 V426.3 H484.1 V426.2 H484.6 V426.3 H485.1 V426.3 H485.6 V426.5 H486.1 V426.8 H486.6 V426.9 H487.1 V426.8 H487.6 V426.9 H488.1 V427.3 H488.6 V427.4 H489.1 V427.2 H489.6 V427.3 H490.1 V427.6 H490.6 V427.6 H491.1 V427.4 H491.6 V427.5 H492.1 V427.6 H492.6 V427.6 H493.1 V427.7 H493.6 V427.7 H494.1 V427.9 H494.6 V427.9 H495.1 V427.9 H495.6 V427.9 H496.1 V427.9 H496.6 V427.9 H497.1 V428.2 H497.6 V428.2 H498.1 V428.1 H498.6 V428.1 H499.1 V428.1 H499.6 V428.1 H500.1 V428.2 H500.6 V428.2 H501.1 V428.3 H501.6 V428.3 H502.1 V428.3 H502.6 V428.3 H503.1 V428.4 H503.6 V428.4 H504.1 V428.5 H504.6 V428.5 H505.1 V428.4 H505.6 V428.5 H506.1 V428.6 H506.6 V428.7 H507.1 V428.7 H507.6 V428.7 H508.1 V428.6 H508.6 V428.6 H509.1 V428.7 H509.6 V428.7 H510.1 V428.7 H510.6 V428.7 H511.1 V428.8 H511.6 V428.8 V431.1 H407.6 Z" fill="#494949" stroke="#1e1e1e" stroke-width="1.3" stroke-linejoin="miter"/>
<path d="M407.6,428.3 H408.1 V428.5 H408.6 V428.5 H409.1 V428.5 H409.6 V428.5 H410.1 V428.4 H410.6 V428.4 H411.1 V428.3 H411.6 V428.3 H412.1 V428.5 H412.6 V428.5 H413.1 V428.4 H413.6 V428.4 H414.1 V428.3 H414.6 V428.3 H415.1 V428.3 H415.6 V428.3 H416.1 V428.5 H416.6 V428.5 H417.1 V428.4 H417.6 V428.4 H418.1 V428.2 H418.6 V427.6 H419.1 V426.8 H419.6 V426.2 H420.1 V425.5 H420.6 V424.8 H421.1 V422.6 H421.6 V420.2 H422.1 V418.5 H422.6 V416.3 H423.1 V412.0 H423.6 V408.1 H424.1 V404.0 H424.6 V399.7 H425.1 V395.4 H425.6 V390.4 H426.1 V385.4 H426.6 V381.0 H427.1 V376.0 H427.6 V371.7 H428.1 V368.5 H428.6 V364.5 H429.1 V360.6 H429.6 V358.1 H430.1 V355.8 H430.6 V353.3 H431.1 V352.2 H431.6 V351.2 H432.1 V353.2 H432.6 V355.0 H433.1 V357.3 H433.6 V362.3 H434.1 V367.5 H434.6 V373.5 H435.1 V379.1 H435.6 V386.1 H436.1 V393.6 H436.6 V400.6 H437.1 V406.9 H437.6 V411.2 H438.1 V415.7 H438.6 V419.0 H439.1 V420.6 H439.6 V422.5 H440.1 V424.3 H440.6 V424.8 H441.1 V425.1 H441.6 V425.6 H442.1 V426.0 H442.6 V426.5 H443.1 V426.9 H443.6 V427.0 H444.1 V427.1 H444.6 V427.2 H445.1 V427.3 H445.6 V427.4 H446.1 V427.4 H446.6 V427.5 H447.1 V427.7 H447.6 V427.8 H448.1 V427.8 H448.6 V427.9 H449.1 V428.0 H449.6 V428.0 H450.1 V428.0 H450.6 V428.0 H451.1 V428.0 H451.6 V428.0 H452.1 V428.1 H452.6 V428.1 H453.1 V427.9 H453.6 V427.9 H454.1 V428.1 H454.6 V428.1 H455.1 V428.1 H455.6 V428.1 H456.1 V428.1 H456.6 V428.1 H457.1 V428.1 H457.6 V428.1 H458.1 V428.2 H458.6 V428.2 H459.1 V428.1 H459.6 V428.1 H460.1 V428.1 H460.6 V428.1 H461.1 V428.2 H461.6 V428.2 H462.1 V428.0 H462.6 V428.0 H463.1 V428.2 H463.6 V428.2 H464.1 V428.2 H464.6 V428.2 H465.1 V428.1 H465.6 V428.1 H466.1 V428.2 H466.6 V428.2 H467.1 V428.2 H467.6 V428.2 H468.1 V428.3 H468.6 V428.3 H469.1 V428.2 H469.6 V428.2 H470.1 V428.3 H470.6 V428.3 H471.1 V428.2 H471.6 V428.2 H472.1 V428.2 H472.6 V428.2 H473.1 V428.3 H473.6 V428.3 H474.1 V428.2 H474.6 V428.2 H475.1 V428.3 H475.6 V428.3 H476.1 V428.3 H476.6 V428.3 H477.1 V428.2 H477.6 V428.2 H478.1 V428.3 H478.6 V428.3 H479.1 V428.3 H479.6 V428.3 H480.1 V428.3 H480.6 V428.3 H481.1 V428.3 H481.6 V428.3 H482.1 V428.4 H482.6 V428.4 H483.1 V428.3 H483.6 V428.3 H484.1 V428.3 H484.6 V428.3 H485.1 V428.3 H485.6 V428.3 H486.1 V428.4 H486.6 V428.4 H487.1 V428.4 H487.6 V428.4 H488.1 V428.3 H488.6 V428.3 H489.1 V428.4 H489.6 V428.4 H490.1 V428.4 H490.6 V428.4 H491.1 V428.4 H491.6 V428.4 H492.1 V428.4 H492.6 V428.4 H493.1 V428.4 H493.6 V428.4 H494.1 V428.5 H494.6 V428.5 H495.1 V428.5 H495.6 V428.5 H496.1 V428.5 H496.6 V428.5 H497.1 V428.4 H497.6 V428.4 H498.1 V428.4 H498.6 V428.4 H499.1 V428.4 H499.6 V428.4 H500.1 V428.5 H500.6 V428.5 H501.1 V428.5 H501.6 V428.5 H502.1 V428.6 H502.6 V428.6 H503.1 V428.4 H503.6 V428.4 H504.1 V428.6 H504.6 V428.6 H505.1 V428.6 H505.6 V428.6 H506.1 V428.6 H506.6 V428.6 H507.1 V428.5 H507.6 V428.5 H508.1 V428.5 H508.6 V428.5 H509.1 V428.5 H509.6 V428.5 H510.1 V428.5 H510.6 V428.5 H511.1 V428.7 H511.6 V428.7" fill="none" stroke="#686868" stroke-width="1.7" stroke-linejoin="round"/>
<path d="M407.6,428.3 H408.1 V428.5 H408.6 V428.5 H409.1 V428.5 H409.6 V428.5 H410.1 V428.4 H410.6 V428.4 H411.1 V428.3 H411.6 V428.3 H412.1 V428.5 H412.6 V428.5 H413.1 V428.4 H413.6 V428.4 H414.1 V428.3 H414.6 V428.3 H415.1 V428.3 H415.6 V428.3 H416.1 V428.5 H416.6 V428.5 H417.1 V428.4 H417.6 V428.4 H418.1 V428.2 H418.6 V427.6 H419.1 V426.8 H419.6 V426.2 H420.1 V425.5 H420.6 V424.8 H421.1 V422.6 H421.6 V420.2 H422.1 V418.5 H422.6 V416.3 H423.1 V412.0 H423.6 V408.1 H424.1 V404.0 H424.6 V399.7 H425.1 V395.4 H425.6 V390.4 H426.1 V385.4 H426.6 V381.0 H427.1 V376.0 H427.6 V371.7 H428.1 V368.5 H428.6 V364.5 H429.1 V360.6 H429.6 V358.1 H430.1 V355.8 H430.6 V353.3 H431.1 V352.2 H431.6 V351.2 H432.1 V353.2 H432.6 V355.0 H433.1 V357.3 H433.6 V362.3 H434.1 V367.5 H434.6 V373.5 H435.1 V379.1 H435.6 V386.1 H436.1 V393.6 H436.6 V400.6 H437.1 V406.9 H437.6 V411.2 H438.1 V415.7 H438.6 V419.0 H439.1 V420.6 H439.6 V422.5 H440.1 V424.3 H440.6 V424.8 H441.1 V425.1 H441.6 V425.6 H442.1 V426.0 H442.6 V426.5 H443.1 V426.9 H443.6 V427.0 H444.1 V427.1 H444.6 V427.2 H445.1 V427.3 H445.6 V427.4 H446.1 V427.4 H446.6 V427.5 H447.1 V427.7 H447.6 V427.8 H448.1 V427.8 H448.6 V427.9 H449.1 V428.0 H449.6 V428.0 H450.1 V428.0 H450.6 V428.0 H451.1 V428.0 H451.6 V428.0 H452.1 V428.1 H452.6 V428.1 H453.1 V427.9 H453.6 V427.9 H454.1 V428.1 H454.6 V428.1 H455.1 V428.1 H455.6 V428.1 H456.1 V428.1 H456.6 V428.1 H457.1 V428.1 H457.6 V428.1 H458.1 V428.2 H458.6 V428.2 H459.1 V428.1 H459.6 V428.1 H460.1 V428.1 H460.6 V428.1 H461.1 V428.2 H461.6 V428.2 H462.1 V428.0 H462.6 V428.0 H463.1 V428.2 H463.6 V428.2 H464.1 V428.2 H464.6 V428.2 H465.1 V428.1 H465.6 V428.1 H466.1 V428.2 H466.6 V428.2 H467.1 V428.2 H467.6 V428.2 H468.1 V428.3 H468.6 V428.3 H469.1 V428.2 H469.6 V428.2 H470.1 V428.3 H470.6 V428.3 H471.1 V428.2 H471.6 V428.2 H472.1 V428.2 H472.6 V428.2 H473.1 V428.3 H473.6 V428.3 H474.1 V428.2 H474.6 V428.2 H475.1 V428.3 H475.6 V428.3 H476.1 V428.3 H476.6 V428.3 H477.1 V428.2 H477.6 V428.2 H478.1 V428.3 H478.6 V428.3 H479.1 V428.3 H479.6 V428.3 H480.1 V428.3 H480.6 V428.3 H481.1 V428.3 H481.6 V428.3 H482.1 V428.4 H482.6 V428.4 H483.1 V428.3 H483.6 V428.3 H484.1 V428.3 H484.6 V428.3 H485.1 V428.3 H485.6 V428.3 H486.1 V428.4 H486.6 V428.4 H487.1 V428.4 H487.6 V428.4 H488.1 V428.3 H488.6 V428.3 H489.1 V428.4 H489.6 V428.4 H490.1 V428.4 H490.6 V428.4 H491.1 V428.4 H491.6 V428.4 H492.1 V428.4 H492.6 V428.4 H493.1 V428.4 H493.6 V428.4 H494.1 V428.5 H494.6 V428.5 H495.1 V428.5 H495.6 V428.5 H496.1 V428.5 H496.6 V428.5 H497.1 V428.4 H497.6 V428.4 H498.1 V428.4 H498.6 V428.4 H499.1 V428.4 H499.6 V428.4 H500.1 V428.5 H500.6 V428.5 H501.1 V428.5 H501.6 V428.5 H502.1 V428.6 H502.6 V428.6 H503.1 V428.4 H503.6 V428.4 H504.1 V428.6 H504.6 V428.6 H505.1 V428.6 H505.6 V428.6 H506.1 V428.6 H506.6 V428.6 H507.1 V428.5 H507.6 V428.5 H508.1 V428.5 H508.6 V428.5 H509.1 V428.5 H509.6 V428.5 H510.1 V428.5 H510.6 V428.5 H511.1 V428.7 H511.6 V428.7" fill="none" stroke="#878787" stroke-width="1.15" stroke-linejoin="round" clip-path="url(#d9)"/>
</g>
<path d="M406.8,349.9 H511.9 V430.1" fill="none" stroke="#383838" stroke-width="1.5"/>
<path d="M407.5,349.2 V430.90000000000003" fill="none" stroke="#000" stroke-width="1.5"/>
<path d="M406.8,430.1 H512.6" fill="none" stroke="#000" stroke-width="1.35"/>
<path d="M407.5,429.80h-4.9 M407.5,427.14h-3.0 M407.5,424.49h-3.0 M407.5,421.83h-3.0 M407.5,419.17h-3.0 M407.5,416.52h-3.0 M407.5,413.86h-4.7 M407.5,411.20h-3.0 M407.5,408.55h-3.0 M407.5,405.89h-3.0 M407.5,403.23h-3.0 M407.5,400.58h-3.0 M407.5,397.92h-4.7 M407.5,395.26h-3.0 M407.5,392.61h-3.0 M407.5,389.95h-3.0 M407.5,387.29h-3.0 M407.5,384.64h-3.0 M407.5,381.98h-4.7 M407.5,379.32h-3.0 M407.5,376.67h-3.0 M407.5,374.01h-3.0 M407.5,371.35h-3.0 M407.5,368.70h-3.0 M407.5,366.04h-4.7 M407.5,363.38h-3.0 M407.5,360.73h-3.0 M407.5,358.07h-3.0 M407.5,355.41h-3.0 M407.5,352.76h-3.0 M407.5,350.10h-4.3" stroke="#000" stroke-width="1.2" fill="none"/>
<path d="M408.40,430.1v4.9 M416.14,430.1v2.7 M420.67,430.1v2.7 M423.89,430.1v2.7 M426.38,430.1v2.7 M428.42,430.1v2.7 M430.14,430.1v2.7 M431.63,430.1v2.7 M432.95,430.1v2.7 M434.12,430.1v4.9 M441.87,430.1v2.7 M446.40,430.1v2.7 M449.61,430.1v2.7 M452.11,430.1v2.7 M454.14,430.1v2.7 M455.87,430.1v2.7 M457.36,430.1v2.7 M458.67,430.1v2.7 M459.85,430.1v4.9 M467.59,430.1v2.7 M472.12,430.1v2.7 M475.34,430.1v2.7 M477.83,430.1v2.7 M479.87,430.1v2.7 M481.59,430.1v2.7 M483.08,430.1v2.7 M484.40,430.1v2.7 M485.57,430.1v4.9 M493.32,430.1v2.7 M497.85,430.1v2.7 M501.06,430.1v2.7 M503.56,430.1v2.7 M505.59,430.1v2.7 M507.32,430.1v2.7 M508.81,430.1v2.7 M510.12,430.1v2.7 M510.80,430.1v4.9" stroke="#000" stroke-width="1.2" fill="none"/>
<g font-size="9.2px" stroke="#111" stroke-width="0.42">
<text transform="translate(399.0,350.1) rotate(-90)" text-anchor="middle" textLength="15.0" lengthAdjust="spacingAndGlyphs">300</text>
<text transform="translate(399.0,429.3) rotate(-90)" text-anchor="middle" textLength="4.5" lengthAdjust="spacingAndGlyphs">0</text>
<text transform="translate(389.0,391.8) rotate(-90)" text-anchor="middle" textLength="29.8" lengthAdjust="spacingAndGlyphs">Counts</text>
<text x="402.2" y="445.4" font-size="9.9px" textLength="8.5" lengthAdjust="spacingAndGlyphs">10</text>
<text x="410.9" y="441.0" font-size="10.6px" textLength="4.7" lengthAdjust="spacingAndGlyphs">0</text>
<text x="427.9" y="445.4" font-size="9.9px" textLength="8.5" lengthAdjust="spacingAndGlyphs">10</text>
<text x="436.6" y="441.0" font-size="10.6px" textLength="4.7" lengthAdjust="spacingAndGlyphs">1</text>
<text x="453.6" y="445.4" font-size="9.9px" textLength="8.5" lengthAdjust="spacingAndGlyphs">10</text>
<text x="462.3" y="441.0" font-size="10.6px" textLength="4.7" lengthAdjust="spacingAndGlyphs">2</text>
<text x="479.4" y="445.4" font-size="9.9px" textLength="8.5" lengthAdjust="spacingAndGlyphs">10</text>
<text x="488.1" y="441.0" font-size="10.6px" textLength="4.7" lengthAdjust="spacingAndGlyphs">3</text>
<text x="505.1" y="445.4" font-size="9.9px" textLength="8.5" lengthAdjust="spacingAndGlyphs">10</text>
<text x="513.8" y="441.0" font-size="10.6px" textLength="4.7" lengthAdjust="spacingAndGlyphs">4</text>
<text x="457.8" y="455.3" text-anchor="middle" textLength="24.8" lengthAdjust="spacingAndGlyphs" stroke-width="0.6">FL2-H</text>
</g>
</g>
</g>
</g>
</svg>
</body></html>
